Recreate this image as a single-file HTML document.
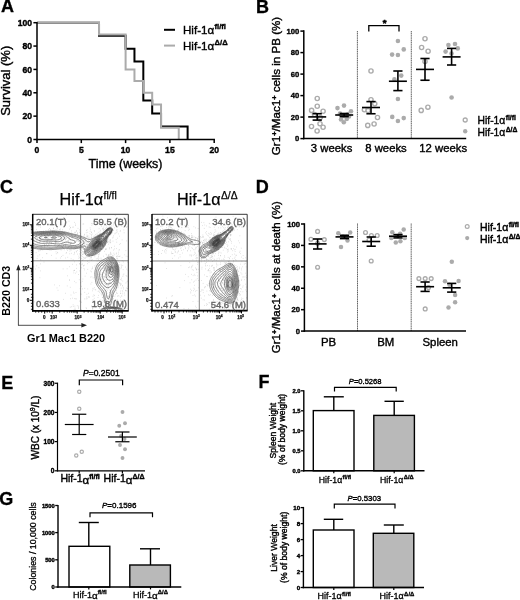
<!DOCTYPE html>
<html><head><meta charset="utf-8"><title>Figure</title>
<style>
html,body{margin:0;padding:0;background:#fff;}
svg{display:block;filter:blur(0.4px);}
svg text{font-family:"Liberation Sans",sans-serif;}
</style></head>
<body>
<svg width="520" height="600" viewBox="0 0 520 600">
<rect x="0" y="0" width="520" height="600" fill="#fff"/>
<text x="0.90" y="12.30" font-size="18" font-weight="bold" text-anchor="start" fill="#000"  stroke="#000" stroke-width="0.3">A</text>
<text x="256.00" y="12.90" font-size="18" font-weight="bold" text-anchor="start" fill="#000"  stroke="#000" stroke-width="0.3">B</text>
<text x="0.00" y="192.90" font-size="18" font-weight="bold" text-anchor="start" fill="#000"  stroke="#000" stroke-width="0.3">C</text>
<text x="255.80" y="192.80" font-size="18" font-weight="bold" text-anchor="start" fill="#000"  stroke="#000" stroke-width="0.3">D</text>
<text x="1.20" y="388.60" font-size="18" font-weight="bold" text-anchor="start" fill="#000"  stroke="#000" stroke-width="0.3">E</text>
<text x="258.40" y="388.30" font-size="18" font-weight="bold" text-anchor="start" fill="#000"  stroke="#000" stroke-width="0.3">F</text>
<text x="-0.70" y="505.10" font-size="18" font-weight="bold" text-anchor="start" fill="#000"  stroke="#000" stroke-width="0.3">G</text>
<path d="M37.00,22.70 L99.02,22.70 L99.02,35.66 L125.60,35.66 L125.60,48.63 L134.46,48.63 L134.46,61.59 L143.32,61.59 L143.32,100.61 L152.18,100.61 L152.18,113.57 L161.04,113.57 L161.04,126.54 L187.62,126.54 L187.62,139.50" fill="none" stroke="#000" stroke-width="2.0" stroke-linejoin="miter"/>
<path d="M37.00,22.70 L99.02,22.70 L99.02,34.38 L125.60,34.38 L125.60,69.42 L134.46,69.42 L134.46,81.10 L143.32,81.10 L143.32,92.78 L152.18,92.78 L152.18,104.46 L161.04,104.46 L161.04,127.82 L178.76,127.82 L178.76,139.50" fill="none" stroke="#ababab" stroke-width="2.0" stroke-linejoin="miter"/>
<line x1="37.00" y1="21.90" x2="37.00" y2="140.25" stroke="#000" stroke-width="1.5" />
<line x1="36.25" y1="139.50" x2="214.95" y2="139.50" stroke="#000" stroke-width="1.5" />
<line x1="33.40" y1="139.50" x2="37.00" y2="139.50" stroke="#000" stroke-width="1.5" />
<text x="32.00" y="142.60" font-size="8.6" font-weight="bold" text-anchor="end" fill="#000"  stroke="#000" stroke-width="0.38">0</text>
<line x1="33.40" y1="116.14" x2="37.00" y2="116.14" stroke="#000" stroke-width="1.5" />
<text x="32.00" y="119.24" font-size="8.6" font-weight="bold" text-anchor="end" fill="#000"  stroke="#000" stroke-width="0.38">20</text>
<line x1="33.40" y1="92.78" x2="37.00" y2="92.78" stroke="#000" stroke-width="1.5" />
<text x="32.00" y="95.88" font-size="8.6" font-weight="bold" text-anchor="end" fill="#000"  stroke="#000" stroke-width="0.38">40</text>
<line x1="33.40" y1="69.42" x2="37.00" y2="69.42" stroke="#000" stroke-width="1.5" />
<text x="32.00" y="72.52" font-size="8.6" font-weight="bold" text-anchor="end" fill="#000"  stroke="#000" stroke-width="0.38">60</text>
<line x1="33.40" y1="46.06" x2="37.00" y2="46.06" stroke="#000" stroke-width="1.5" />
<text x="32.00" y="49.16" font-size="8.6" font-weight="bold" text-anchor="end" fill="#000"  stroke="#000" stroke-width="0.38">80</text>
<line x1="33.40" y1="22.70" x2="37.00" y2="22.70" stroke="#000" stroke-width="1.5" />
<text x="32.00" y="25.80" font-size="8.6" font-weight="bold" text-anchor="end" fill="#000"  stroke="#000" stroke-width="0.38">100</text>
<line x1="37.00" y1="139.50" x2="37.00" y2="143.10" stroke="#000" stroke-width="1.5" />
<text x="37.00" y="153.10" font-size="8.6" font-weight="bold" text-anchor="middle" fill="#000"  stroke="#000" stroke-width="0.38">0</text>
<line x1="81.30" y1="139.50" x2="81.30" y2="143.10" stroke="#000" stroke-width="1.5" />
<text x="81.30" y="153.10" font-size="8.6" font-weight="bold" text-anchor="middle" fill="#000"  stroke="#000" stroke-width="0.38">5</text>
<line x1="125.60" y1="139.50" x2="125.60" y2="143.10" stroke="#000" stroke-width="1.5" />
<text x="125.60" y="153.10" font-size="8.6" font-weight="bold" text-anchor="middle" fill="#000"  stroke="#000" stroke-width="0.38">10</text>
<line x1="169.90" y1="139.50" x2="169.90" y2="143.10" stroke="#000" stroke-width="1.5" />
<text x="169.90" y="153.10" font-size="8.6" font-weight="bold" text-anchor="middle" fill="#000"  stroke="#000" stroke-width="0.38">15</text>
<line x1="214.20" y1="139.50" x2="214.20" y2="143.10" stroke="#000" stroke-width="1.5" />
<text x="214.20" y="153.10" font-size="8.6" font-weight="bold" text-anchor="middle" fill="#000"  stroke="#000" stroke-width="0.38">20</text>
<text x="125.50" y="168.40" font-size="12.4" font-weight="normal" text-anchor="middle" fill="#000"  stroke="#000" stroke-width="0.38">Time (weeks)</text>
<text x="10.40" y="80.80" font-size="13" font-weight="normal" text-anchor="middle" fill="#000" transform="rotate(-90 10.40 80.80)"  stroke="#000" stroke-width="0.38">Survival (%)</text>
<line x1="164.00" y1="29.80" x2="175.00" y2="29.80" stroke="#000" stroke-width="2.0" />
<line x1="164.00" y1="45.60" x2="175.00" y2="45.60" stroke="#ababab" stroke-width="2.0" />
<text x="183.00" y="34.00" font-size="11.6" font-weight="normal" text-anchor="start" fill="#000"  stroke="#000" stroke-width="0.38">Hif-1&#945;<tspan dx="0.4" dy="-5.0" font-size="7.6" font-weight="bold">fl/fl</tspan></text>
<text x="183.00" y="49.90" font-size="11.6" font-weight="normal" text-anchor="start" fill="#000"  stroke="#000" stroke-width="0.38">Hif-1&#945;<tspan dx="0.4" dy="-5.0" font-size="7.6" font-weight="bold">&#916;/&#916;</tspan></text>
<line x1="357.40" y1="31.00" x2="357.40" y2="138.60" stroke="#444" stroke-width="0.85" stroke-dasharray="1.3 0.5"/>
<line x1="411.30" y1="31.00" x2="411.30" y2="138.60" stroke="#444" stroke-width="0.85" stroke-dasharray="1.3 0.5"/>
<circle cx="317.25" cy="98.50" r="2.1" fill="#fff" stroke="#ababab" stroke-width="1.4"/>
<circle cx="317.25" cy="106.25" r="2.1" fill="#fff" stroke="#ababab" stroke-width="1.4"/>
<circle cx="311.60" cy="110.40" r="2.1" fill="#fff" stroke="#ababab" stroke-width="1.4"/>
<circle cx="323.10" cy="111.25" r="2.1" fill="#fff" stroke="#ababab" stroke-width="1.4"/>
<circle cx="314.50" cy="114.50" r="2.1" fill="#fff" stroke="#ababab" stroke-width="1.4"/>
<circle cx="320.30" cy="117.50" r="2.1" fill="#fff" stroke="#ababab" stroke-width="1.4"/>
<circle cx="320.00" cy="123.75" r="2.1" fill="#fff" stroke="#ababab" stroke-width="1.4"/>
<circle cx="311.50" cy="126.50" r="2.1" fill="#fff" stroke="#ababab" stroke-width="1.4"/>
<circle cx="323.10" cy="127.25" r="2.1" fill="#fff" stroke="#ababab" stroke-width="1.4"/>
<circle cx="317.10" cy="131.00" r="2.1" fill="#fff" stroke="#ababab" stroke-width="1.4"/>
<line x1="308.20" y1="116.90" x2="326.20" y2="116.90" stroke="#000" stroke-width="1.6" />
<line x1="317.20" y1="113.70" x2="317.20" y2="120.10" stroke="#000" stroke-width="1.6" />
<line x1="312.60" y1="113.70" x2="321.80" y2="113.70" stroke="#000" stroke-width="1.6" />
<line x1="312.60" y1="120.10" x2="321.80" y2="120.10" stroke="#000" stroke-width="1.6" />
<circle cx="337.50" cy="108.10" r="2.3" fill="#ababab"/>
<circle cx="344.00" cy="105.60" r="2.3" fill="#ababab"/>
<circle cx="351.00" cy="111.25" r="2.3" fill="#ababab"/>
<circle cx="340.00" cy="113.50" r="2.3" fill="#ababab"/>
<circle cx="347.50" cy="114.50" r="2.3" fill="#ababab"/>
<circle cx="343.60" cy="116.00" r="2.3" fill="#ababab"/>
<circle cx="341.00" cy="119.50" r="2.3" fill="#ababab"/>
<circle cx="346.70" cy="119.00" r="2.3" fill="#ababab"/>
<circle cx="343.80" cy="122.30" r="2.3" fill="#ababab"/>
<circle cx="349.00" cy="116.50" r="2.3" fill="#ababab"/>
<line x1="335.20" y1="115.00" x2="353.20" y2="115.00" stroke="#000" stroke-width="1.6" />
<line x1="344.20" y1="113.50" x2="344.20" y2="116.60" stroke="#000" stroke-width="1.6" />
<line x1="339.60" y1="113.50" x2="348.80" y2="113.50" stroke="#000" stroke-width="1.6" />
<line x1="339.60" y1="116.60" x2="348.80" y2="116.60" stroke="#000" stroke-width="1.6" />
<circle cx="371.00" cy="71.00" r="2.1" fill="#fff" stroke="#ababab" stroke-width="1.4"/>
<circle cx="371.00" cy="99.75" r="2.1" fill="#fff" stroke="#ababab" stroke-width="1.4"/>
<circle cx="374.75" cy="103.75" r="2.1" fill="#fff" stroke="#ababab" stroke-width="1.4"/>
<circle cx="364.40" cy="109.75" r="2.1" fill="#fff" stroke="#ababab" stroke-width="1.4"/>
<circle cx="368.10" cy="110.60" r="2.1" fill="#fff" stroke="#ababab" stroke-width="1.4"/>
<circle cx="377.50" cy="117.50" r="2.1" fill="#fff" stroke="#ababab" stroke-width="1.4"/>
<circle cx="374.10" cy="124.00" r="2.1" fill="#fff" stroke="#ababab" stroke-width="1.4"/>
<circle cx="367.75" cy="125.40" r="2.1" fill="#fff" stroke="#ababab" stroke-width="1.4"/>
<line x1="362.00" y1="107.50" x2="380.00" y2="107.50" stroke="#000" stroke-width="1.6" />
<line x1="371.00" y1="101.60" x2="371.00" y2="113.75" stroke="#000" stroke-width="1.6" />
<line x1="366.40" y1="101.60" x2="375.60" y2="101.60" stroke="#000" stroke-width="1.6" />
<line x1="366.40" y1="113.75" x2="375.60" y2="113.75" stroke="#000" stroke-width="1.6" />
<circle cx="397.90" cy="41.00" r="2.3" fill="#ababab"/>
<circle cx="403.75" cy="49.40" r="2.3" fill="#ababab"/>
<circle cx="392.10" cy="54.60" r="2.3" fill="#ababab"/>
<circle cx="397.90" cy="55.00" r="2.3" fill="#ababab"/>
<circle cx="401.25" cy="75.60" r="2.3" fill="#ababab"/>
<circle cx="394.40" cy="79.40" r="2.3" fill="#ababab"/>
<circle cx="397.90" cy="99.00" r="2.3" fill="#ababab"/>
<circle cx="392.25" cy="116.90" r="2.3" fill="#ababab"/>
<circle cx="403.75" cy="118.10" r="2.3" fill="#ababab"/>
<circle cx="397.90" cy="121.00" r="2.3" fill="#ababab"/>
<line x1="388.90" y1="81.25" x2="406.90" y2="81.25" stroke="#000" stroke-width="1.6" />
<line x1="397.90" y1="71.00" x2="397.90" y2="90.60" stroke="#000" stroke-width="1.6" />
<line x1="393.30" y1="71.00" x2="402.50" y2="71.00" stroke="#000" stroke-width="1.6" />
<line x1="393.30" y1="90.60" x2="402.50" y2="90.60" stroke="#000" stroke-width="1.6" />
<circle cx="425.00" cy="38.75" r="2.1" fill="#fff" stroke="#ababab" stroke-width="1.4"/>
<circle cx="421.60" cy="47.50" r="2.1" fill="#fff" stroke="#ababab" stroke-width="1.4"/>
<circle cx="428.10" cy="51.25" r="2.1" fill="#fff" stroke="#ababab" stroke-width="1.4"/>
<circle cx="425.00" cy="61.50" r="2.1" fill="#fff" stroke="#ababab" stroke-width="1.4"/>
<circle cx="427.90" cy="107.20" r="2.1" fill="#fff" stroke="#ababab" stroke-width="1.4"/>
<circle cx="421.20" cy="110.40" r="2.1" fill="#fff" stroke="#ababab" stroke-width="1.4"/>
<line x1="416.00" y1="69.40" x2="434.00" y2="69.40" stroke="#000" stroke-width="1.6" />
<line x1="425.00" y1="58.50" x2="425.00" y2="80.25" stroke="#000" stroke-width="1.6" />
<line x1="420.40" y1="58.50" x2="429.60" y2="58.50" stroke="#000" stroke-width="1.6" />
<line x1="420.40" y1="80.25" x2="429.60" y2="80.25" stroke="#000" stroke-width="1.6" />
<circle cx="448.40" cy="45.00" r="2.3" fill="#ababab"/>
<circle cx="455.00" cy="44.00" r="2.3" fill="#ababab"/>
<circle cx="457.75" cy="48.40" r="2.3" fill="#ababab"/>
<circle cx="445.60" cy="51.60" r="2.3" fill="#ababab"/>
<circle cx="451.50" cy="53.50" r="2.3" fill="#ababab"/>
<circle cx="451.60" cy="97.50" r="2.3" fill="#ababab"/>
<line x1="442.60" y1="56.90" x2="460.60" y2="56.90" stroke="#000" stroke-width="1.6" />
<line x1="451.60" y1="48.40" x2="451.60" y2="65.00" stroke="#000" stroke-width="1.6" />
<line x1="447.00" y1="48.40" x2="456.20" y2="48.40" stroke="#000" stroke-width="1.6" />
<line x1="447.00" y1="65.00" x2="456.20" y2="65.00" stroke="#000" stroke-width="1.6" />
<path d="M368.8,31.5 V25.7 H399 V31.5" fill="none" stroke="#000" stroke-width="1.3"/>
<text x="384.50" y="26.00" font-size="9.5" font-weight="bold" text-anchor="middle" fill="#000"  stroke="#000" stroke-width="0.6">*</text>
<line x1="303.80" y1="30.35" x2="303.80" y2="139.35" stroke="#000" stroke-width="1.5" />
<line x1="303.05" y1="138.60" x2="466.20" y2="138.60" stroke="#000" stroke-width="1.5" />
<line x1="300.40" y1="138.60" x2="303.80" y2="138.60" stroke="#000" stroke-width="1.5" />
<text x="299.40" y="141.40" font-size="7.7" font-weight="bold" text-anchor="end" fill="#000"  stroke="#000" stroke-width="0.35">0</text>
<line x1="300.40" y1="117.10" x2="303.80" y2="117.10" stroke="#000" stroke-width="1.5" />
<text x="299.40" y="119.90" font-size="7.7" font-weight="bold" text-anchor="end" fill="#000"  stroke="#000" stroke-width="0.35">20</text>
<line x1="300.40" y1="95.60" x2="303.80" y2="95.60" stroke="#000" stroke-width="1.5" />
<text x="299.40" y="98.40" font-size="7.7" font-weight="bold" text-anchor="end" fill="#000"  stroke="#000" stroke-width="0.35">40</text>
<line x1="300.40" y1="74.10" x2="303.80" y2="74.10" stroke="#000" stroke-width="1.5" />
<text x="299.40" y="76.90" font-size="7.7" font-weight="bold" text-anchor="end" fill="#000"  stroke="#000" stroke-width="0.35">60</text>
<line x1="300.40" y1="52.60" x2="303.80" y2="52.60" stroke="#000" stroke-width="1.5" />
<text x="299.40" y="55.40" font-size="7.7" font-weight="bold" text-anchor="end" fill="#000"  stroke="#000" stroke-width="0.35">80</text>
<line x1="300.40" y1="31.10" x2="303.80" y2="31.10" stroke="#000" stroke-width="1.5" />
<text x="299.40" y="33.90" font-size="7.7" font-weight="bold" text-anchor="end" fill="#000"  stroke="#000" stroke-width="0.35">100</text>
<text x="331.60" y="152.20" font-size="11.3" font-weight="normal" text-anchor="middle" fill="#000"  stroke="#000" stroke-width="0.38">3 weeks</text>
<text x="386.00" y="152.20" font-size="11.3" font-weight="normal" text-anchor="middle" fill="#000"  stroke="#000" stroke-width="0.38">8 weeks</text>
<text x="443.20" y="152.20" font-size="11.3" font-weight="normal" text-anchor="middle" fill="#000"  stroke="#000" stroke-width="0.38">12 weeks</text>
<text x="280.20" y="86.00" font-size="11.6" font-weight="normal" text-anchor="middle" fill="#000" transform="rotate(-90 280.20 86.00)"  stroke="#000" stroke-width="0.38">Gr1<tspan dy="-3.6" font-size="7.6" font-weight="bold">+</tspan><tspan dy="3.6">/Mac1</tspan><tspan dy="-3.6" font-size="7.6" font-weight="bold">+</tspan><tspan dy="3.6"> cells in PB (%)</tspan></text>
<circle cx="465.20" cy="120.00" r="2.0" fill="#fff" stroke="#ababab" stroke-width="1.3"/>
<circle cx="465.20" cy="131.30" r="2.2" fill="#ababab"/>
<text x="477.60" y="124.40" font-size="10.3" font-weight="normal" text-anchor="start" fill="#000"  stroke="#000" stroke-width="0.38">Hif-1&#945;<tspan dx="0.4" dy="-4.2" font-size="6.8" font-weight="bold">fl/fl</tspan></text>
<text x="477.60" y="135.70" font-size="10.3" font-weight="normal" text-anchor="start" fill="#000"  stroke="#000" stroke-width="0.38">Hif-1&#945;<tspan dx="0.4" dy="-4.2" font-size="6.8" font-weight="bold">&#916;/&#916;</tspan></text>
<line x1="357.50" y1="223.50" x2="357.50" y2="331.10" stroke="#444" stroke-width="0.85" stroke-dasharray="1.3 0.5"/>
<line x1="411.20" y1="223.50" x2="411.20" y2="331.10" stroke="#444" stroke-width="0.85" stroke-dasharray="1.3 0.5"/>
<circle cx="317.60" cy="231.40" r="1.9" fill="#fff" stroke="#ababab" stroke-width="1.35"/>
<circle cx="310.90" cy="239.20" r="1.9" fill="#fff" stroke="#ababab" stroke-width="1.35"/>
<circle cx="324.30" cy="239.60" r="1.9" fill="#fff" stroke="#ababab" stroke-width="1.35"/>
<circle cx="317.60" cy="243.30" r="1.9" fill="#fff" stroke="#ababab" stroke-width="1.35"/>
<circle cx="317.60" cy="267.20" r="1.9" fill="#fff" stroke="#ababab" stroke-width="1.35"/>
<line x1="308.60" y1="243.90" x2="326.60" y2="243.90" stroke="#000" stroke-width="1.6" />
<line x1="317.60" y1="239.00" x2="317.60" y2="249.00" stroke="#000" stroke-width="1.6" />
<line x1="313.00" y1="239.00" x2="322.20" y2="239.00" stroke="#000" stroke-width="1.6" />
<line x1="313.00" y1="249.00" x2="322.20" y2="249.00" stroke="#000" stroke-width="1.6" />
<circle cx="338.30" cy="233.20" r="2.25" fill="#ababab"/>
<circle cx="350.20" cy="232.50" r="2.25" fill="#ababab"/>
<circle cx="347.50" cy="240.60" r="2.25" fill="#ababab"/>
<circle cx="341.00" cy="246.90" r="2.25" fill="#ababab"/>
<circle cx="343.00" cy="236.50" r="2.25" fill="#ababab"/>
<circle cx="346.50" cy="236.80" r="2.25" fill="#ababab"/>
<line x1="335.50" y1="236.90" x2="353.50" y2="236.90" stroke="#000" stroke-width="1.6" />
<line x1="344.50" y1="235.30" x2="344.50" y2="238.60" stroke="#000" stroke-width="1.6" />
<line x1="339.90" y1="235.30" x2="349.10" y2="235.30" stroke="#000" stroke-width="1.6" />
<line x1="339.90" y1="238.60" x2="349.10" y2="238.60" stroke="#000" stroke-width="1.6" />
<circle cx="365.50" cy="232.50" r="1.9" fill="#fff" stroke="#ababab" stroke-width="1.35"/>
<circle cx="371.40" cy="235.50" r="1.9" fill="#fff" stroke="#ababab" stroke-width="1.35"/>
<circle cx="377.20" cy="235.50" r="1.9" fill="#fff" stroke="#ababab" stroke-width="1.35"/>
<circle cx="369.00" cy="240.00" r="1.9" fill="#fff" stroke="#ababab" stroke-width="1.35"/>
<circle cx="371.20" cy="261.00" r="1.9" fill="#fff" stroke="#ababab" stroke-width="1.35"/>
<line x1="362.20" y1="241.50" x2="380.20" y2="241.50" stroke="#000" stroke-width="1.6" />
<line x1="371.20" y1="237.00" x2="371.20" y2="246.20" stroke="#000" stroke-width="1.6" />
<line x1="366.60" y1="237.00" x2="375.80" y2="237.00" stroke="#000" stroke-width="1.6" />
<line x1="366.60" y1="246.20" x2="375.80" y2="246.20" stroke="#000" stroke-width="1.6" />
<circle cx="403.70" cy="229.50" r="2.25" fill="#ababab"/>
<circle cx="392.30" cy="232.20" r="2.25" fill="#ababab"/>
<circle cx="400.10" cy="233.80" r="2.25" fill="#ababab"/>
<circle cx="391.30" cy="237.90" r="2.25" fill="#ababab"/>
<circle cx="404.80" cy="237.90" r="2.25" fill="#ababab"/>
<circle cx="400.40" cy="241.20" r="2.25" fill="#ababab"/>
<circle cx="395.80" cy="242.60" r="2.25" fill="#ababab"/>
<circle cx="397.50" cy="236.00" r="2.25" fill="#ababab"/>
<line x1="389.00" y1="236.20" x2="407.00" y2="236.20" stroke="#000" stroke-width="1.6" />
<line x1="398.00" y1="234.60" x2="398.00" y2="237.90" stroke="#000" stroke-width="1.6" />
<line x1="393.40" y1="234.60" x2="402.60" y2="234.60" stroke="#000" stroke-width="1.6" />
<line x1="393.40" y1="237.90" x2="402.60" y2="237.90" stroke="#000" stroke-width="1.6" />
<circle cx="418.90" cy="278.60" r="1.9" fill="#fff" stroke="#ababab" stroke-width="1.35"/>
<circle cx="425.20" cy="278.60" r="1.9" fill="#fff" stroke="#ababab" stroke-width="1.35"/>
<circle cx="431.20" cy="278.60" r="1.9" fill="#fff" stroke="#ababab" stroke-width="1.35"/>
<circle cx="428.50" cy="287.50" r="1.9" fill="#fff" stroke="#ababab" stroke-width="1.35"/>
<circle cx="425.20" cy="308.90" r="1.9" fill="#fff" stroke="#ababab" stroke-width="1.35"/>
<line x1="416.10" y1="286.70" x2="434.10" y2="286.70" stroke="#000" stroke-width="1.6" />
<line x1="425.10" y1="282.00" x2="425.10" y2="291.40" stroke="#000" stroke-width="1.6" />
<line x1="420.50" y1="282.00" x2="429.70" y2="282.00" stroke="#000" stroke-width="1.6" />
<line x1="420.50" y1="291.40" x2="429.70" y2="291.40" stroke="#000" stroke-width="1.6" />
<circle cx="451.80" cy="261.80" r="2.25" fill="#ababab"/>
<circle cx="445.00" cy="281.30" r="2.25" fill="#ababab"/>
<circle cx="458.60" cy="281.00" r="2.25" fill="#ababab"/>
<circle cx="449.40" cy="284.70" r="2.25" fill="#ababab"/>
<circle cx="455.10" cy="295.00" r="2.25" fill="#ababab"/>
<circle cx="455.10" cy="302.20" r="2.25" fill="#ababab"/>
<circle cx="448.50" cy="307.60" r="2.25" fill="#ababab"/>
<line x1="442.70" y1="287.80" x2="460.70" y2="287.80" stroke="#000" stroke-width="1.6" />
<line x1="451.70" y1="283.40" x2="451.70" y2="292.10" stroke="#000" stroke-width="1.6" />
<line x1="447.10" y1="283.40" x2="456.30" y2="283.40" stroke="#000" stroke-width="1.6" />
<line x1="447.10" y1="292.10" x2="456.30" y2="292.10" stroke="#000" stroke-width="1.6" />
<line x1="304.40" y1="223.25" x2="304.40" y2="331.85" stroke="#000" stroke-width="1.5" />
<line x1="303.65" y1="331.10" x2="466.00" y2="331.10" stroke="#000" stroke-width="1.5" />
<line x1="301.00" y1="331.10" x2="304.40" y2="331.10" stroke="#000" stroke-width="1.5" />
<text x="300.00" y="333.90" font-size="7.7" font-weight="bold" text-anchor="end" fill="#000"  stroke="#000" stroke-width="0.35">0</text>
<line x1="301.00" y1="309.68" x2="304.40" y2="309.68" stroke="#000" stroke-width="1.5" />
<text x="300.00" y="312.48" font-size="7.7" font-weight="bold" text-anchor="end" fill="#000"  stroke="#000" stroke-width="0.35">20</text>
<line x1="301.00" y1="288.26" x2="304.40" y2="288.26" stroke="#000" stroke-width="1.5" />
<text x="300.00" y="291.06" font-size="7.7" font-weight="bold" text-anchor="end" fill="#000"  stroke="#000" stroke-width="0.35">40</text>
<line x1="301.00" y1="266.84" x2="304.40" y2="266.84" stroke="#000" stroke-width="1.5" />
<text x="300.00" y="269.64" font-size="7.7" font-weight="bold" text-anchor="end" fill="#000"  stroke="#000" stroke-width="0.35">60</text>
<line x1="301.00" y1="245.42" x2="304.40" y2="245.42" stroke="#000" stroke-width="1.5" />
<text x="300.00" y="248.22" font-size="7.7" font-weight="bold" text-anchor="end" fill="#000"  stroke="#000" stroke-width="0.35">80</text>
<line x1="301.00" y1="224.00" x2="304.40" y2="224.00" stroke="#000" stroke-width="1.5" />
<text x="300.00" y="226.80" font-size="7.7" font-weight="bold" text-anchor="end" fill="#000"  stroke="#000" stroke-width="0.35">100</text>
<text x="328.50" y="346.20" font-size="11.4" font-weight="normal" text-anchor="middle" fill="#000"  stroke="#000" stroke-width="0.38">PB</text>
<text x="385.70" y="346.20" font-size="11.4" font-weight="normal" text-anchor="middle" fill="#000"  stroke="#000" stroke-width="0.38">BM</text>
<text x="440.20" y="346.20" font-size="11.4" font-weight="normal" text-anchor="middle" fill="#000"  stroke="#000" stroke-width="0.38">Spleen</text>
<text x="280.40" y="277.20" font-size="11.55" font-weight="normal" text-anchor="middle" fill="#000" transform="rotate(-90 280.40 277.20)"  stroke="#000" stroke-width="0.38">Gr1<tspan dy="-3.6" font-size="7.6" font-weight="bold">+</tspan><tspan dy="3.6">/Mac1</tspan><tspan dy="-3.6" font-size="7.6" font-weight="bold">+</tspan><tspan dy="3.6"> cells at death (%)</tspan></text>
<circle cx="467.20" cy="226.50" r="1.9" fill="#fff" stroke="#ababab" stroke-width="1.2"/>
<circle cx="467.20" cy="238.10" r="2.1" fill="#ababab"/>
<text x="480.00" y="231.00" font-size="10.5" font-weight="normal" text-anchor="start" fill="#000"  stroke="#000" stroke-width="0.45">Hif-1&#945;<tspan dx="0.4" dy="-4.1" font-size="6.8" font-weight="bold">fl/fl</tspan></text>
<text x="480.00" y="242.60" font-size="10.5" font-weight="normal" text-anchor="start" fill="#000"  stroke="#000" stroke-width="0.45">Hif-1&#945;<tspan dx="0.4" dy="-4.1" font-size="6.8" font-weight="bold">&#916;/&#916;</tspan></text>
<circle cx="79.25" cy="391.75" r="1.65" fill="#fff" stroke="#ababab" stroke-width="1.2"/>
<circle cx="79.25" cy="408.75" r="1.65" fill="#fff" stroke="#ababab" stroke-width="1.2"/>
<circle cx="81.75" cy="451.75" r="1.65" fill="#fff" stroke="#ababab" stroke-width="1.2"/>
<circle cx="76.25" cy="455.50" r="1.65" fill="#fff" stroke="#ababab" stroke-width="1.2"/>
<line x1="64.80" y1="424.50" x2="93.60" y2="424.50" stroke="#000" stroke-width="1.2" />
<line x1="79.20" y1="414.25" x2="79.20" y2="434.50" stroke="#000" stroke-width="1.2" />
<line x1="72.10" y1="414.25" x2="86.30" y2="414.25" stroke="#000" stroke-width="1.2" />
<line x1="72.10" y1="434.50" x2="86.30" y2="434.50" stroke="#000" stroke-width="1.2" />
<circle cx="122.50" cy="412.00" r="1.95" fill="#ababab"/>
<circle cx="125.00" cy="423.25" r="1.95" fill="#ababab"/>
<circle cx="119.25" cy="425.75" r="1.95" fill="#ababab"/>
<circle cx="120.00" cy="445.00" r="1.95" fill="#ababab"/>
<circle cx="125.00" cy="449.25" r="1.95" fill="#ababab"/>
<circle cx="122.50" cy="458.00" r="1.95" fill="#ababab"/>
<circle cx="121.00" cy="436.00" r="1.95" fill="#ababab"/>
<circle cx="124.50" cy="439.00" r="1.95" fill="#ababab"/>
<line x1="108.00" y1="437.00" x2="136.80" y2="437.00" stroke="#000" stroke-width="1.2" />
<line x1="122.40" y1="432.00" x2="122.40" y2="441.75" stroke="#000" stroke-width="1.2" />
<line x1="115.30" y1="432.00" x2="129.50" y2="432.00" stroke="#000" stroke-width="1.2" />
<line x1="115.30" y1="441.75" x2="129.50" y2="441.75" stroke="#000" stroke-width="1.2" />
<path d="M79.3,385.2 V380 H122.6 V385.2" fill="none" stroke="#000" stroke-width="1.2"/>
<text x="83.00" y="376.00" font-size="8.5" font-weight="normal" text-anchor="start" fill="#000"  stroke="#000" stroke-width="0.35"><tspan font-style="italic">P</tspan>=0.2501</text>
<line x1="57.50" y1="382.66" x2="57.50" y2="471.40" stroke="#000" stroke-width="1.2" />
<line x1="56.90" y1="470.80" x2="145.00" y2="470.80" stroke="#000" stroke-width="1.2" />
<line x1="54.70" y1="470.80" x2="57.50" y2="470.80" stroke="#000" stroke-width="1.2" />
<text x="54.50" y="473.20" font-size="6.6" font-weight="bold" text-anchor="end" fill="#000"  stroke="#000" stroke-width="0.38">0</text>
<line x1="54.70" y1="441.62" x2="57.50" y2="441.62" stroke="#000" stroke-width="1.2" />
<text x="54.50" y="444.02" font-size="6.6" font-weight="bold" text-anchor="end" fill="#000"  stroke="#000" stroke-width="0.38">100</text>
<line x1="54.70" y1="412.44" x2="57.50" y2="412.44" stroke="#000" stroke-width="1.2" />
<text x="54.50" y="414.84" font-size="6.6" font-weight="bold" text-anchor="end" fill="#000"  stroke="#000" stroke-width="0.38">200</text>
<line x1="54.70" y1="383.26" x2="57.50" y2="383.26" stroke="#000" stroke-width="1.2" />
<text x="54.50" y="385.66" font-size="6.6" font-weight="bold" text-anchor="end" fill="#000"  stroke="#000" stroke-width="0.38">300</text>
<line x1="79.20" y1="470.80" x2="79.20" y2="473.40" stroke="#000" stroke-width="1.2" />
<line x1="122.40" y1="470.80" x2="122.40" y2="473.40" stroke="#000" stroke-width="1.2" />
<text x="38.50" y="427.50" font-size="10" font-weight="normal" text-anchor="middle" fill="#000" transform="rotate(-90 38.50 427.50)"  stroke="#000" stroke-width="0.38">WBC (x 10<tspan dy="-3.2" font-size="7">9</tspan><tspan dy="3.2">/L)</tspan></text>
<text x="60.40" y="482.40" font-size="10.5" font-weight="normal" text-anchor="start" fill="#000"  stroke="#000" stroke-width="0.4">Hif-1<tspan dy="1.3" font-size="11.5">&#945;</tspan><tspan dy="-4.9" font-size="7" font-weight="bold">fl/fl</tspan></text>
<text x="103.60" y="482.40" font-size="10.5" font-weight="normal" text-anchor="start" fill="#000"  stroke="#000" stroke-width="0.4">Hif-1<tspan dy="1.3" font-size="11.5">&#945;</tspan><tspan dy="-4.9" font-size="7" font-weight="bold">&#916;/&#916;</tspan></text>
<line x1="333.80" y1="396.80" x2="333.80" y2="410.60" stroke="#000" stroke-width="1.4" />
<line x1="323.80" y1="396.80" x2="343.80" y2="396.80" stroke="#000" stroke-width="1.4" />
<rect x="313.30" y="410.60" width="40.70" height="60.20" fill="#fff" stroke="#000" stroke-width="1.4"/>
<line x1="333.80" y1="470.80" x2="333.80" y2="473.20" stroke="#000" stroke-width="1.2" />
<line x1="394.20" y1="401.30" x2="394.20" y2="415.40" stroke="#000" stroke-width="1.4" />
<line x1="384.50" y1="401.30" x2="403.80" y2="401.30" stroke="#000" stroke-width="1.4" />
<rect x="373.80" y="415.40" width="40.60" height="55.40" fill="#b9b9b9" stroke="#000" stroke-width="1.4"/>
<line x1="394.20" y1="470.80" x2="394.20" y2="473.20" stroke="#000" stroke-width="1.2" />
<line x1="303.80" y1="390.20" x2="303.80" y2="471.50" stroke="#000" stroke-width="1.4" />
<line x1="303.10" y1="470.80" x2="424.50" y2="470.80" stroke="#000" stroke-width="1.4" />
<line x1="301.00" y1="470.80" x2="303.80" y2="470.80" stroke="#000" stroke-width="1.3" />
<text x="300.60" y="473.00" font-size="5.8" font-weight="bold" text-anchor="end" fill="#000"  stroke="#000" stroke-width="0.38">0.0</text>
<line x1="301.00" y1="450.80" x2="303.80" y2="450.80" stroke="#000" stroke-width="1.3" />
<text x="300.60" y="453.00" font-size="5.8" font-weight="bold" text-anchor="end" fill="#000"  stroke="#000" stroke-width="0.38">0.5</text>
<line x1="301.00" y1="430.80" x2="303.80" y2="430.80" stroke="#000" stroke-width="1.3" />
<text x="300.60" y="433.00" font-size="5.8" font-weight="bold" text-anchor="end" fill="#000"  stroke="#000" stroke-width="0.38">1.0</text>
<line x1="301.00" y1="410.80" x2="303.80" y2="410.80" stroke="#000" stroke-width="1.3" />
<text x="300.60" y="413.00" font-size="5.8" font-weight="bold" text-anchor="end" fill="#000"  stroke="#000" stroke-width="0.38">1.5</text>
<line x1="301.00" y1="390.80" x2="303.80" y2="390.80" stroke="#000" stroke-width="1.3" />
<text x="300.60" y="393.00" font-size="5.8" font-weight="bold" text-anchor="end" fill="#000"  stroke="#000" stroke-width="0.38">2.0</text>
<path d="M334.5,391.4 V387.3 H396.2 V391.4" fill="none" stroke="#000" stroke-width="1.2"/>
<text x="348.80" y="383.80" font-size="7.6" font-weight="normal" text-anchor="start" fill="#000"  stroke="#000" stroke-width="0.35"><tspan font-style="italic">P</tspan>=0.5268</text>
<text x="318.80" y="482.60" font-size="8.7" font-weight="normal" text-anchor="start" fill="#000"  stroke="#000" stroke-width="0.3">Hif-1&#945;<tspan dx="0.4" dy="-3.48" font-size="5.742" font-weight="bold">fl/fl</tspan></text>
<text x="380.00" y="482.60" font-size="8.7" font-weight="normal" text-anchor="start" fill="#000"  stroke="#000" stroke-width="0.3">Hif-1&#945;<tspan dx="0.4" dy="-3.48" font-size="5.742" font-weight="bold">&#916;/&#916;</tspan></text>
<text x="276.30" y="430.60" font-size="8.6" font-weight="normal" text-anchor="middle" fill="#000" transform="rotate(-90 276.30 430.60)"  stroke="#000" stroke-width="0.38">Spleen Weight</text>
<text x="285.00" y="429.40" font-size="8.6" font-weight="normal" text-anchor="middle" fill="#000" transform="rotate(-90 285.00 429.40)"  stroke="#000" stroke-width="0.38">(% of body weight)</text>
<line x1="333.80" y1="519.30" x2="333.80" y2="530.00" stroke="#000" stroke-width="1.4" />
<line x1="323.80" y1="519.30" x2="343.20" y2="519.30" stroke="#000" stroke-width="1.4" />
<rect x="313.30" y="530.00" width="40.70" height="57.50" fill="#fff" stroke="#000" stroke-width="1.4"/>
<line x1="333.80" y1="587.50" x2="333.80" y2="589.90" stroke="#000" stroke-width="1.2" />
<line x1="393.80" y1="525.00" x2="393.80" y2="533.30" stroke="#000" stroke-width="1.4" />
<line x1="383.80" y1="525.00" x2="403.80" y2="525.00" stroke="#000" stroke-width="1.4" />
<rect x="373.30" y="533.30" width="40.50" height="54.20" fill="#b9b9b9" stroke="#000" stroke-width="1.4"/>
<line x1="393.80" y1="587.50" x2="393.80" y2="589.90" stroke="#000" stroke-width="1.2" />
<line x1="303.40" y1="506.90" x2="303.40" y2="588.20" stroke="#000" stroke-width="1.4" />
<line x1="302.70" y1="587.50" x2="424.00" y2="587.50" stroke="#000" stroke-width="1.4" />
<line x1="300.60" y1="587.50" x2="303.40" y2="587.50" stroke="#000" stroke-width="1.3" />
<text x="300.20" y="589.70" font-size="6.2" font-weight="bold" text-anchor="end" fill="#000"  stroke="#000" stroke-width="0.38">0</text>
<line x1="300.60" y1="571.60" x2="303.40" y2="571.60" stroke="#000" stroke-width="1.3" />
<text x="300.20" y="573.80" font-size="6.2" font-weight="bold" text-anchor="end" fill="#000"  stroke="#000" stroke-width="0.38">2</text>
<line x1="300.60" y1="555.60" x2="303.40" y2="555.60" stroke="#000" stroke-width="1.3" />
<text x="300.20" y="557.80" font-size="6.2" font-weight="bold" text-anchor="end" fill="#000"  stroke="#000" stroke-width="0.38">4</text>
<line x1="300.60" y1="539.60" x2="303.40" y2="539.60" stroke="#000" stroke-width="1.3" />
<text x="300.20" y="541.80" font-size="6.2" font-weight="bold" text-anchor="end" fill="#000"  stroke="#000" stroke-width="0.38">6</text>
<line x1="300.60" y1="523.60" x2="303.40" y2="523.60" stroke="#000" stroke-width="1.3" />
<text x="300.20" y="525.80" font-size="6.2" font-weight="bold" text-anchor="end" fill="#000"  stroke="#000" stroke-width="0.38">8</text>
<line x1="300.60" y1="507.60" x2="303.40" y2="507.60" stroke="#000" stroke-width="1.3" />
<text x="300.20" y="509.80" font-size="6.2" font-weight="bold" text-anchor="end" fill="#000"  stroke="#000" stroke-width="0.38">10</text>
<path d="M334.3,508.5 V504.1 H395 V508.5" fill="none" stroke="#000" stroke-width="1.2"/>
<text x="347.50" y="500.80" font-size="7.8" font-weight="normal" text-anchor="start" fill="#000"  stroke="#000" stroke-width="0.35"><tspan font-style="italic">P</tspan>=0.5303</text>
<text x="317.50" y="599.20" font-size="9.0" font-weight="normal" text-anchor="start" fill="#000"  stroke="#000" stroke-width="0.3">Hif-1&#945;<tspan dx="0.4" dy="-3.6" font-size="5.94" font-weight="bold">fl/fl</tspan></text>
<text x="379.50" y="599.20" font-size="9.0" font-weight="normal" text-anchor="start" fill="#000"  stroke="#000" stroke-width="0.3">Hif-1&#945;<tspan dx="0.4" dy="-3.6" font-size="5.94" font-weight="bold">&#916;/&#916;</tspan></text>
<text x="276.90" y="548.00" font-size="8.6" font-weight="normal" text-anchor="middle" fill="#000" transform="rotate(-90 276.90 548.00)"  stroke="#000" stroke-width="0.38">Liver Weight</text>
<text x="287.00" y="547.30" font-size="8.6" font-weight="normal" text-anchor="middle" fill="#000" transform="rotate(-90 287.00 547.30)"  stroke="#000" stroke-width="0.38">(% of body weight)</text>
<line x1="88.80" y1="522.50" x2="88.80" y2="546.30" stroke="#000" stroke-width="1.4" />
<line x1="78.80" y1="522.50" x2="98.80" y2="522.50" stroke="#000" stroke-width="1.4" />
<rect x="69.00" y="546.30" width="40.80" height="40.70" fill="#fff" stroke="#000" stroke-width="1.4"/>
<line x1="88.80" y1="587.00" x2="88.80" y2="589.40" stroke="#000" stroke-width="1.2" />
<line x1="150.50" y1="548.80" x2="150.50" y2="565.00" stroke="#000" stroke-width="1.4" />
<line x1="140.00" y1="548.80" x2="160.00" y2="548.80" stroke="#000" stroke-width="1.4" />
<rect x="129.80" y="565.00" width="40.60" height="22.00" fill="#b9b9b9" stroke="#000" stroke-width="1.4"/>
<line x1="150.50" y1="587.00" x2="150.50" y2="589.40" stroke="#000" stroke-width="1.2" />
<line x1="58.00" y1="504.90" x2="58.00" y2="587.70" stroke="#000" stroke-width="1.4" />
<line x1="57.30" y1="587.00" x2="181.30" y2="587.00" stroke="#000" stroke-width="1.4" />
<line x1="55.20" y1="587.00" x2="58.00" y2="587.00" stroke="#000" stroke-width="1.3" />
<text x="54.80" y="589.20" font-size="5.8" font-weight="bold" text-anchor="end" fill="#000"  stroke="#000" stroke-width="0.38">0</text>
<line x1="55.20" y1="559.80" x2="58.00" y2="559.80" stroke="#000" stroke-width="1.3" />
<text x="54.80" y="562.00" font-size="5.8" font-weight="bold" text-anchor="end" fill="#000"  stroke="#000" stroke-width="0.38">500</text>
<line x1="55.20" y1="532.60" x2="58.00" y2="532.60" stroke="#000" stroke-width="1.3" />
<text x="54.80" y="534.80" font-size="5.8" font-weight="bold" text-anchor="end" fill="#000"  stroke="#000" stroke-width="0.38">1000</text>
<line x1="55.20" y1="505.50" x2="58.00" y2="505.50" stroke="#000" stroke-width="1.3" />
<text x="54.80" y="507.70" font-size="5.8" font-weight="bold" text-anchor="end" fill="#000"  stroke="#000" stroke-width="0.38">1500</text>
<path d="M90,517.2 V512.8 H152.5 V517.2" fill="none" stroke="#000" stroke-width="1.2"/>
<text x="102.00" y="508.30" font-size="8.0" font-weight="normal" text-anchor="start" fill="#000"  stroke="#000" stroke-width="0.35"><tspan font-style="italic">P</tspan>=0.1596</text>
<text x="72.90" y="597.50" font-size="9.0" font-weight="normal" text-anchor="start" fill="#000"  stroke="#000" stroke-width="0.3">Hif-1<tspan dy="1.3" font-size="9.9">&#945;</tspan><tspan dy="-4.9" font-size="5.94" font-weight="bold">fl/fl</tspan></text>
<text x="133.00" y="597.50" font-size="9.0" font-weight="normal" text-anchor="start" fill="#000"  stroke="#000" stroke-width="0.3">Hif-1<tspan dy="1.3" font-size="9.9">&#945;</tspan><tspan dy="-4.9" font-size="5.94" font-weight="bold">&#916;/&#916;</tspan></text>
<text x="36.00" y="546.50" font-size="8.8" font-weight="normal" text-anchor="middle" fill="#000" transform="rotate(-90 36.00 546.50)"  stroke="#000" stroke-width="0.3">Colonies / 10,000 cells</text>
<clipPath id="clipL"><rect x="32.7" y="214.3" width="95.60000000000001" height="96.5"/></clipPath>
<g clip-path="url(#clipL)">
<path d="M74.6,232.8h0.6M81.1,242.4h0.6M48.4,236.3h0.6M55.6,232.4h0.6M49.8,237.1h0.6M77.3,233.9h0.6M62.9,237.8h0.6M90.8,234.5h0.6M51.6,231.4h0.6M51.5,238.4h0.6M39.6,231.9h0.6M37.2,238.9h0.6M91.3,237.8h0.6M49.1,234.5h0.6M57.3,236.8h0.6M48.8,239.6h0.6M32.9,237.2h0.6M41.7,233.0h0.6M40.9,235.1h0.6M44.3,235.4h0.6M58.6,231.6h0.6M51.8,238.2h0.6M69.1,229.1h0.6M48.3,244.3h0.6M46.9,233.8h0.6M42.3,238.6h0.6M47.6,236.9h0.6M63.8,237.4h0.6M70.5,243.0h0.6M58.0,236.4h0.6M66.1,238.4h0.6M76.4,241.2h0.6M76.7,240.0h0.6M79.3,242.0h0.6M60.5,234.7h0.6M48.5,240.6h0.6M91.8,234.0h0.6M45.5,236.5h0.6M84.3,235.0h0.6M48.2,231.6h0.6M36.6,234.3h0.6M40.2,241.6h0.6M37.7,232.0h0.6M90.7,238.3h0.6M46.5,241.7h0.6M43.9,234.9h0.6M54.0,231.3h0.6M64.6,236.7h0.6M38.8,242.5h0.6M36.3,229.4h0.6M80.3,234.6h0.6M44.3,235.5h0.6M64.9,239.0h0.6M52.3,231.3h0.6M34.4,241.7h0.6M81.3,236.0h0.6M54.6,242.0h0.6M53.8,232.1h0.6M74.9,235.7h0.6M35.6,243.8h0.6M60.9,237.5h0.6M91.4,232.2h0.6M63.7,239.2h0.6M78.6,237.9h0.6M39.7,234.2h0.6M78.7,241.5h0.6M46.8,242.4h0.6M36.3,240.9h0.6M49.8,234.1h0.6M71.6,236.8h0.6M35.6,235.9h0.6M45.6,237.6h0.6M38.4,237.4h0.6M69.3,238.8h0.6M49.4,244.7h0.6M71.0,237.4h0.6M93.0,241.0h0.6M47.6,235.1h0.6M37.3,237.8h0.6M50.8,240.0h0.6M54.9,240.6h0.6M52.9,235.6h0.6M38.1,235.1h0.6M46.8,241.3h0.6M66.4,237.9h0.6M41.9,235.3h0.6M66.4,242.8h0.6M63.3,234.8h0.6M36.5,236.8h0.6M68.5,243.3h0.6M58.3,234.1h0.6M59.8,239.6h0.6M72.0,236.5h0.6M36.7,238.2h0.6M39.8,236.8h0.6M76.2,247.5h0.6M65.5,239.8h0.6M50.2,236.9h0.6M39.3,241.0h0.6M64.1,242.5h0.6M55.1,240.2h0.6M59.8,235.1h0.6M49.0,233.3h0.6M80.8,240.4h0.6M86.7,235.1h0.6M52.0,241.5h0.6M49.9,233.0h0.6M77.8,241.1h0.6M40.4,238.7h0.6M75.7,234.6h0.6M47.4,235.1h0.6M50.3,229.6h0.6M56.1,232.1h0.6M74.9,240.9h0.6M40.5,238.1h0.6M39.8,238.5h0.6M50.5,233.4h0.6M68.5,240.3h0.6M46.8,232.6h0.6M71.7,236.1h0.6M47.7,238.4h0.6M50.3,241.1h0.6M51.1,239.9h0.6M40.4,238.8h0.6M63.0,239.0h0.6M48.0,229.6h0.6M69.6,236.5h0.6M44.9,230.9h0.6M56.4,235.2h0.6M53.4,235.7h0.6M52.4,232.0h0.6M60.4,238.8h0.6M39.1,234.5h0.6M80.7,246.9h0.6M64.1,249.7h0.6M40.6,246.6h0.6M77.0,232.8h0.6M62.7,255.4h0.6M46.6,242.6h0.6M100.8,241.6h0.6M61.0,238.9h0.6M33.3,247.9h0.6M74.8,232.1h0.6M65.3,239.6h0.6M77.5,237.7h0.6M86.7,243.8h0.6M62.3,229.8h0.6M44.9,236.1h0.6M79.1,242.0h0.6M40.2,241.1h0.6M66.0,252.5h0.6M87.2,236.9h0.6M77.1,247.8h0.6M70.3,239.4h0.6M74.7,236.8h0.6M47.2,238.0h0.6M53.6,230.3h0.6M38.6,226.2h0.6M42.1,257.7h0.6M45.8,244.4h0.6M40.0,238.6h0.6M57.5,252.9h0.6M79.1,249.5h0.6M41.4,231.6h0.6M82.0,244.0h0.6M32.8,237.7h0.6M98.7,260.6h0.6M81.4,252.9h0.6M40.9,249.6h0.6M36.3,233.8h0.6M51.1,255.4h0.6M79.9,254.9h0.6M39.6,250.8h0.6M59.2,244.6h0.6M33.3,215.1h0.6M43.4,220.3h0.6M121.8,239.9h0.6M55.9,253.7h0.6M50.1,230.6h0.6M93.3,248.0h0.6M69.8,243.9h0.6M44.3,244.8h0.6M47.9,244.0h0.6M86.8,229.8h0.6M36.8,258.4h0.6M64.1,232.0h0.6M39.5,238.0h0.6M114.2,246.2h0.6M55.6,242.5h0.6M76.0,230.7h0.6M68.7,221.2h0.6M46.6,231.0h0.6M36.5,265.8h0.6M70.5,244.3h0.6M79.2,253.8h0.6M55.0,242.0h0.6M44.6,245.4h0.6M55.2,243.3h0.6M61.3,256.5h0.6M68.4,247.4h0.6M54.3,244.9h0.6M76.4,240.2h0.6M37.3,243.0h0.6M63.3,245.5h0.6M40.9,233.9h0.6M79.5,241.4h0.6M90.0,229.7h0.6M61.1,239.7h0.6M41.0,248.3h0.6M42.8,232.0h0.6M67.5,257.3h0.6M83.2,249.0h0.6M126.3,240.9h0.6M51.0,243.3h0.6M55.4,234.4h0.6M78.9,238.5h0.6M77.7,228.4h0.6M40.0,250.0h0.6M82.3,244.4h0.6M53.0,243.6h0.6M84.8,249.9h0.6M44.3,246.3h0.6M48.6,238.4h0.6M94.3,231.6h0.6M49.7,243.1h0.6M128.2,239.0h0.6M81.8,252.1h0.6M83.5,223.9h0.6M46.0,253.6h0.6M40.7,233.9h0.6M80.5,249.4h0.6M79.4,229.9h0.6M40.0,227.1h0.6M55.8,258.2h0.6M83.5,236.2h0.6M101.3,239.2h0.6M39.7,248.6h0.6M66.7,242.2h0.6M54.3,235.8h0.6M39.5,237.5h0.6M52.3,236.1h0.6M61.6,240.4h0.6M102.8,264.2h0.6M68.4,232.2h0.6M40.4,263.9h0.6M39.5,254.8h0.6M79.3,237.4h0.6M70.9,247.2h0.6M79.0,263.9h0.6M36.0,235.7h0.6M41.1,234.6h0.6M35.8,252.7h0.6M48.5,245.9h0.6M60.4,229.1h0.6M61.9,238.9h0.6M105.8,238.5h0.6M53.1,228.0h0.6M116.5,242.2h0.6M58.2,245.5h0.6M39.1,240.9h0.6M49.5,247.5h0.6M81.1,250.4h0.6M91.4,235.7h0.6M44.5,247.4h0.6M58.5,239.9h0.6M83.3,254.0h0.6M36.9,231.6h0.6M68.2,241.0h0.6M51.7,239.2h0.6M61.2,235.6h0.6M72.1,227.2h0.6M52.0,239.3h0.6M66.3,249.2h0.6M117.7,261.9h0.6M55.7,251.8h0.6M47.3,246.2h0.6M65.1,245.6h0.6M65.8,253.3h0.6M46.5,237.3h0.6M92.4,249.4h0.6M60.0,258.0h0.6M39.3,237.7h0.6M84.5,252.4h0.6M56.4,214.5h0.6M62.3,235.0h0.6M54.9,233.5h0.6M46.7,253.7h0.6M76.1,251.9h0.6M79.0,246.6h0.6M33.1,231.2h0.6M53.1,228.5h0.6M108.0,234.4h0.6M38.1,251.0h0.6M73.4,227.1h0.6M77.3,254.1h0.6M93.6,245.1h0.6M86.3,230.6h0.6M49.2,228.5h0.6M50.7,245.0h0.6M55.7,229.8h0.6M41.3,237.1h0.6M51.8,230.8h0.6M41.5,239.1h0.6M67.5,249.1h0.6M42.2,246.0h0.6M56.0,241.8h0.6M63.7,242.0h0.6M55.0,242.6h0.6M57.9,235.5h0.6M49.3,242.5h0.6M69.9,240.0h0.6M99.3,241.0h0.6M55.6,241.3h0.6M95.4,234.7h0.6M57.5,246.8h0.6M104.3,251.3h0.6M89.6,233.7h0.6M44.2,241.1h0.6M74.5,241.2h0.6M87.3,236.0h0.6M85.0,240.0h0.6M69.8,242.1h0.6M91.4,246.6h0.6M87.0,246.9h0.6M88.2,237.9h0.6M83.8,238.2h0.6M50.7,242.0h0.6M103.1,246.5h0.6M83.9,251.9h0.6M112.8,237.2h0.6M90.9,237.0h0.6M57.1,252.4h0.6M57.7,245.8h0.6M89.2,238.0h0.6M85.1,253.3h0.6M62.5,247.3h0.6M101.1,244.2h0.6M103.5,240.2h0.6M43.6,242.5h0.6M95.1,247.2h0.6M59.4,229.6h0.6M68.9,249.5h0.6M62.4,242.0h0.6M61.9,243.2h0.6M57.1,235.3h0.6M80.3,235.5h0.6M44.4,244.8h0.6M86.2,250.1h0.6M51.3,242.2h0.6M92.6,243.8h0.6M47.0,240.6h0.6M43.4,231.1h0.6M54.2,238.6h0.6M55.2,244.0h0.6M68.3,237.8h0.6M61.7,232.8h0.6M65.4,246.2h0.6M84.6,244.3h0.6M63.0,248.7h0.6M87.7,256.4h0.6M67.5,240.6h0.6M113.1,262.7h0.6M38.9,242.6h0.6M42.5,249.9h0.6M73.0,245.7h0.6M86.6,242.1h0.6M82.7,245.6h0.6M104.3,244.8h0.6M61.4,235.9h0.6M70.6,243.5h0.6M62.0,247.7h0.6M62.4,236.3h0.6M71.9,233.9h0.6M41.1,246.6h0.6M93.8,242.9h0.6M76.9,240.7h0.6M79.5,247.3h0.6M101.5,245.6h0.6M72.5,239.1h0.6M61.5,244.7h0.6M57.1,228.7h0.6M39.0,238.8h0.6M91.2,248.5h0.6M58.7,236.8h0.6M73.7,249.3h0.6M93.6,249.4h0.6M105.3,237.7h0.6M75.9,251.2h0.6M43.1,233.4h0.6M63.2,245.6h0.6M53.0,238.2h0.6M45.8,240.2h0.6M84.1,237.0h0.6M46.0,244.7h0.6M58.5,237.4h0.6M46.9,240.8h0.6M78.1,240.9h0.6M39.8,231.7h0.6M72.0,236.3h0.6M47.9,236.2h0.6M82.3,244.8h0.6M71.7,246.3h0.6M51.6,243.3h0.6M82.1,251.4h0.6M89.0,246.0h0.6M86.4,237.1h0.6M47.5,245.8h0.6M82.2,241.4h0.6M93.2,242.5h0.6M69.5,238.0h0.6M52.8,237.4h0.6M81.4,245.1h0.6M77.2,238.9h0.6M68.2,242.3h0.6M85.5,242.9h0.6M44.9,233.4h0.6M91.3,249.2h0.6M94.4,236.1h0.6M55.8,247.7h0.6M65.0,244.1h0.6M83.2,249.5h0.6M93.9,239.0h0.6M43.1,238.8h0.6M100.8,243.1h0.6M49.5,241.4h0.6M94.8,243.0h0.6M102.4,237.1h0.6M97.4,249.3h0.6M95.9,243.7h0.6M95.9,243.0h0.6M100.5,245.9h0.6M100.4,242.0h0.6M100.6,241.7h0.6M101.8,243.3h0.6M92.9,236.3h0.6M89.7,252.0h0.6M102.5,242.3h0.6M105.2,238.7h0.6M100.7,244.7h0.6M102.6,237.6h0.6M91.2,249.8h0.6M92.9,249.2h0.6M101.5,239.9h0.6M88.9,247.7h0.6M87.6,247.6h0.6M89.5,244.6h0.6M98.7,247.1h0.6M102.3,244.6h0.6M92.4,245.0h0.6M90.0,246.9h0.6M98.4,239.2h0.6M95.4,250.1h0.6M95.1,241.3h0.6M87.7,250.3h0.6M96.8,244.6h0.6M97.5,238.4h0.6M102.7,238.4h0.6M92.0,248.5h0.6M91.8,249.1h0.6M96.4,239.9h0.6M97.9,243.7h0.6M103.6,237.6h0.6M99.9,245.6h0.6M97.1,245.7h0.6M107.4,242.1h0.6M98.6,242.6h0.6M105.2,236.3h0.6M97.2,240.0h0.6M92.4,245.3h0.6M101.2,236.4h0.6M96.9,234.9h0.6M85.9,256.6h0.6M106.1,241.6h0.6M99.9,240.0h0.6M96.2,241.5h0.6M89.0,249.6h0.6M98.5,248.8h0.6M99.4,248.7h0.6M91.9,240.9h0.6M99.5,235.4h0.6M107.8,235.1h0.6M102.2,245.7h0.6M95.0,242.5h0.6M100.4,247.1h0.6M105.5,235.2h0.6M94.9,244.7h0.6M98.0,242.0h0.6M92.6,240.9h0.6M106.4,241.0h0.6M97.3,239.5h0.6M98.1,235.2h0.6M94.8,249.2h0.6M105.0,236.1h0.6M94.6,255.4h0.6M83.2,252.7h0.6M102.1,239.3h0.6M102.2,247.1h0.6M98.7,236.9h0.6M94.2,247.2h0.6M91.1,247.2h0.6M99.3,243.8h0.6M98.1,241.3h0.6M92.9,251.2h0.6M96.8,242.6h0.6M88.8,243.9h0.6M94.9,238.5h0.6M88.3,250.0h0.6M100.1,240.8h0.6M96.2,250.5h0.6M85.7,255.2h0.6M98.9,242.8h0.6M78.6,256.2h0.6M93.1,254.8h0.6M89.7,259.1h0.6M82.0,260.5h0.6M101.9,241.2h0.6M107.0,242.1h0.6M114.9,233.1h0.6M93.0,241.0h0.6M91.2,255.3h0.6M104.5,240.1h0.6M98.2,243.7h0.6M91.7,237.9h0.6M99.5,243.4h0.6M101.1,241.0h0.6M96.4,242.1h0.6M102.2,238.6h0.6M94.3,246.6h0.6M106.3,237.3h0.6M73.7,254.6h0.6M98.4,246.5h0.6M109.5,227.0h0.6M109.0,247.7h0.6M107.9,238.9h0.6M94.6,245.6h0.6M91.2,250.9h0.6M110.0,234.8h0.6M104.3,238.2h0.6M93.4,245.8h0.6M86.8,248.1h0.6M84.3,251.6h0.6M104.2,243.0h0.6M100.4,244.4h0.6M107.0,242.3h0.6M103.1,242.5h0.6M97.5,238.0h0.6M79.6,251.2h0.6M96.0,242.6h0.6M99.6,239.2h0.6M94.3,250.6h0.6M97.0,242.8h0.6M98.6,250.6h0.6M88.7,254.2h0.6M96.5,245.5h0.6M101.6,244.5h0.6M106.5,236.9h0.6M110.4,240.2h0.6M89.8,254.7h0.6M109.8,242.9h0.6M101.6,243.8h0.6M84.2,253.7h0.6M99.2,250.1h0.6M101.2,240.4h0.6M96.7,233.8h0.6M98.2,239.8h0.6M89.8,247.8h0.6M89.4,256.5h0.6M97.9,242.2h0.6M100.9,242.1h0.6M105.3,239.1h0.6M94.5,252.3h0.6M99.0,253.2h0.6M89.5,243.4h0.6M82.3,254.5h0.6M108.7,229.9h0.6M100.4,248.6h0.6M85.8,254.3h0.6M102.1,234.6h0.6M110.3,239.9h0.6M89.5,244.5h0.6M92.0,255.1h0.6M98.9,242.2h0.6M100.0,240.6h0.6M88.7,262.4h0.6M90.5,245.9h0.6M92.6,251.3h0.6M103.2,245.3h0.6M107.6,237.7h0.6M103.2,231.1h0.6M91.7,242.0h0.6M101.8,248.3h0.6M100.6,246.8h0.6M95.8,239.4h0.6M104.4,239.1h0.6M102.4,244.1h0.6M92.7,248.3h0.6M94.0,242.2h0.6M95.9,248.9h0.6M86.8,236.7h0.6M95.9,245.0h0.6M109.9,232.5h0.6M88.4,252.5h0.6M83.8,249.4h0.6M103.7,232.6h0.6M95.6,243.8h0.6M90.7,251.8h0.6M95.2,253.2h0.6M97.8,249.6h0.6M99.7,244.4h0.6M99.5,237.8h0.6M88.7,254.7h0.6M104.1,236.1h0.6M110.4,233.1h0.6M102.1,232.7h0.6M116.8,231.8h0.6M97.3,239.0h0.6M88.2,241.1h0.6M99.9,249.6h0.6M97.0,242.8h0.6M88.3,251.2h0.6M104.0,229.6h0.6M99.9,244.1h0.6M97.0,243.7h0.6M88.1,254.7h0.6M96.1,250.9h0.6M94.6,250.9h0.6M88.6,248.9h0.6M85.1,251.6h0.6M108.5,233.1h0.6M82.5,243.6h0.6M102.7,233.9h0.6M90.0,248.4h0.6M85.5,241.3h0.6M93.5,254.8h0.6M96.3,241.6h0.6M87.4,249.8h0.6M111.4,233.2h0.6M106.1,249.2h0.6M88.7,239.1h0.6M103.6,230.9h0.6M99.8,246.0h0.6M78.5,258.2h0.6M72.8,259.7h0.6M91.7,239.0h0.6M80.2,245.6h0.6M96.3,241.5h0.6M86.8,244.9h0.6M107.8,237.3h0.6M84.5,245.9h0.6M88.8,241.4h0.6M97.6,242.8h0.6M105.6,237.1h0.6M101.5,245.1h0.6M110.0,229.2h0.6M108.3,244.2h0.6M97.8,254.4h0.6M90.3,242.5h0.6M96.1,246.9h0.6M96.2,251.3h0.6M118.1,233.9h0.6M87.4,252.2h0.6M97.1,236.6h0.6M98.7,254.5h0.6M115.8,239.6h0.6M90.1,243.7h0.6M97.3,258.3h0.6M91.7,243.6h0.6M105.3,231.0h0.6M100.1,243.4h0.6M83.1,266.0h0.6M99.7,231.8h0.6M105.4,241.8h0.6M110.0,242.3h0.6M85.0,251.5h0.6M95.4,242.8h0.6M83.2,243.2h0.6M86.6,244.7h0.6M84.6,239.8h0.6M89.8,231.3h0.6M95.2,247.3h0.6M111.4,233.6h0.6M97.2,243.8h0.6M74.0,270.3h0.6M126.7,226.5h0.6M102.6,239.8h0.6M87.5,232.3h0.6M85.4,253.1h0.6M87.9,256.1h0.6M94.1,265.9h0.6M105.0,264.0h0.6M92.5,255.7h0.6M80.8,245.8h0.6M119.8,231.3h0.6M104.4,239.1h0.6M110.2,254.8h0.6M116.5,232.7h0.6M111.0,247.6h0.6M97.9,232.3h0.6M100.9,237.3h0.6M95.7,243.9h0.6M95.8,238.0h0.6M78.9,247.9h0.6M84.0,246.2h0.6M108.5,236.9h0.6M82.5,256.6h0.6M94.3,246.0h0.6M95.9,252.4h0.6M98.8,228.7h0.6M100.1,248.9h0.6M96.3,240.2h0.6M80.3,252.6h0.6M93.7,246.1h0.6M99.3,238.9h0.6M91.1,257.8h0.6M74.1,253.2h0.6M95.5,243.1h0.6M105.4,249.1h0.6M79.9,255.0h0.6M92.1,248.7h0.6M83.3,251.6h0.6M112.5,238.0h0.6M113.2,235.8h0.6M91.1,248.5h0.6M114.3,248.9h0.6M81.5,258.5h0.6M100.9,241.5h0.6M106.0,230.4h0.6M100.0,233.4h0.6M96.6,250.4h0.6M80.2,249.5h0.6M109.2,248.8h0.6M102.3,228.4h0.6M113.3,224.1h0.6M108.2,241.8h0.6M96.8,242.1h0.6M101.3,243.8h0.6M86.6,257.3h0.6M86.8,244.4h0.6M87.4,263.7h0.6M97.4,244.2h0.6M108.0,233.7h0.6M91.4,257.0h0.6M116.5,230.3h0.6M98.1,256.0h0.6M90.6,255.2h0.6M94.8,237.1h0.6M82.5,254.1h0.6M83.9,243.4h0.6M91.0,232.3h0.6M99.8,250.3h0.6M101.3,244.8h0.6M116.7,229.8h0.6M109.0,232.5h0.6M88.7,256.8h0.6M74.4,252.3h0.6M90.4,257.7h0.6M107.0,228.7h0.6M108.9,231.8h0.6M109.1,230.2h0.6M104.0,234.7h0.6M109.5,232.8h0.6M103.5,233.0h0.6M105.8,233.4h0.6M108.0,227.7h0.6M107.5,232.0h0.6M107.6,230.8h0.6M104.4,235.3h0.6M108.0,231.4h0.6M107.9,228.3h0.6M109.4,223.6h0.6M113.6,222.7h0.6M107.4,232.7h0.6M105.4,233.4h0.6M103.0,236.0h0.6M103.7,236.0h0.6M107.3,230.5h0.6M104.5,232.8h0.6M109.0,233.2h0.6M110.6,228.7h0.6M105.8,234.7h0.6M109.9,226.6h0.6M111.4,225.9h0.6M97.8,243.4h0.6M108.8,235.8h0.6M104.1,235.2h0.6M110.5,234.6h0.6M107.0,233.2h0.6M111.4,232.3h0.6M101.4,235.7h0.6M114.2,227.8h0.6M104.1,233.8h0.6M105.4,234.4h0.6M112.5,230.0h0.6M106.4,236.8h0.6M110.8,231.7h0.6M103.5,236.0h0.6M110.4,233.9h0.6M112.2,232.7h0.6M103.7,238.4h0.6M110.6,229.3h0.6M109.0,230.5h0.6M106.2,234.4h0.6M106.2,232.0h0.6M107.1,235.2h0.6M113.3,230.5h0.6M106.9,231.5h0.6M103.3,228.4h0.6M108.0,229.8h0.6M111.5,230.0h0.6M105.7,232.9h0.6M112.8,225.9h0.6M98.9,235.9h0.6M106.9,228.3h0.6M102.2,236.5h0.6M115.0,223.6h0.6M102.8,236.5h0.6M109.3,231.1h0.6M108.6,228.7h0.6M112.4,229.6h0.6M103.5,239.5h0.6M100.7,236.3h0.6M106.3,231.7h0.6M97.5,245.1h0.6M103.9,233.6h0.6M98.0,238.3h0.6M109.7,234.6h0.6M98.4,241.3h0.6M105.2,230.0h0.6M110.7,230.0h0.6M99.6,233.6h0.6M103.8,234.3h0.6M99.0,239.8h0.6M100.9,237.4h0.6M108.2,236.6h0.6M99.4,239.8h0.6M102.4,237.8h0.6M97.6,245.9h0.6M98.3,242.2h0.6M95.9,244.2h0.6M106.8,234.9h0.6M103.4,240.4h0.6M102.5,236.5h0.6M99.9,238.7h0.6M99.6,236.5h0.6M99.3,239.2h0.6M103.2,238.4h0.6M100.9,238.5h0.6M98.8,237.6h0.6M104.5,242.5h0.6M106.7,228.1h0.6M101.1,239.0h0.6M99.1,246.9h0.6M103.8,240.1h0.6M108.7,233.5h0.6M106.7,235.7h0.6M96.0,243.7h0.6M97.5,240.4h0.6M98.7,247.7h0.6M105.0,235.3h0.6M103.3,236.1h0.6M103.1,229.9h0.6M93.1,245.1h0.6M106.0,237.9h0.6M96.7,250.3h0.6M103.6,233.6h0.6M92.8,245.1h0.6M105.4,235.3h0.6M104.6,241.0h0.6M103.7,235.1h0.6M97.9,235.9h0.6M101.5,239.0h0.6M107.1,237.8h0.6M98.5,238.6h0.6M109.5,228.0h0.6M102.9,241.2h0.6M102.2,244.1h0.6M116.8,266.4h0.6M110.1,262.0h0.6M107.7,269.9h0.6M115.2,274.5h0.6M119.3,274.0h0.6M110.7,262.1h0.6M114.8,277.9h0.6M107.2,286.1h0.6M113.9,270.6h0.6M111.8,258.4h0.6M109.5,271.8h0.6M111.1,269.1h0.6M121.9,260.9h0.6M104.4,273.1h0.6M111.9,275.5h0.6M107.4,263.5h0.6M107.9,258.0h0.6M102.6,279.4h0.6M114.1,273.5h0.6M112.6,279.4h0.6M112.7,267.2h0.6M114.5,266.2h0.6M117.0,265.1h0.6M108.5,261.7h0.6M110.9,266.1h0.6M113.2,262.7h0.6M112.5,265.3h0.6M110.6,264.6h0.6M115.5,270.3h0.6M115.4,273.4h0.6M116.8,259.9h0.6M101.5,265.2h0.6M115.4,278.5h0.6M107.3,268.3h0.6M111.5,254.2h0.6M104.3,262.6h0.6M116.1,280.4h0.6M112.3,279.4h0.6M114.6,272.1h0.6M111.0,263.9h0.6M110.1,268.7h0.6M116.2,253.1h0.6M116.6,271.6h0.6M108.4,273.1h0.6M116.8,258.5h0.6M105.3,270.1h0.6M113.2,258.1h0.6M114.0,266.2h0.6M111.6,269.8h0.6M115.1,268.1h0.6M113.2,281.9h0.6M110.4,269.7h0.6M106.2,271.9h0.6M115.9,264.1h0.6M110.8,267.1h0.6M116.7,258.3h0.6M111.2,266.2h0.6M109.6,269.8h0.6M111.6,266.8h0.6M103.0,256.2h0.6M112.1,268.4h0.6M118.0,254.1h0.6M110.0,267.3h0.6M113.8,273.4h0.6M103.0,270.5h0.6M114.4,276.6h0.6M116.6,268.3h0.6M105.0,264.7h0.6M114.9,265.7h0.6M109.5,272.6h0.6M109.6,282.0h0.6M112.0,270.0h0.6M113.7,258.9h0.6M115.6,260.6h0.6M110.6,266.5h0.6M103.6,267.6h0.6M109.2,273.7h0.6M111.5,268.4h0.6M116.9,274.2h0.6M109.3,273.1h0.6M108.1,266.3h0.6M109.5,268.4h0.6M114.0,278.8h0.6M114.6,279.1h0.6M115.3,279.9h0.6M112.4,268.4h0.6M117.7,271.8h0.6M115.5,275.7h0.6M99.6,279.1h0.6M112.2,255.5h0.6M109.4,261.3h0.6M106.1,274.7h0.6M109.2,276.6h0.6M113.6,253.2h0.6M111.8,256.7h0.6M113.9,254.7h0.6M112.2,258.7h0.6M114.1,258.5h0.6M107.8,258.7h0.6M108.3,262.6h0.6M111.1,266.7h0.6M104.4,277.8h0.6M108.4,264.1h0.6M116.2,266.6h0.6M116.5,272.7h0.6M112.4,275.4h0.6M114.9,271.8h0.6M110.0,271.0h0.6M122.4,285.7h0.6M114.6,296.3h0.6M112.0,271.6h0.6M106.4,254.9h0.6M112.0,260.2h0.6M111.4,273.8h0.6M105.4,265.6h0.6M112.1,274.6h0.6M103.8,276.7h0.6M112.8,263.4h0.6M114.5,283.4h0.6M101.5,263.6h0.6M115.6,285.6h0.6M109.1,279.4h0.6M113.4,301.7h0.6M113.4,275.0h0.6M103.5,245.5h0.6M119.0,276.0h0.6M112.4,290.9h0.6M104.7,265.6h0.6M117.6,283.0h0.6M105.3,284.4h0.6M108.4,285.2h0.6M109.7,272.1h0.6M111.7,269.1h0.6M108.7,277.0h0.6M102.5,281.8h0.6M102.7,272.6h0.6M114.5,267.4h0.6M106.5,270.3h0.6M103.4,270.7h0.6M120.0,285.1h0.6M111.3,268.0h0.6M111.8,267.4h0.6M105.3,279.5h0.6M117.6,287.7h0.6M126.6,276.4h0.6M114.9,283.6h0.6M100.5,277.0h0.6M115.8,302.6h0.6M107.6,267.7h0.6M116.7,283.2h0.6M105.9,291.3h0.6M119.5,267.8h0.6M113.3,256.0h0.6M105.2,266.5h0.6M107.9,283.8h0.6M119.8,283.6h0.6M112.4,279.0h0.6M112.3,272.8h0.6M113.8,284.0h0.6M107.4,275.6h0.6M120.7,268.7h0.6M114.0,281.1h0.6M104.2,286.1h0.6M115.6,270.5h0.6M110.2,262.2h0.6M111.6,273.2h0.6M114.9,271.0h0.6M107.7,276.7h0.6M116.0,293.1h0.6M119.3,282.9h0.6M108.8,277.6h0.6M109.3,241.9h0.6M95.1,247.9h0.6M119.3,262.4h0.6M111.9,263.9h0.6M119.0,249.7h0.6M110.5,277.5h0.6M105.7,254.2h0.6M116.4,288.6h0.6M111.1,247.8h0.6M105.8,274.3h0.6M110.9,296.1h0.6M121.9,290.6h0.6M101.0,281.7h0.6M117.1,276.9h0.6M111.3,257.0h0.6M110.5,263.8h0.6M103.8,264.2h0.6M99.8,266.4h0.6M106.2,283.3h0.6M114.5,282.0h0.6M108.6,270.7h0.6M102.6,292.6h0.6M118.1,282.2h0.6M109.1,295.1h0.6M106.1,262.9h0.6M115.9,269.4h0.6M117.5,271.7h0.6M108.3,254.5h0.6M110.3,270.5h0.6M113.4,264.4h0.6M110.1,290.7h0.6M94.6,256.8h0.6M109.7,264.2h0.6M114.9,266.4h0.6M105.8,299.8h0.6M110.2,300.2h0.6M105.5,277.4h0.6M102.9,265.3h0.6M106.7,293.4h0.6M111.5,274.2h0.6M113.8,280.6h0.6M109.7,273.7h0.6M127.0,281.1h0.6M108.3,267.2h0.6M114.4,286.1h0.6M99.1,268.8h0.6M112.8,279.4h0.6M104.9,245.1h0.6M122.9,287.4h0.6M100.6,282.0h0.6M111.2,301.3h0.6M111.7,266.8h0.6M109.9,253.8h0.6M126.5,269.1h0.6M113.2,272.5h0.6M111.7,264.4h0.6M111.3,274.4h0.6M107.6,269.7h0.6M111.0,274.6h0.6M99.2,278.6h0.6M116.6,256.9h0.6M105.9,261.6h0.6M101.7,260.0h0.6M121.6,296.0h0.6M107.9,264.0h0.6M107.9,255.5h0.6M101.8,274.6h0.6M107.1,266.9h0.6M114.6,260.1h0.6M116.3,290.7h0.6M104.3,267.5h0.6M112.2,274.6h0.6M117.8,305.3h0.6M106.7,258.8h0.6M114.5,284.7h0.6M117.2,271.2h0.6M115.2,273.1h0.6M125.0,290.7h0.6M108.5,267.2h0.6M103.6,268.3h0.6M111.1,268.9h0.6M105.7,260.8h0.6M94.9,267.4h0.6M119.7,256.1h0.6M121.0,280.0h0.6M106.3,280.0h0.6M106.9,256.9h0.6M109.4,269.5h0.6M104.2,269.2h0.6M98.7,269.0h0.6M106.2,284.6h0.6M102.0,274.8h0.6M87.5,269.4h0.6M102.1,274.9h0.6M98.6,258.6h0.6M99.5,307.9h0.6M104.3,280.6h0.6M116.0,256.3h0.6M91.6,269.0h0.6M118.1,270.1h0.6M100.5,260.6h0.6M97.6,274.2h0.6M111.3,263.5h0.6M101.7,278.7h0.6M92.2,268.4h0.6M105.2,271.2h0.6M109.9,270.1h0.6M110.2,290.6h0.6M109.2,268.9h0.6M100.5,303.5h0.6M94.3,295.6h0.6M103.6,246.7h0.6M112.4,279.3h0.6M104.2,283.4h0.6M99.3,262.0h0.6M122.8,269.6h0.6M109.5,282.0h0.6M123.6,274.0h0.6M108.2,305.9h0.6M106.2,287.5h0.6M102.0,265.5h0.6M90.5,271.0h0.6M102.7,300.5h0.6M111.8,286.4h0.6M92.8,277.9h0.6M97.0,248.5h0.6M94.4,287.7h0.6M108.6,296.9h0.6M84.8,276.2h0.6M124.5,295.1h0.6M110.0,266.0h0.6M114.0,281.5h0.6M113.9,275.6h0.6M95.8,250.3h0.6M78.1,246.1h0.6M111.0,271.8h0.6M107.8,286.2h0.6M93.0,300.0h0.6M112.5,266.2h0.6M75.7,292.5h0.6M99.9,240.3h0.6M122.6,276.5h0.6M86.8,298.7h0.6M99.3,292.3h0.6M119.6,264.7h0.6M101.4,283.2h0.6M107.1,303.3h0.6M122.5,291.8h0.6M113.0,296.3h0.6M86.2,273.2h0.6M113.7,280.3h0.6M116.4,292.8h0.6M110.0,270.4h0.6M104.1,305.3h0.6M109.2,301.7h0.6M118.7,306.5h0.6M123.4,261.9h0.6M102.3,262.3h0.6M90.6,284.0h0.6M91.6,276.8h0.6M85.4,258.3h0.6M107.0,276.9h0.6M100.7,258.1h0.6M101.0,292.2h0.6M97.3,282.8h0.6M109.3,297.2h0.6M94.8,254.8h0.6M111.7,262.5h0.6M98.1,264.0h0.6M120.1,279.6h0.6M120.1,297.2h0.6M97.8,291.4h0.6M106.5,289.1h0.6M100.4,274.7h0.6M108.3,287.8h0.6M107.2,264.1h0.6M95.8,264.2h0.6M112.2,275.5h0.6M103.1,273.0h0.6M113.9,277.1h0.6M100.3,278.2h0.6M107.4,268.8h0.6M97.0,281.8h0.6M120.0,301.2h0.6M109.1,266.8h0.6M91.5,241.9h0.6M105.0,310.1h0.6M104.2,300.8h0.6M118.7,296.1h0.6M120.9,266.2h0.6M121.2,284.1h0.6M117.8,286.9h0.6M107.6,256.6h0.6M116.7,284.2h0.6M99.9,280.2h0.6M106.3,280.1h0.6M80.4,294.0h0.6M128.0,256.0h0.6M98.6,288.1h0.6M87.2,261.3h0.6M111.9,296.9h0.6M108.4,302.2h0.6M112.3,296.3h0.6M103.0,281.4h0.6M115.2,294.7h0.6M86.6,294.3h0.6M114.4,283.6h0.6M81.4,255.8h0.6M127.2,288.6h0.6M89.8,227.9h0.6M91.1,271.8h0.6M104.3,268.4h0.6M99.9,274.2h0.6M114.4,262.7h0.6M83.1,265.5h0.6M100.8,235.7h0.6M98.2,282.6h0.6M91.8,259.5h0.6M89.1,254.9h0.6M97.6,270.7h0.6M94.8,239.9h0.6M102.3,245.2h0.6M100.4,245.4h0.6M105.6,271.3h0.6M116.1,282.0h0.6M79.0,270.9h0.6M117.3,277.4h0.6M92.3,300.0h0.6M105.0,270.0h0.6M99.7,280.0h0.6M118.8,266.0h0.6M104.8,301.9h0.6M105.9,270.6h0.6M92.3,267.1h0.6M122.1,285.9h0.6M100.4,266.1h0.6M126.0,288.1h0.6M99.2,279.6h0.6M116.5,301.9h0.6M98.4,295.4h0.6M117.1,279.9h0.6M93.9,298.3h0.6M113.9,277.8h0.6M106.3,284.7h0.6M98.9,283.5h0.6M120.9,288.1h0.6M103.7,305.0h0.6M100.3,273.3h0.6M120.4,291.1h0.6M108.0,303.1h0.6M109.0,259.7h0.6M113.0,287.5h0.6M104.8,281.1h0.6M109.3,292.1h0.6M127.1,262.2h0.6M86.0,308.6h0.6M127.7,270.3h0.6M108.9,307.1h0.6M106.5,283.9h0.6M110.5,267.3h0.6M110.3,283.3h0.6M127.7,286.8h0.6M101.7,249.3h0.6M102.8,269.2h0.6M90.3,277.1h0.6M111.3,299.6h0.6M115.4,284.2h0.6M112.2,275.9h0.6M110.6,282.5h0.6M111.6,283.7h0.6M108.1,299.3h0.6M105.2,308.4h0.6M108.9,296.8h0.6M104.1,302.5h0.6M101.1,276.9h0.6M102.2,283.6h0.6M104.3,308.9h0.6M111.0,304.2h0.6M110.9,298.8h0.6M108.2,288.2h0.6M92.7,296.3h0.6M106.8,309.6h0.6M109.9,301.6h0.6M110.8,307.9h0.6M106.9,305.4h0.6M112.8,304.0h0.6M117.0,296.3h0.6M112.8,281.4h0.6M104.8,290.5h0.6M107.1,297.1h0.6M108.9,299.8h0.6M115.9,287.4h0.6M108.9,290.0h0.6M113.8,288.6h0.6M108.4,298.2h0.6M112.2,302.8h0.6M102.0,297.3h0.6M98.7,291.0h0.6M108.6,283.0h0.6M104.9,286.2h0.6M108.7,304.7h0.6M112.5,299.3h0.6M102.6,302.8h0.6M109.1,283.3h0.6M110.3,293.2h0.6M103.9,276.3h0.6M116.1,280.7h0.6M114.4,309.0h0.6M107.7,296.3h0.6M117.2,293.4h0.6M109.7,310.0h0.6M114.3,309.4h0.6M117.8,295.5h0.6M96.8,261.4h0.6M113.2,292.9h0.6M111.2,294.7h0.6M112.5,306.1h0.6M118.0,285.0h0.6M114.2,304.2h0.6M104.4,309.5h0.6M103.4,301.3h0.6M100.7,293.7h0.6M100.8,279.4h0.6M108.0,307.7h0.6M108.9,308.9h0.6M105.7,303.5h0.6M108.5,272.8h0.6M102.7,308.5h0.6M107.2,290.2h0.6M117.4,269.6h0.6M106.1,308.5h0.6M125.1,310.8h0.6M109.8,309.7h0.6M110.4,310.4h0.6M109.2,309.0h0.6M92.6,308.9h0.6M119.8,309.7h0.6M112.3,310.5h0.6M110.1,308.4h0.6M95.5,307.6h0.6M125.3,310.8h0.6M109.3,309.7h0.6M103.7,309.1h0.6M112.4,306.9h0.6M126.7,308.4h0.6M103.6,308.4h0.6M115.2,307.2h0.6M111.9,310.4h0.6M119.2,309.4h0.6M107.8,309.9h0.6M121.1,308.4h0.6M124.0,307.3h0.6M114.7,309.4h0.6M106.4,309.8h0.6M123.1,310.7h0.6M103.5,310.5h0.6M112.4,309.6h0.6M113.7,309.0h0.6M116.7,306.9h0.6M120.8,309.1h0.6M106.6,310.3h0.6M120.0,310.4h0.6M92.2,307.0h0.6M103.2,307.1h0.6M104.0,307.0h0.6M107.2,309.3h0.6M108.6,306.8h0.6M113.6,309.0h0.6M118.4,305.0h0.6M116.8,309.6h0.6M115.4,307.2h0.6M122.3,307.6h0.6M94.3,306.6h0.6M110.0,306.6h0.6M112.9,306.2h0.6M113.1,310.6h0.6M37.4,304.1h0.6M97.7,297.5h0.6M113.2,250.1h0.6M112.7,229.7h0.6M75.3,248.4h0.6M102.6,229.4h0.6M109.4,234.7h0.6M97.9,259.6h0.6M32.9,286.4h0.6M33.4,279.9h0.6M76.9,305.7h0.6M81.2,302.2h0.6M127.6,288.7h0.6M125.8,215.0h0.6M46.1,303.9h0.6M115.1,310.5h0.6M105.0,243.4h0.6M78.8,260.7h0.6M61.5,224.7h0.6M108.9,240.1h0.6M66.8,268.8h0.6M73.8,309.5h0.6M67.3,250.4h0.6M63.3,299.4h0.6M108.1,256.8h0.6M79.8,288.7h0.6M70.0,227.5h0.6M71.1,253.3h0.6M124.5,254.8h0.6M60.0,220.5h0.6M124.4,293.0h0.6M86.9,251.1h0.6M65.4,293.3h0.6M78.0,274.5h0.6M71.3,306.7h0.6M99.2,300.4h0.6M99.9,239.0h0.6M91.0,306.4h0.6M105.3,249.6h0.6M40.3,270.9h0.6M66.5,221.9h0.6M117.1,281.8h0.6M56.7,287.9h0.6M105.1,228.3h0.6M35.3,269.0h0.6M123.4,288.9h0.6M58.4,308.2h0.6M117.5,277.4h0.6M103.4,287.6h0.6M63.6,226.0h0.6M92.2,241.1h0.6M60.7,247.7h0.6M32.8,278.4h0.6M33.5,266.6h0.6M113.6,291.4h0.6M66.1,215.1h0.6M64.4,223.2h0.6M60.8,250.0h0.6M85.2,238.2h0.6M78.5,306.1h0.6M76.4,264.9h0.6M36.0,236.0h0.6M128.1,221.4h0.6M94.5,277.3h0.6M102.7,265.8h0.6M126.7,291.0h0.6M54.1,284.9h0.6M122.5,281.0h0.6M82.7,224.1h0.6M70.5,244.6h0.6M59.1,285.7h0.6M102.0,297.5h0.6M87.8,254.5h0.6M40.5,259.8h0.6M105.0,243.8h0.6M114.3,264.1h0.6M117.7,260.4h0.6M66.9,285.9h0.6M57.7,290.3h0.6M34.4,301.8h0.6M120.3,218.5h0.6M100.8,259.2h0.6M124.9,225.6h0.6M103.6,227.0h0.6M121.4,267.4h0.6M116.4,248.6h0.6M38.6,267.7h0.6M61.1,240.7h0.6M101.0,248.5h0.6M91.3,305.9h0.6M65.0,258.0h0.6M39.6,277.7h0.6M74.6,310.8h0.6M62.8,268.9h0.6M106.0,225.4h0.6M108.7,266.0h0.6M125.8,275.5h0.6M43.7,262.0h0.6M71.2,242.5h0.6M35.0,232.0h0.6M76.5,271.9h0.6M49.3,236.1h0.6M96.8,263.8h0.6M98.4,257.1h0.6M88.7,297.1h0.6M91.8,249.1h0.6M118.3,252.2h0.6M111.5,268.2h0.6M115.6,268.0h0.6M114.9,215.4h0.6M33.4,297.3h0.6M67.1,275.8h0.6M122.5,265.6h0.6M127.6,256.6h0.6M37.6,256.0h0.6M97.9,276.8h0.6M117.1,238.2h0.6M100.2,247.4h0.6M121.8,257.7h0.6M69.9,307.2h0.6M73.6,272.9h0.6M79.1,263.7h0.6M80.0,233.5h0.6M96.2,242.6h0.6M125.6,250.6h0.6M114.6,278.0h0.6M84.4,258.3h0.6M73.3,270.8h0.6M92.5,255.4h0.6M117.7,275.1h0.6M120.5,293.5h0.6M119.1,256.5h0.6M75.2,245.6h0.6M98.3,236.4h0.6M123.6,229.9h0.6M104.0,268.6h0.6M117.3,256.0h0.6M85.8,307.8h0.6M108.7,269.5h0.6M73.7,293.3h0.6M81.9,281.3h0.6M122.5,293.8h0.6M113.0,298.6h0.6M88.6,236.0h0.6M81.6,264.6h0.6M81.4,286.3h0.6M69.2,280.2h0.6M94.8,247.7h0.6M89.0,255.3h0.6M120.1,293.1h0.6M97.8,240.7h0.6M76.4,231.2h0.6M120.0,306.3h0.6M107.2,279.5h0.6M109.1,267.0h0.6M80.5,282.6h0.6M85.9,232.7h0.6M91.8,307.2h0.6M92.1,308.4h0.6M100.3,279.7h0.6M76.4,268.4h0.6M113.6,277.1h0.6M91.6,282.4h0.6M74.5,247.5h0.6M115.1,274.7h0.6M78.2,307.3h0.6M99.7,275.1h0.6M72.9,306.4h0.6M121.0,265.1h0.6M79.4,247.0h0.6M75.0,242.5h0.6M119.8,283.2h0.6M74.3,281.4h0.6M77.1,250.4h0.6M74.9,309.4h0.6M110.5,253.1h0.6M84.5,292.4h0.6M105.7,241.4h0.6M81.8,242.2h0.6M119.0,244.4h0.6M120.2,243.6h0.6M121.6,226.3h0.6M71.4,230.9h0.6M105.1,240.2h0.6M96.6,241.7h0.6M121.0,295.9h0.6M125.2,290.3h0.6M105.7,261.9h0.6M74.0,270.5h0.6M80.9,294.2h0.6M94.4,249.8h0.6M86.5,244.7h0.6M92.7,289.2h0.6M117.2,285.7h0.6M92.1,223.8h0.6M99.0,308.1h0.6M81.1,238.9h0.6M125.8,256.2h0.6M117.4,273.8h0.6M105.9,277.5h0.6M110.3,252.3h0.6M126.4,227.4h0.6M101.6,305.5h0.6M106.5,227.1h0.6M110.4,223.8h0.6M99.2,265.5h0.6M78.4,308.4h0.6M77.4,234.0h0.6M83.2,310.7h0.6M97.0,246.1h0.6M70.3,227.8h0.6M126.7,281.9h0.6M86.4,297.1h0.6M107.9,295.9h0.6M75.0,298.8h0.6M91.2,223.5h0.6M84.1,269.9h0.6M68.9,239.3h0.6M93.6,294.9h0.6M75.3,273.2h0.6M96.6,284.2h0.6M98.5,245.0h0.6M70.1,298.7h0.6M84.4,265.2h0.6M95.5,289.9h0.6M119.3,236.2h0.6M81.6,249.8h0.6M103.7,276.6h0.6M120.0,230.7h0.6M112.2,268.1h0.6M75.1,224.0h0.6M100.2,230.3h0.6M112.7,241.1h0.6M75.5,234.9h0.6M85.8,298.9h0.6M123.8,232.8h0.6M125.3,267.1h0.6M100.9,248.6h0.6M88.8,251.4h0.6M87.8,296.9h0.6M95.8,239.3h0.6M118.0,226.2h0.6M84.5,288.4h0.6M75.1,225.5h0.6M79.1,232.3h0.6M117.5,277.3h0.6M88.9,297.0h0.6M70.8,258.8h0.6M84.8,257.4h0.6M98.3,270.2h0.6M82.8,259.6h0.6M69.4,279.9h0.6M115.8,274.2h0.6M120.3,284.9h0.6M97.0,247.9h0.6M83.7,268.5h0.6M121.4,278.2h0.6M87.5,288.9h0.6M74.4,261.8h0.6M105.8,238.3h0.6M95.8,265.6h0.6M103.9,239.1h0.6M111.9,229.6h0.6M108.1,255.7h0.6M92.5,246.8h0.6M69.6,251.1h0.6M70.7,295.0h0.6M122.8,275.0h0.6M109.2,255.0h0.6M71.0,232.9h0.6M80.8,309.5h0.6M102.1,223.5h0.6M105.7,248.8h0.6M91.6,225.3h0.6M99.5,234.2h0.6M120.4,300.1h0.6M92.7,288.3h0.6M124.0,306.5h0.6M84.3,298.9h0.6M72.8,304.8h0.6M78.9,279.7h0.6M81.4,267.8h0.6M82.6,279.0h0.6M101.0,249.2h0.6M74.7,308.1h0.6M109.4,264.6h0.6M99.6,240.1h0.6M125.6,283.0h0.6M111.4,258.1h0.6M95.9,258.8h0.6M82.2,288.9h0.6M74.4,222.4h0.6M88.0,293.3h0.6M93.9,230.5h0.6M75.7,282.7h0.6M69.2,266.7h0.6M114.6,233.9h0.6M76.3,298.9h0.6M107.1,279.3h0.6M117.0,299.9h0.6M99.1,239.3h0.6M82.0,263.9h0.6M100.8,308.9h0.6M84.0,234.3h0.6M101.3,294.9h0.6M115.9,253.9h0.6M79.2,257.7h0.6M69.5,253.8h0.6M89.5,250.3h0.6M109.7,270.0h0.6M72.3,264.3h0.6M70.6,249.3h0.6M111.3,292.0h0.6M69.5,226.1h0.6M109.6,292.6h0.6M73.3,292.1h0.6M100.6,268.0h0.6M98.8,246.8h0.6M105.3,305.0h0.6M72.2,298.2h0.6M118.7,250.1h0.6M74.8,232.8h0.6M97.9,265.7h0.6M83.1,257.7h0.6M79.4,301.1h0.6M74.2,298.6h0.6M80.0,301.9h0.6M117.2,302.9h0.6M69.9,287.3h0.6M107.6,270.6h0.6M111.2,223.0h0.6M100.5,300.1h0.6M101.9,246.5h0.6M74.6,306.1h0.6M110.5,241.9h0.6M108.1,264.6h0.6M92.1,290.8h0.6M101.4,226.3h0.6M94.8,289.6h0.6M123.7,299.9h0.6M125.9,290.6h0.6M70.7,250.3h0.6M91.3,260.4h0.6M118.4,256.4h0.6M92.5,309.1h0.6" stroke="#9a9a9a" stroke-width="0.6" fill="none" opacity="0.75"/>
<ellipse cx="96.6" cy="244.6" rx="5.2" ry="1.9" transform="rotate(-45 96.6 244.6)" fill="#000" opacity="0.4"/>
<ellipse cx="111.6" cy="269.5" rx="4.0" ry="2.2" transform="rotate(88 111.6 269.5)" fill="#000" opacity="0.15"/>
<path d="M30.7,232.6 L31.5,232.4 L32.3,232.3 L32.7,232.3 L33.5,232.2 L34.3,232.1 L35.1,232.0 L35.9,231.9 L36.3,231.9 L37.1,231.8 L37.9,231.7 L38.7,231.7 L39.5,231.6 L40.3,231.6 L41.1,231.6 L41.9,231.5 L42.7,231.5 L43.5,231.5 L44.2,231.5 L44.7,231.5 L45.5,231.4 L46.3,231.4 L47.1,231.4 L47.9,231.3 L48.7,231.2 L49.5,231.2 L50.3,231.1 L50.7,231.1 L51.5,231.0 L52.3,231.0 L53.1,231.0 L53.9,231.0 L54.7,231.0 L55.5,231.1 L55.9,231.1 L56.7,231.2 L57.5,231.2 L58.3,231.3 L59.1,231.3 L59.9,231.4 L60.7,231.4 L61.3,231.5 L61.9,231.6 L62.7,231.6 L63.5,231.8 L64.3,231.9 L64.7,232.0 L65.5,232.1 L66.2,232.3 L66.7,232.4 L67.5,232.6 L67.9,232.7 L68.7,233.0 L69.2,233.1 L69.9,233.3 L70.7,233.5 L71.1,233.6 L71.9,233.8 L72.3,233.9 L73.1,234.1 L73.9,234.3 L74.3,234.4 L75.1,234.5 L75.7,234.7 L76.3,234.8 L77.1,235.0 L77.5,235.2 L78.3,235.4 L78.7,235.5 L79.5,235.7 L79.9,235.9 L80.7,236.2 L81.1,236.3 L81.9,236.6 L82.3,236.8 L83.1,237.1 L83.5,237.3 L84.0,237.5 L84.7,237.8 L85.1,238.0 L85.9,238.3 L86.3,238.5 L86.8,238.7 L87.5,239.0 L87.9,239.2 L88.7,239.4 L89.1,239.5 L89.9,239.5 L90.3,239.5 L91.1,239.2 L91.5,239.1 L92.3,238.7 L92.7,238.5 L93.1,238.3 L93.8,237.9 L94.3,237.6 L94.7,237.3 L95.1,237.1 L95.8,236.7 L96.3,236.4 L96.7,236.2 L97.3,235.9 L97.9,235.6 L98.3,235.4 L98.9,235.1 L99.5,234.8 L99.9,234.6 L100.6,234.3 L101.1,234.0 L101.5,233.8 L102.0,233.5 L102.7,233.1 L103.1,232.7 L103.5,232.4 L103.9,232.0 L104.3,231.6 L104.7,231.2 L105.1,230.8 L105.5,230.4 L105.9,230.0 L106.3,229.7 L106.7,229.4 L107.1,229.1 L107.7,228.7 L108.3,228.4 L108.7,228.2 L109.4,227.9 L109.9,227.7 L110.7,227.7 L111.5,227.9 L111.9,228.1 L112.3,228.7 L112.4,229.1 L112.4,229.9 L112.3,230.3 L112.0,231.1 L111.9,231.5 L111.5,232.2 L111.2,232.7 L111.0,233.1 L110.7,233.5 L110.3,234.0 L109.9,234.5 L109.5,235.0 L109.1,235.4 L108.7,235.9 L108.3,236.3 L108.0,236.7 L107.8,237.1 L107.5,237.6 L107.3,238.3 L107.1,239.1 L107.0,239.5 L106.9,240.3 L106.7,241.1 L106.6,241.5 L106.4,242.3 L106.2,242.7 L105.9,243.5 L105.7,243.9 L105.5,244.4 L105.1,245.1 L104.9,245.5 L104.7,245.9 L104.3,246.5 L103.9,247.0 L103.6,247.5 L103.2,247.9 L102.9,248.3 L102.6,248.7 L102.2,249.1 L101.8,249.5 L101.5,249.9 L101.1,250.3 L100.7,250.7 L100.2,251.1 L99.8,251.5 L99.3,251.9 L98.8,252.3 L98.3,252.7 L97.9,253.0 L97.5,253.2 L97.1,253.5 L96.4,253.9 L95.9,254.1 L95.5,254.3 L94.7,254.7 L94.3,254.9 L93.7,255.1 L93.1,255.3 L92.4,255.5 L91.9,255.6 L91.1,255.8 L90.5,255.9 L89.9,256.0 L89.1,256.0 L88.3,255.9 L87.9,255.9 L87.1,255.6 L86.7,255.4 L86.2,255.1 L85.7,254.7 L85.4,254.3 L85.1,253.6 L84.9,253.1 L84.8,252.3 L84.7,251.5 L84.7,250.7 L84.7,249.9 L84.7,249.4 L84.5,248.7 L84.3,248.3 L83.8,247.9 L83.1,247.8 L82.3,247.7 L81.5,247.8 L80.8,247.9 L80.3,248.0 L79.5,248.1 L78.7,248.2 L78.2,248.3 L77.5,248.4 L76.7,248.5 L75.9,248.6 L75.1,248.6 L74.3,248.7 L73.7,248.7 L73.1,248.7 L72.3,248.7 L71.5,248.7 L71.1,248.7 L70.3,248.7 L69.5,248.6 L68.7,248.6 L67.9,248.5 L67.1,248.5 L66.3,248.4 L65.5,248.4 L64.7,248.5 L63.9,248.5 L63.1,248.6 L62.3,248.7 L61.9,248.7 L61.1,248.8 L60.3,248.9 L59.5,248.9 L58.7,249.0 L57.9,249.1 L57.5,249.1 L56.7,249.2 L55.9,249.3 L55.1,249.3 L54.3,249.4 L53.5,249.5 L53.1,249.5 L52.3,249.5 L51.5,249.6 L50.7,249.6 L49.9,249.6 L49.1,249.6 L48.3,249.5 L47.8,249.5 L47.1,249.5 L46.3,249.4 L45.5,249.4 L44.7,249.4 L43.9,249.4 L43.1,249.3 L42.3,249.3 L41.5,249.3 L40.7,249.2 L39.9,249.1 L39.5,249.1 L38.7,249.0 L37.9,248.9 L37.1,248.8 L36.5,248.7 L35.9,248.6 L35.1,248.5 L34.3,248.4 L33.9,248.3 L33.1,248.2 L32.3,248.0 L31.7,247.9 L31.1,247.8M113.9,312.3 L113.1,312.4 L112.3,312.4 L111.5,312.4 L110.7,312.4 L109.9,312.4 L109.1,312.4 L108.3,312.3 L107.9,312.3 L107.1,312.2 L106.3,312.1 L105.6,311.9 L105.1,311.8 L104.3,311.6 L103.9,311.5 L103.1,311.3 L102.6,311.1 L101.9,310.8 L101.5,310.5 L101.1,310.0 L101.1,309.5 L101.4,309.1 L101.9,308.8 L102.3,308.6 L102.9,308.3 L103.5,308.0 L103.9,307.9 L104.7,307.6 L105.1,307.4 L105.8,307.1 L106.3,306.8 L106.6,306.3 L106.4,305.5 L106.1,305.1 L105.9,304.6 L105.6,303.9 L105.4,303.5 L105.1,302.7 L105.0,302.3 L104.8,301.5 L104.7,301.1 L104.5,300.3 L104.3,299.5 L104.2,299.1 L104.1,298.3 L103.9,297.5 L103.8,297.1 L103.6,296.3 L103.5,295.7 L103.3,295.1 L103.1,294.3 L102.9,293.9 L102.7,293.3 L102.4,292.7 L102.2,292.3 L101.9,291.9 L101.5,291.3 L101.1,290.7 L100.8,290.3 L100.4,289.9 L100.1,289.5 L99.8,289.1 L99.4,288.7 L99.1,288.3 L98.7,287.8 L98.3,287.3 L97.9,286.8 L97.5,286.3 L97.3,285.9 L97.1,285.5 L96.7,284.8 L96.5,284.3 L96.3,283.9 L96.0,283.1 L95.9,282.6 L95.7,281.9 L95.6,281.1 L95.5,280.4 L95.4,279.9 L95.3,279.1 L95.2,278.3 L95.1,277.5 L95.1,277.1 L95.0,276.3 L94.9,275.5 L94.9,274.7 L94.8,273.9 L94.8,273.1 L94.9,272.3 L95.0,271.5 L95.1,270.7 L95.2,270.3 L95.4,269.5 L95.5,269.0 L95.7,268.3 L95.9,267.8 L96.2,267.1 L96.3,266.7 L96.7,265.9 L96.9,265.5 L97.2,265.1 L97.5,264.6 L97.9,264.0 L98.3,263.6 L98.7,263.1 L99.1,262.7 L99.5,262.4 L99.9,262.1 L100.3,261.7 L100.7,261.5 L101.2,261.1 L101.8,260.7 L102.3,260.4 L102.7,260.2 L103.2,259.9 L103.9,259.5 L104.3,259.3 L104.7,259.1 L105.4,258.7 L105.9,258.4 L106.3,258.2 L106.9,257.9 L107.5,257.6 L107.9,257.5 L108.7,257.2 L109.1,257.1 L109.9,256.9 L110.7,256.9 L111.5,257.0 L112.0,257.1 L112.7,257.4 L113.1,257.6 L113.5,257.9 L114.1,258.3 L114.5,258.7 L114.9,259.1 L115.2,259.5 L115.5,259.9 L115.9,260.4 L116.3,261.1 L116.6,261.5 L116.8,261.9 L117.1,262.5 L117.4,263.1 L117.5,263.5 L117.8,264.3 L118.0,264.7 L118.2,265.5 L118.3,265.9 L118.5,266.7 L118.7,267.5 L118.7,267.9 L118.8,268.7 L118.9,269.5 L119.0,270.3 L119.0,271.1 L119.0,271.9 L119.0,272.7 L119.0,273.5 L119.0,274.3 L119.0,275.1 L118.9,275.9 L118.9,276.7 L118.8,277.5 L118.7,278.3 L118.7,278.7 L118.6,279.5 L118.4,280.3 L118.3,280.9 L118.2,281.5 L118.0,282.3 L117.9,282.7 L117.6,283.5 L117.5,284.0 L117.3,284.7 L117.1,285.4 L117.0,285.9 L116.7,286.7 L116.6,287.1 L116.4,287.9 L116.2,288.3 L115.9,289.0 L115.7,289.5 L115.5,289.9 L115.1,290.6 L114.8,291.1 L114.6,291.5 L114.3,291.9 L113.9,292.7 L113.7,293.1 L113.5,293.6 L113.2,294.3 L113.1,294.7 L112.9,295.5 L112.7,296.2 L112.6,296.7 L112.4,297.5 L112.3,298.1 L112.2,298.7 L112.0,299.5 L111.9,300.1 L111.8,300.7 L111.6,301.5 L111.5,301.9 L111.3,302.7 L111.1,303.2 L110.9,303.9 L110.7,304.3 L110.4,305.1 L110.2,305.5 L110.2,306.3 L110.7,306.6 L111.1,306.7 L111.9,306.9 L112.7,307.0 L113.1,307.1 L113.9,307.2 L114.7,307.2 L115.5,307.3 L116.3,307.4 L117.1,307.5 L117.5,307.5 L118.3,307.6 L119.1,307.8 L119.7,307.9 L120.3,308.0 L121.1,308.3 L121.5,308.4 L122.2,308.7 L122.7,309.1 L123.0,309.5 L122.8,310.3 L122.3,310.7 L121.9,310.9 L121.4,311.1 L120.7,311.3 L120.1,311.5 L119.5,311.6 L118.7,311.8 L118.0,311.9 L117.5,312.0 L116.7,312.1 L115.9,312.2 L115.1,312.2 L114.3,312.3 L113.9,312.3" stroke="#2e2e2e" stroke-width="0.55" fill="none"/>
<path d="M30.7,233.4 L31.5,233.2 L32.2,233.1 L32.7,233.0 L33.5,232.9 L34.3,232.8 L35.1,232.7 L35.5,232.7 L36.3,232.6 L37.1,232.5 L37.9,232.4 L38.7,232.4 L39.5,232.3 L39.9,232.3 L40.7,232.2 L41.5,232.2 L42.3,232.2 L43.1,232.1 L43.9,232.1 L44.7,232.1 L45.5,232.1 L46.3,232.0 L47.1,232.0 L47.9,231.9 L48.7,231.9 L49.1,231.9 L49.9,231.8 L50.7,231.7 L51.5,231.7 L52.3,231.7 L53.1,231.7 L53.9,231.7 L54.7,231.7 L55.5,231.7 L56.3,231.8 L57.1,231.9 L57.6,231.9 L58.3,231.9 L59.1,232.0 L59.9,232.1 L60.7,232.1 L61.5,232.2 L62.2,232.3 L62.7,232.4 L63.5,232.5 L64.3,232.6 L64.7,232.7 L65.5,232.9 L66.3,233.1 L66.7,233.2 L67.5,233.4 L67.9,233.5 L68.7,233.8 L69.1,233.9 L69.9,234.1 L70.5,234.3 L71.1,234.5 L71.9,234.7 L72.3,234.8 L73.1,235.0 L73.5,235.1 L74.3,235.3 L74.9,235.5 L75.5,235.7 L76.3,235.9 L76.7,236.0 L77.5,236.2 L77.9,236.3 L78.7,236.6 L79.1,236.7 L79.9,237.0 L80.3,237.2 L81.1,237.5 L81.5,237.7 L82.0,237.9 L82.7,238.3 L83.1,238.5 L83.5,238.7 L84.2,239.1 L84.7,239.4 L85.1,239.7 L85.5,240.0 L85.9,240.3 L86.4,240.7 L86.9,241.1 L87.3,241.5 L87.9,241.9 L88.3,241.9 L88.7,241.9 L89.5,241.6 L89.9,241.4 L90.3,241.1 L90.9,240.7 L91.5,240.3 L91.9,240.0 L92.3,239.7 L92.7,239.4 L93.2,239.1 L93.7,238.7 L94.3,238.3 L94.7,238.1 L95.1,237.8 L95.6,237.5 L96.3,237.1 L96.7,236.8 L97.1,236.6 L97.7,236.3 L98.3,236.0 L98.7,235.8 L99.2,235.5 L99.9,235.1 L100.3,234.9 L100.7,234.7 L101.5,234.3 L101.9,234.0 L102.3,233.8 L102.7,233.5 L103.2,233.1 L103.6,232.7 L104.0,232.3 L104.4,231.9 L104.8,231.5 L105.1,231.1 L105.6,230.7 L106.0,230.3 L106.5,229.9 L107.0,229.5 L107.5,229.2 L107.9,228.9 L108.3,228.7 L109.1,228.4 L109.5,228.2 L110.3,228.1 L111.1,228.2 L111.5,228.5 L111.9,229.1 L111.9,229.5 L111.9,230.2 L111.8,230.7 L111.5,231.5 L111.4,231.9 L111.1,232.4 L110.7,233.0 L110.4,233.5 L110.1,233.9 L109.7,234.3 L109.4,234.7 L109.0,235.1 L108.6,235.5 L108.2,235.9 L107.9,236.3 L107.5,236.8 L107.1,237.4 L106.9,237.9 L106.7,238.3 L106.5,239.1 L106.3,239.9 L106.2,240.3 L106.0,241.1 L105.9,241.5 L105.6,242.3 L105.5,242.7 L105.1,243.5 L105.0,243.9 L104.7,244.4 L104.3,245.1 L104.1,245.5 L103.8,245.9 L103.5,246.4 L103.1,247.0 L102.7,247.5 L102.3,247.9 L102.0,248.3 L101.6,248.7 L101.3,249.1 L100.9,249.5 L100.5,249.9 L100.0,250.3 L99.6,250.7 L99.1,251.1 L98.7,251.4 L98.3,251.8 L97.9,252.1 L97.5,252.3 L96.9,252.7 L96.3,253.1 L95.9,253.3 L95.5,253.5 L94.7,253.9 L94.3,254.0 L93.5,254.3 L93.1,254.5 L92.3,254.7 L91.9,254.8 L91.1,255.0 L90.3,255.0 L89.5,255.1 L88.7,255.0 L87.9,254.8 L87.5,254.6 L87.0,254.3 L86.6,253.9 L86.3,253.5 L86.0,252.7 L85.9,252.3 L85.8,251.5 L85.8,250.7 L85.8,249.9 L85.9,249.1 L85.9,248.7 L86.0,247.9 L86.0,247.1 L85.9,246.6 L85.5,246.1 L84.7,246.0 L83.9,246.1 L83.1,246.2 L82.7,246.3 L81.9,246.5 L81.2,246.7 L80.7,246.8 L79.9,247.0 L79.4,247.1 L78.7,247.2 L77.9,247.4 L77.2,247.5 L76.7,247.6 L75.9,247.7 L75.1,247.7 L74.3,247.8 L73.5,247.8 L72.7,247.8 L71.9,247.8 L71.1,247.8 L70.3,247.7 L69.5,247.7 L68.7,247.6 L68.0,247.5 L67.5,247.5 L66.7,247.4 L65.9,247.4 L65.1,247.3 L64.3,247.4 L63.5,247.5 L63.1,247.5 L62.3,247.6 L61.5,247.7 L60.7,247.8 L59.9,247.9 L59.5,247.9 L58.7,248.0 L57.9,248.1 L57.1,248.1 L56.3,248.2 L55.5,248.2 L54.7,248.3 L54.3,248.3 L53.5,248.4 L52.7,248.4 L51.9,248.5 L51.1,248.5 L50.3,248.5 L49.5,248.5 L48.7,248.4 L47.9,248.4 L47.1,248.4 L46.3,248.3 L45.5,248.3 L45.1,248.3 L44.3,248.3 L43.5,248.3 L42.7,248.2 L41.9,248.2 L41.1,248.1 L40.3,248.1 L39.5,248.0 L38.7,247.9 L38.3,247.9 L37.5,247.8 L36.7,247.6 L35.9,247.5 L35.5,247.5 L34.7,247.3 L33.9,247.2 L33.5,247.1 L32.7,246.9 L31.9,246.8 L31.5,246.7 L30.7,246.4M108.3,303.9 L107.9,303.9 L107.3,303.5 L107.0,303.1 L106.7,302.6 L106.3,301.9 L106.2,301.5 L105.9,300.7 L105.8,300.3 L105.6,299.5 L105.5,299.1 L105.3,298.3 L105.1,297.5 L105.1,297.1 L104.9,296.3 L104.8,295.5 L104.7,294.9 L104.6,294.3 L104.4,293.5 L104.3,293.1 L104.0,292.3 L103.8,291.9 L103.5,291.3 L103.1,290.7 L102.8,290.3 L102.5,289.9 L102.2,289.5 L101.9,289.1 L101.5,288.7 L101.1,288.2 L100.7,287.8 L100.3,287.3 L99.9,286.8 L99.5,286.3 L99.2,285.9 L98.9,285.5 L98.7,285.1 L98.3,284.5 L98.0,283.9 L97.8,283.5 L97.5,282.7 L97.4,282.3 L97.2,281.5 L97.1,281.1 L96.9,280.3 L96.8,279.5 L96.7,278.9 L96.6,278.3 L96.5,277.5 L96.4,276.7 L96.3,276.1 L96.2,275.5 L96.2,274.7 L96.2,273.9 L96.2,273.1 L96.3,272.3 L96.3,271.9 L96.4,271.1 L96.6,270.3 L96.7,269.9 L97.0,269.1 L97.1,268.7 L97.5,267.9 L97.7,267.5 L97.9,267.0 L98.3,266.3 L98.6,265.9 L98.9,265.5 L99.2,265.1 L99.5,264.7 L99.9,264.3 L100.3,263.9 L100.8,263.5 L101.3,263.1 L101.9,262.7 L102.3,262.4 L102.7,262.1 L103.1,261.9 L103.7,261.5 L104.3,261.1 L104.7,260.9 L105.1,260.6 L105.6,260.3 L106.2,259.9 L106.7,259.6 L107.1,259.3 L107.5,259.1 L108.2,258.7 L108.7,258.5 L109.1,258.3 L109.9,258.1 L110.7,258.0 L111.5,258.0 L112.3,258.2 L112.7,258.4 L113.2,258.7 L113.8,259.1 L114.2,259.5 L114.6,259.9 L115.0,260.3 L115.3,260.7 L115.6,261.1 L115.9,261.6 L116.3,262.3 L116.5,262.7 L116.7,263.1 L117.1,263.9 L117.2,264.3 L117.5,265.1 L117.6,265.5 L117.8,266.3 L117.9,266.7 L118.1,267.5 L118.2,268.3 L118.3,269.1 L118.3,269.7 L118.3,270.3 L118.4,271.1 L118.4,271.9 L118.3,272.7 L118.3,273.5 L118.3,273.9 L118.2,274.7 L118.2,275.5 L118.1,276.3 L118.0,277.1 L117.9,277.9 L117.9,278.3 L117.7,279.1 L117.6,279.9 L117.5,280.3 L117.3,281.1 L117.1,281.6 L116.9,282.3 L116.7,282.9 L116.5,283.5 L116.3,284.0 L116.1,284.7 L115.9,285.2 L115.6,285.9 L115.5,286.3 L115.1,287.1 L114.9,287.5 L114.7,288.0 L114.3,288.7 L114.1,289.1 L113.8,289.5 L113.5,290.1 L113.1,290.7 L112.9,291.1 L112.7,291.6 L112.4,292.3 L112.3,292.7 L112.1,293.5 L111.9,294.2 L111.8,294.7 L111.7,295.5 L111.5,296.3 L111.4,296.7 L111.3,297.5 L111.1,298.3 L111.0,298.7 L110.8,299.5 L110.7,299.9 L110.5,300.7 L110.3,301.2 L110.0,301.9 L109.9,302.3 L109.5,303.0 L109.1,303.5 L108.7,303.8 L108.3,303.9M115.1,311.9 L114.3,312.0 L113.5,312.1 L112.7,312.1 L111.9,312.1 L111.1,312.1 L110.3,312.1 L109.5,312.1 L108.7,312.0 L107.9,311.9 L107.5,311.9 L106.7,311.7 L105.9,311.6 L105.5,311.5 L104.7,311.3 L104.1,311.1 L103.5,310.9 L103.1,310.7 L102.5,310.3 L102.3,309.9 L102.3,309.5 L102.7,309.1 L103.3,308.7 L103.9,308.4 L104.3,308.3 L105.1,308.0 L105.5,307.8 L106.3,307.6 L106.7,307.4 L107.5,307.2 L108.3,307.1 L108.7,307.1 L109.3,307.1 L109.9,307.1 L110.7,307.2 L111.5,307.3 L112.3,307.3 L113.1,307.4 L113.9,307.5 L114.3,307.5 L115.1,307.6 L115.9,307.7 L116.7,307.7 L117.5,307.9 L117.9,307.9 L118.7,308.1 L119.5,308.2 L119.9,308.4 L120.7,308.6 L121.1,308.9 L121.5,309.1 L121.9,309.9 L121.5,310.4 L121.0,310.7 L120.3,311.0 L119.9,311.1 L119.1,311.3 L118.3,311.5 L117.9,311.6 L117.1,311.7 L116.3,311.8 L115.5,311.9 L115.1,311.9" stroke="#2e2e2e" stroke-width="0.55" fill="none"/>
<path d="M91.9,253.9 L91.1,254.1 L90.3,254.1 L89.5,254.1 L88.8,253.9 L88.3,253.7 L87.9,253.4 L87.5,253.1 L87.1,252.4 L86.9,251.9 L86.8,251.1 L86.8,250.3 L86.9,249.5 L87.0,248.7 L87.1,248.3 L87.4,247.5 L87.5,247.1 L87.9,246.3 L88.0,245.9 L88.3,245.4 L88.7,244.8 L89.1,244.3 L89.4,243.9 L89.7,243.5 L90.0,243.1 L90.4,242.7 L90.8,242.3 L91.2,241.9 L91.5,241.5 L91.9,241.1 L92.4,240.7 L92.8,240.3 L93.3,239.9 L93.8,239.5 L94.3,239.1 L94.7,238.8 L95.1,238.5 L95.5,238.2 L96.0,237.9 L96.7,237.5 L97.1,237.2 L97.5,237.0 L98.1,236.7 L98.7,236.3 L99.1,236.1 L99.5,235.9 L100.2,235.5 L100.7,235.2 L101.1,235.0 L101.6,234.7 L102.2,234.3 L102.7,233.9 L103.1,233.6 L103.5,233.3 L103.9,232.9 L104.3,232.4 L104.7,232.0 L105.1,231.6 L105.5,231.2 L105.9,230.8 L106.3,230.4 L106.7,230.1 L107.1,229.8 L107.5,229.5 L108.3,229.1 L108.7,228.9 L109.3,228.7 L109.9,228.6 L110.7,228.7 L111.1,229.0 L111.4,229.5 L111.5,230.3 L111.3,231.1 L111.1,231.6 L110.8,232.3 L110.5,232.7 L110.3,233.1 L109.9,233.6 L109.5,234.1 L109.1,234.6 L108.7,235.0 L108.3,235.4 L107.9,235.8 L107.5,236.2 L107.1,236.6 L106.8,237.1 L106.5,237.5 L106.3,237.9 L106.0,238.7 L105.9,239.1 L105.6,239.9 L105.5,240.4 L105.3,241.1 L105.1,241.7 L104.9,242.3 L104.7,242.8 L104.4,243.5 L104.2,243.9 L103.9,244.5 L103.5,245.1 L103.3,245.5 L103.0,245.9 L102.7,246.4 L102.3,246.9 L101.9,247.4 L101.5,247.9 L101.1,248.3 L100.7,248.7 L100.3,249.1 L99.9,249.5 L99.5,249.8 L99.1,250.2 L98.7,250.5 L98.3,250.8 L97.9,251.1 L97.4,251.5 L96.8,251.9 L96.3,252.2 L95.9,252.4 L95.3,252.7 L94.7,253.0 L94.3,253.2 L93.5,253.5 L93.1,253.6 L92.3,253.8 L91.9,253.9M30.7,234.3 L31.5,234.1 L32.3,233.9 L32.7,233.8 L33.5,233.7 L34.3,233.5 L34.7,233.5 L35.5,233.4 L36.3,233.3 L37.1,233.2 L37.9,233.1 L38.3,233.1 L39.1,233.0 L39.9,232.9 L40.7,232.9 L41.5,232.8 L42.3,232.8 L43.1,232.7 L43.9,232.7 L44.6,232.7 L45.1,232.7 L45.9,232.7 L46.7,232.6 L47.5,232.6 L48.3,232.5 L49.1,232.5 L49.9,232.4 L50.7,232.4 L51.5,232.4 L52.3,232.3 L53.1,232.3 L53.9,232.3 L54.7,232.4 L55.5,232.4 L56.3,232.4 L57.1,232.5 L57.9,232.6 L58.7,232.6 L59.5,232.7 L59.9,232.7 L60.7,232.8 L61.5,232.9 L62.3,233.0 L62.9,233.1 L63.5,233.2 L64.3,233.4 L64.9,233.5 L65.5,233.7 L66.3,233.9 L66.7,234.0 L67.5,234.3 L67.9,234.4 L68.7,234.7 L69.1,234.8 L69.9,235.1 L70.3,235.2 L71.1,235.5 L71.5,235.6 L72.3,235.9 L72.7,236.0 L73.5,236.3 L73.9,236.4 L74.7,236.6 L75.1,236.7 L75.9,237.0 L76.3,237.1 L77.1,237.4 L77.5,237.5 L78.3,237.8 L78.7,237.9 L79.5,238.3 L79.9,238.4 L80.5,238.7 L81.1,239.1 L81.5,239.3 L81.9,239.6 L82.4,239.9 L82.8,240.3 L83.2,240.7 L83.5,241.1 L83.9,241.9 L84.0,242.3 L83.9,243.0 L83.7,243.5 L83.4,243.9 L82.9,244.3 L82.3,244.7 L81.9,244.9 L81.5,245.1 L80.7,245.4 L80.3,245.6 L79.5,245.8 L79.1,245.9 L78.3,246.2 L77.6,246.3 L77.1,246.4 L76.3,246.5 L75.5,246.6 L74.9,246.7 L74.3,246.7 L73.5,246.8 L72.7,246.8 L71.9,246.8 L71.1,246.7 L70.7,246.7 L69.9,246.6 L69.1,246.5 L68.3,246.4 L67.8,246.3 L67.1,246.2 L66.3,246.1 L65.5,246.1 L64.7,246.1 L63.9,246.2 L63.1,246.3 L62.7,246.4 L61.9,246.5 L61.1,246.6 L60.4,246.7 L59.9,246.8 L59.1,246.8 L58.3,246.9 L57.5,246.9 L56.7,247.0 L55.9,247.0 L55.1,247.0 L54.3,247.1 L53.9,247.1 L53.1,247.1 L52.3,247.2 L51.5,247.2 L50.7,247.2 L49.9,247.1 L49.1,247.1 L48.7,247.1 L47.9,247.1 L47.1,247.0 L46.3,247.0 L45.5,247.0 L44.7,247.0 L43.9,247.0 L43.1,247.0 L42.3,247.0 L41.5,246.9 L40.7,246.9 L39.9,246.8 L39.1,246.7 L38.7,246.7 L37.9,246.5 L37.1,246.4 L36.4,246.3 L35.9,246.2 L35.1,246.1 L34.4,245.9 L33.9,245.8 L33.1,245.6 L32.7,245.5 L31.9,245.2 L31.5,245.1 L30.7,244.8M108.3,298.9 L107.8,298.7 L107.5,298.3 L107.1,297.5 L107.0,297.1 L106.8,296.3 L106.7,295.9 L106.6,295.1 L106.5,294.3 L106.4,293.5 L106.3,292.8 L106.2,292.3 L106.0,291.5 L105.8,291.1 L105.5,290.6 L105.1,290.0 L104.7,289.5 L104.4,289.1 L104.0,288.7 L103.7,288.3 L103.3,287.9 L102.9,287.5 L102.6,287.1 L102.2,286.7 L101.9,286.3 L101.5,285.9 L101.1,285.4 L100.7,284.8 L100.4,284.3 L100.1,283.9 L99.9,283.5 L99.5,282.7 L99.3,282.3 L99.1,281.7 L98.9,281.1 L98.7,280.5 L98.5,279.9 L98.3,279.1 L98.2,278.7 L98.1,277.9 L97.9,277.1 L97.9,276.7 L97.8,275.9 L97.7,275.1 L97.7,274.3 L97.7,273.5 L97.8,272.7 L97.9,271.9 L98.0,271.5 L98.2,270.7 L98.4,270.3 L98.7,269.5 L98.9,269.1 L99.1,268.7 L99.5,268.0 L99.8,267.5 L100.1,267.1 L100.4,266.7 L100.8,266.3 L101.1,265.9 L101.5,265.5 L102.0,265.1 L102.4,264.7 L102.9,264.3 L103.4,263.9 L103.9,263.5 L104.3,263.2 L104.7,262.8 L105.1,262.5 L105.5,262.2 L105.9,261.8 L106.3,261.5 L106.8,261.1 L107.3,260.7 L107.8,260.3 L108.3,260.0 L108.7,259.8 L109.2,259.5 L109.9,259.2 L110.6,259.1 L111.1,259.1 L111.5,259.1 L112.3,259.3 L112.8,259.5 L113.4,259.9 L113.9,260.3 L114.3,260.7 L114.7,261.1 L115.0,261.5 L115.3,261.9 L115.6,262.3 L115.9,262.8 L116.2,263.5 L116.4,263.9 L116.7,264.6 L116.9,265.1 L117.1,265.8 L117.2,266.3 L117.4,267.1 L117.5,267.7 L117.6,268.3 L117.7,269.1 L117.7,269.9 L117.7,270.7 L117.7,271.5 L117.7,272.3 L117.6,273.1 L117.6,273.9 L117.5,274.6 L117.4,275.1 L117.4,275.9 L117.2,276.7 L117.1,277.5 L117.0,277.9 L116.9,278.7 L116.7,279.3 L116.5,279.9 L116.3,280.7 L116.1,281.1 L115.9,281.8 L115.7,282.3 L115.5,282.7 L115.2,283.5 L115.0,283.9 L114.7,284.4 L114.4,285.1 L114.1,285.5 L113.9,285.9 L113.5,286.5 L113.1,287.1 L112.8,287.5 L112.5,287.9 L112.2,288.3 L111.9,288.7 L111.5,289.3 L111.1,289.9 L110.9,290.3 L110.7,290.8 L110.5,291.5 L110.3,292.2 L110.2,292.7 L110.1,293.5 L110.0,294.3 L109.9,295.1 L109.9,295.5 L109.7,296.3 L109.5,297.1 L109.4,297.5 L109.1,298.2 L108.7,298.7 L108.3,298.9M115.5,311.5 L114.7,311.6 L113.9,311.7 L113.1,311.7 L112.3,311.8 L111.5,311.8 L110.7,311.8 L109.9,311.7 L109.1,311.7 L108.3,311.6 L107.7,311.5 L107.1,311.4 L106.3,311.2 L105.8,311.1 L105.1,310.9 L104.7,310.7 L104.0,310.3 L103.7,309.9 L103.9,309.3 L104.3,309.0 L104.7,308.7 L105.5,308.4 L105.9,308.2 L106.7,308.0 L107.2,307.9 L107.9,307.7 L108.7,307.6 L109.5,307.6 L110.3,307.6 L111.1,307.6 L111.9,307.7 L112.7,307.7 L113.5,307.8 L114.3,307.9 L114.7,307.9 L115.5,308.0 L116.3,308.1 L117.1,308.2 L117.7,308.3 L118.3,308.4 L119.1,308.7 L119.5,308.8 L120.0,309.1 L120.4,309.5 L120.3,310.1 L119.9,310.4 L119.4,310.7 L118.7,310.9 L118.1,311.1 L117.5,311.2 L116.7,311.4 L115.9,311.5 L115.5,311.5" stroke="#2e2e2e" stroke-width="0.55" fill="none"/>
<path d="M91.5,253.2 L90.7,253.2 L89.9,253.1 L89.5,253.0 L88.9,252.7 L88.4,252.3 L88.2,251.9 L87.9,251.2 L87.8,250.7 L87.8,249.9 L87.9,249.2 L88.0,248.7 L88.2,247.9 L88.4,247.5 L88.7,246.8 L89.0,246.3 L89.2,245.9 L89.5,245.4 L89.9,244.8 L90.3,244.3 L90.5,243.9 L90.8,243.5 L91.2,243.1 L91.5,242.7 L91.9,242.2 L92.3,241.7 L92.7,241.3 L93.1,240.9 L93.5,240.5 L93.9,240.2 L94.3,239.8 L94.7,239.5 L95.2,239.1 L95.8,238.7 L96.3,238.3 L96.7,238.1 L97.1,237.8 L97.7,237.5 L98.3,237.1 L98.7,236.9 L99.1,236.7 L99.7,236.3 L100.3,236.0 L100.7,235.7 L101.1,235.5 L101.7,235.1 L102.3,234.7 L102.7,234.4 L103.1,234.1 L103.5,233.8 L103.9,233.4 L104.3,232.9 L104.7,232.5 L105.1,232.0 L105.5,231.6 L105.9,231.2 L106.3,230.8 L106.7,230.5 L107.1,230.2 L107.5,229.9 L108.3,229.5 L108.7,229.3 L109.5,229.1 L110.3,229.2 L110.7,229.5 L111.0,230.3 L110.9,231.1 L110.7,231.6 L110.4,232.3 L110.1,232.7 L109.9,233.1 L109.5,233.6 L109.1,234.1 L108.7,234.5 L108.3,234.9 L107.9,235.3 L107.5,235.7 L107.1,236.0 L106.7,236.5 L106.3,237.0 L106.0,237.5 L105.8,237.9 L105.5,238.6 L105.3,239.1 L105.1,239.7 L104.9,240.3 L104.7,240.9 L104.5,241.5 L104.3,242.1 L104.1,242.7 L103.9,243.1 L103.5,243.9 L103.3,244.3 L103.1,244.7 L102.7,245.3 L102.3,245.9 L102.0,246.3 L101.7,246.7 L101.3,247.1 L101.0,247.5 L100.6,247.9 L100.2,248.3 L99.8,248.7 L99.4,249.1 L98.9,249.5 L98.4,249.9 L97.9,250.3 L97.5,250.6 L97.1,250.9 L96.7,251.1 L96.1,251.5 L95.5,251.8 L95.1,252.0 L94.5,252.3 L93.9,252.6 L93.5,252.7 L92.7,252.9 L91.9,253.1 L91.5,253.2M30.7,235.3 L31.2,235.1 L31.9,234.9 L32.6,234.7 L33.1,234.6 L33.9,234.4 L34.5,234.3 L35.1,234.2 L35.9,234.1 L36.7,234.0 L37.2,233.9 L37.9,233.8 L38.7,233.7 L39.5,233.6 L40.3,233.6 L40.9,233.5 L41.5,233.4 L42.3,233.4 L43.1,233.3 L43.9,233.3 L44.7,233.3 L45.5,233.2 L46.3,233.2 L47.1,233.2 L47.9,233.2 L48.7,233.1 L49.2,233.1 L49.9,233.1 L50.7,233.0 L51.5,233.0 L52.3,232.9 L53.1,232.9 L53.9,232.9 L54.7,233.0 L55.5,233.0 L56.3,233.1 L56.7,233.1 L57.5,233.2 L58.3,233.2 L59.1,233.3 L59.9,233.4 L60.7,233.5 L61.1,233.5 L61.9,233.6 L62.7,233.8 L63.3,233.9 L63.9,234.0 L64.7,234.2 L65.1,234.4 L65.9,234.6 L66.3,234.8 L67.1,235.1 L67.5,235.3 L68.1,235.5 L68.7,235.8 L69.1,236.0 L69.9,236.3 L70.3,236.5 L70.8,236.7 L71.5,237.0 L71.9,237.2 L72.7,237.5 L73.1,237.6 L73.9,237.9 L74.3,238.0 L75.1,238.3 L75.5,238.4 L76.3,238.7 L76.7,238.8 L77.4,239.1 L77.9,239.3 L78.3,239.5 L79.0,239.9 L79.5,240.2 L79.9,240.6 L80.3,241.0 L80.6,241.5 L80.7,241.9 L80.7,242.5 L80.4,243.1 L80.1,243.5 L79.6,243.9 L79.1,244.2 L78.7,244.4 L78.0,244.7 L77.5,244.9 L76.8,245.1 L76.3,245.2 L75.5,245.4 L74.7,245.5 L74.2,245.5 L73.5,245.5 L72.7,245.5 L71.9,245.5 L71.5,245.5 L70.7,245.4 L69.9,245.3 L69.1,245.1 L68.7,245.1 L67.9,244.9 L67.1,244.8 L66.6,244.7 L65.9,244.7 L65.1,244.7 L64.7,244.7 L63.9,244.8 L63.1,245.0 L62.4,245.1 L61.9,245.2 L61.1,245.3 L60.3,245.5 L59.9,245.5 L59.1,245.6 L58.3,245.6 L57.5,245.7 L56.7,245.7 L55.9,245.7 L55.1,245.6 L54.3,245.6 L53.5,245.6 L52.7,245.6 L51.9,245.6 L51.1,245.6 L50.3,245.6 L49.5,245.5 L48.7,245.5 L48.1,245.5 L47.5,245.5 L46.7,245.5 L45.9,245.5 L45.1,245.5 L44.7,245.5 L43.9,245.5 L43.1,245.5 L42.3,245.5 L41.8,245.5 L41.1,245.5 L40.3,245.4 L39.5,245.3 L38.7,245.2 L38.3,245.1 L37.5,244.9 L36.7,244.8 L36.3,244.7 L35.5,244.4 L35.1,244.3 L34.3,244.0 L33.9,243.9 L33.1,243.5 L32.7,243.3 L32.3,243.1 L31.7,242.7 L31.2,242.3 L30.7,241.9M108.7,287.5 L107.9,287.7 L107.1,287.6 L106.7,287.5 L106.0,287.1 L105.5,286.8 L105.1,286.5 L104.7,286.2 L104.3,285.8 L103.9,285.5 L103.5,285.0 L103.1,284.5 L102.7,284.0 L102.3,283.5 L102.1,283.1 L101.8,282.7 L101.5,282.1 L101.2,281.5 L101.0,281.1 L100.7,280.3 L100.5,279.9 L100.3,279.2 L100.1,278.7 L99.9,277.9 L99.8,277.5 L99.6,276.7 L99.5,275.9 L99.5,275.5 L99.4,274.7 L99.5,273.9 L99.5,273.5 L99.7,272.7 L99.9,271.9 L100.0,271.5 L100.3,271.0 L100.7,270.3 L100.9,269.9 L101.2,269.5 L101.5,269.1 L101.9,268.7 L102.3,268.2 L102.7,267.7 L103.1,267.3 L103.5,266.8 L103.9,266.3 L104.2,265.9 L104.5,265.5 L104.8,265.1 L105.2,264.7 L105.5,264.3 L105.9,263.8 L106.3,263.3 L106.7,262.9 L107.1,262.4 L107.5,262.0 L107.9,261.7 L108.3,261.3 L108.7,261.0 L109.3,260.7 L109.9,260.4 L110.3,260.3 L111.1,260.1 L111.9,260.2 L112.3,260.3 L113.0,260.7 L113.5,261.0 L113.9,261.3 L114.3,261.7 L114.7,262.2 L115.1,262.7 L115.3,263.1 L115.5,263.5 L115.9,264.2 L116.1,264.7 L116.3,265.2 L116.5,265.9 L116.7,266.6 L116.8,267.1 L116.9,267.9 L117.0,268.7 L117.1,269.5 L117.1,270.3 L117.1,271.1 L117.0,271.9 L117.0,272.7 L116.9,273.5 L116.8,274.3 L116.7,275.0 L116.6,275.5 L116.5,276.3 L116.3,277.1 L116.2,277.5 L116.0,278.3 L115.9,278.7 L115.6,279.5 L115.4,279.9 L115.1,280.7 L114.9,281.1 L114.7,281.5 L114.3,282.2 L114.0,282.7 L113.8,283.1 L113.5,283.5 L113.1,284.0 L112.7,284.5 L112.3,285.0 L111.9,285.4 L111.5,285.7 L111.1,286.1 L110.7,286.4 L110.3,286.7 L109.6,287.1 L109.1,287.4 L108.7,287.5M115.5,311.1 L114.7,311.2 L113.9,311.3 L113.1,311.4 L112.3,311.4 L111.5,311.4 L110.7,311.4 L109.9,311.3 L109.1,311.3 L108.3,311.2 L107.9,311.1 L107.1,310.9 L106.4,310.7 L105.9,310.5 L105.5,310.2 L105.2,309.5 L105.6,309.1 L106.3,308.7 L106.7,308.6 L107.5,308.4 L107.9,308.3 L108.7,308.2 L109.5,308.1 L110.3,308.1 L111.1,308.1 L111.9,308.1 L112.7,308.1 L113.5,308.2 L114.3,308.3 L114.7,308.3 L115.5,308.4 L116.3,308.5 L117.1,308.7 L117.5,308.8 L118.3,309.1 L118.7,309.4 L118.8,309.9 L118.4,310.3 L117.9,310.5 L117.5,310.7 L116.7,310.9 L115.9,311.1 L115.5,311.1" stroke="#2e2e2e" stroke-width="0.55" fill="none"/>
<path d="M93.1,252.0 L92.3,252.2 L91.5,252.2 L90.7,252.2 L90.0,251.9 L89.5,251.6 L89.2,251.1 L89.0,250.7 L88.8,249.9 L88.9,249.1 L89.1,248.3 L89.2,247.9 L89.5,247.1 L89.7,246.7 L89.9,246.3 L90.3,245.6 L90.6,245.1 L90.9,244.7 L91.2,244.3 L91.5,243.8 L91.9,243.3 L92.3,242.8 L92.7,242.3 L93.0,241.9 L93.4,241.5 L93.8,241.1 L94.2,240.7 L94.6,240.3 L95.1,239.9 L95.5,239.6 L95.9,239.3 L96.3,239.0 L96.8,238.7 L97.4,238.3 L97.9,238.0 L98.3,237.8 L98.8,237.5 L99.4,237.1 L99.9,236.8 L100.3,236.5 L100.7,236.3 L101.3,235.9 L101.9,235.5 L102.3,235.2 L102.7,235.0 L103.1,234.7 L103.6,234.3 L104.0,233.9 L104.4,233.5 L104.7,233.1 L105.1,232.6 L105.5,232.2 L105.9,231.7 L106.3,231.3 L106.7,231.0 L107.1,230.7 L107.7,230.3 L108.3,230.0 L108.7,229.9 L109.5,229.8 L109.9,229.9 L110.3,230.7 L110.3,230.7 L110.2,231.5 L109.9,232.2 L109.6,232.7 L109.4,233.1 L109.1,233.5 L108.7,233.9 L108.3,234.4 L107.9,234.7 L107.5,235.1 L107.0,235.5 L106.6,235.9 L106.2,236.3 L105.9,236.7 L105.5,237.3 L105.2,237.9 L105.0,238.3 L104.7,239.0 L104.5,239.5 L104.3,240.1 L104.1,240.7 L103.9,241.3 L103.7,241.9 L103.5,242.4 L103.2,243.1 L103.0,243.5 L102.7,244.1 L102.3,244.7 L102.1,245.1 L101.8,245.5 L101.5,245.9 L101.1,246.4 L100.7,246.9 L100.3,247.3 L99.9,247.7 L99.5,248.1 L99.1,248.5 L98.7,248.8 L98.3,249.2 L97.9,249.5 L97.3,249.9 L96.7,250.3 L96.3,250.6 L95.9,250.8 L95.3,251.1 L94.7,251.4 L94.3,251.6 L93.5,251.9 L93.1,252.0M59.1,243.9 L58.3,243.9 L57.5,243.9 L57.0,243.9 L56.3,243.8 L55.5,243.8 L54.7,243.7 L53.9,243.6 L53.2,243.5 L52.7,243.5 L51.9,243.4 L51.1,243.3 L50.3,243.3 L49.5,243.2 L48.7,243.2 L47.9,243.2 L47.1,243.2 L46.3,243.3 L45.5,243.3 L44.7,243.4 L43.9,243.4 L43.1,243.5 L42.3,243.4 L41.5,243.4 L40.7,243.3 L39.9,243.1 L39.5,243.0 L38.7,242.8 L38.3,242.7 L37.5,242.3 L37.1,242.2 L36.5,241.9 L35.9,241.6 L35.5,241.4 L34.9,241.1 L34.3,240.8 L33.9,240.6 L33.4,240.3 L32.8,239.9 L32.3,239.6 L31.9,239.2 L31.5,238.8 L31.1,238.3 L31.0,237.9 L31.1,237.3 L31.5,236.7 L31.9,236.4 L32.3,236.1 L32.8,235.9 L33.5,235.6 L33.9,235.5 L34.7,235.3 L35.4,235.1 L35.9,235.0 L36.7,234.8 L37.5,234.7 L37.9,234.6 L38.7,234.5 L39.5,234.4 L40.3,234.3 L40.7,234.2 L41.5,234.2 L42.3,234.1 L43.1,234.0 L43.9,234.0 L44.7,233.9 L45.5,233.9 L46.1,233.9 L46.7,233.9 L47.5,233.9 L48.3,233.8 L49.1,233.8 L49.9,233.7 L50.7,233.7 L51.5,233.7 L52.3,233.6 L53.1,233.6 L53.9,233.6 L54.7,233.7 L55.5,233.7 L56.3,233.8 L57.1,233.8 L57.8,233.9 L58.3,233.9 L59.1,234.0 L59.9,234.1 L60.7,234.2 L61.1,234.3 L61.9,234.4 L62.7,234.6 L63.1,234.7 L63.9,235.0 L64.3,235.1 L65.1,235.5 L65.5,235.7 L65.9,235.9 L66.6,236.3 L67.1,236.7 L67.5,237.0 L67.9,237.4 L68.3,237.8 L68.7,238.2 L69.1,238.6 L69.5,239.0 L69.9,239.3 L70.3,239.5 L71.1,239.8 L71.5,239.9 L72.3,240.2 L72.8,240.3 L73.5,240.5 L74.0,240.7 L74.7,241.1 L75.1,241.4 L75.5,241.9 L75.1,242.7 L74.7,242.9 L74.3,243.1 L73.5,243.3 L72.7,243.3 L71.9,243.3 L71.1,243.1 L70.7,243.1 L69.9,242.8 L69.5,242.7 L68.7,242.4 L68.3,242.3 L67.5,242.1 L66.7,242.0 L65.9,242.1 L65.1,242.3 L64.7,242.4 L63.9,242.7 L63.5,242.8 L62.7,243.1 L62.3,243.2 L61.5,243.5 L61.1,243.6 L60.3,243.8 L59.5,243.9 L59.1,243.9M108.7,284.0 L107.9,284.0 L107.3,283.9 L106.7,283.7 L106.3,283.5 L105.8,283.1 L105.3,282.7 L105.0,282.3 L104.7,281.9 L104.3,281.3 L103.9,280.7 L103.7,280.3 L103.5,279.8 L103.2,279.1 L103.0,278.7 L102.8,277.9 L102.6,277.5 L102.4,276.7 L102.3,275.9 L102.3,275.5 L102.3,274.9 L102.4,274.3 L102.6,273.5 L102.7,273.1 L103.1,272.4 L103.4,271.9 L103.6,271.5 L103.9,271.1 L104.3,270.5 L104.6,269.9 L104.8,269.5 L105.1,269.0 L105.4,268.3 L105.5,267.9 L105.8,267.1 L106.0,266.7 L106.3,266.0 L106.5,265.5 L106.7,265.1 L107.1,264.5 L107.5,263.9 L107.8,263.5 L108.1,263.1 L108.5,262.7 L109.0,262.3 L109.5,261.9 L109.9,261.7 L110.4,261.5 L111.1,261.3 L111.9,261.4 L112.3,261.5 L113.1,261.9 L113.5,262.2 L113.9,262.6 L114.3,263.0 L114.7,263.5 L114.9,263.9 L115.2,264.3 L115.5,265.0 L115.7,265.5 L115.9,266.2 L116.0,266.7 L116.2,267.5 L116.3,268.2 L116.4,268.7 L116.4,269.5 L116.4,270.3 L116.4,271.1 L116.3,271.9 L116.3,272.3 L116.2,273.1 L116.0,273.9 L115.9,274.6 L115.8,275.1 L115.6,275.9 L115.5,276.3 L115.3,277.1 L115.1,277.6 L114.8,278.3 L114.6,278.7 L114.3,279.3 L114.0,279.9 L113.7,280.3 L113.4,280.7 L113.1,281.1 L112.7,281.6 L112.3,282.0 L111.9,282.4 L111.5,282.7 L110.9,283.1 L110.3,283.4 L109.9,283.6 L109.1,283.9 L108.7,284.0M113.9,310.8 L113.1,310.8 L112.3,310.9 L111.5,310.9 L110.7,310.9 L109.9,310.8 L109.3,310.7 L108.7,310.6 L107.9,310.3 L107.5,310.1 L107.3,309.5 L107.8,309.1 L108.3,308.9 L109.1,308.8 L109.5,308.7 L110.3,308.6 L111.1,308.6 L111.9,308.6 L112.7,308.7 L113.3,308.7 L113.9,308.8 L114.7,308.9 L115.5,309.1 L115.9,309.2 L116.4,309.5 L116.3,310.1 L115.9,310.3 L115.1,310.5 L114.3,310.7 L113.9,310.8" stroke="#2e2e2e" stroke-width="0.55" fill="none"/>
<path d="M93.1,251.2 L92.3,251.3 L91.5,251.2 L91.0,251.1 L90.4,250.7 L90.1,250.3 L89.9,249.7 L89.8,249.1 L89.9,248.6 L90.0,247.9 L90.3,247.2 L90.5,246.7 L90.7,246.3 L91.1,245.6 L91.4,245.1 L91.6,244.7 L91.9,244.3 L92.3,243.7 L92.7,243.2 L93.1,242.7 L93.4,242.3 L93.8,241.9 L94.1,241.5 L94.5,241.1 L95.0,240.7 L95.5,240.3 L95.9,239.9 L96.3,239.6 L96.7,239.4 L97.1,239.1 L97.8,238.7 L98.3,238.4 L98.7,238.2 L99.2,237.9 L99.8,237.5 L100.3,237.2 L100.7,236.9 L101.1,236.6 L101.6,236.3 L102.3,235.9 L102.7,235.7 L103.1,235.4 L103.6,235.1 L104.2,234.7 L104.5,234.3 L104.8,233.9 L105.1,233.5 L105.5,233.0 L105.9,232.5 L106.3,232.0 L106.7,231.6 L107.1,231.3 L107.5,231.0 L108.2,230.7 L108.7,230.6 L109.2,230.7 L109.5,231.5 L109.2,232.3 L109.0,232.7 L108.7,233.2 L108.3,233.7 L107.9,234.1 L107.5,234.4 L107.1,234.7 L106.6,235.1 L106.1,235.5 L105.6,235.9 L105.3,236.3 L105.1,236.7 L104.7,237.5 L104.5,237.9 L104.3,238.4 L104.0,239.1 L103.8,239.5 L103.5,240.3 L103.4,240.7 L103.1,241.5 L103.0,241.9 L102.7,242.7 L102.5,243.1 L102.3,243.5 L101.9,244.3 L101.7,244.7 L101.4,245.1 L101.1,245.5 L100.7,246.0 L100.3,246.5 L99.9,246.9 L99.5,247.3 L99.1,247.7 L98.7,248.1 L98.3,248.4 L97.9,248.7 L97.4,249.1 L96.8,249.5 L96.3,249.8 L95.9,250.1 L95.4,250.3 L94.7,250.7 L94.3,250.8 L93.5,251.1 L93.1,251.2M59.5,241.5 L58.7,241.7 L57.9,241.7 L57.1,241.7 L56.3,241.6 L55.5,241.5 L55.1,241.5 L54.3,241.4 L53.5,241.3 L52.7,241.2 L51.9,241.2 L51.1,241.1 L50.7,241.1 L49.9,241.1 L49.1,241.1 L48.3,241.1 L47.7,241.1 L47.1,241.1 L46.3,241.2 L45.5,241.2 L44.7,241.3 L43.9,241.3 L43.1,241.3 L42.3,241.2 L41.7,241.1 L41.1,241.0 L40.3,240.8 L39.9,240.7 L39.1,240.4 L38.7,240.3 L37.9,240.0 L37.5,239.8 L36.8,239.5 L36.3,239.2 L35.9,239.0 L35.4,238.7 L35.0,238.3 L34.7,237.5 L35.1,236.9 L35.5,236.6 L36.1,236.3 L36.7,236.1 L37.2,235.9 L37.9,235.7 L38.7,235.5 L39.1,235.4 L39.9,235.2 L40.7,235.1 L41.1,235.0 L41.9,234.9 L42.7,234.8 L43.5,234.7 L44.2,234.7 L44.7,234.7 L45.5,234.6 L46.3,234.6 L47.1,234.6 L47.9,234.6 L48.7,234.6 L49.5,234.5 L50.3,234.5 L51.1,234.5 L51.9,234.4 L52.7,234.4 L53.5,234.4 L54.3,234.4 L55.1,234.4 L55.9,234.5 L56.7,234.6 L57.5,234.6 L57.9,234.7 L58.7,234.8 L59.5,234.9 L60.3,235.1 L60.7,235.1 L61.5,235.3 L62.0,235.5 L62.7,235.8 L63.1,236.0 L63.7,236.3 L64.2,236.7 L64.5,237.1 L64.7,237.7 L64.7,238.0 L64.5,238.7 L64.1,239.1 L63.7,239.5 L63.2,239.9 L62.7,240.2 L62.3,240.5 L61.9,240.7 L61.1,241.1 L60.7,241.2 L59.9,241.5 L59.5,241.5M110.3,280.3 L109.5,280.4 L109.0,280.3 L108.3,280.0 L107.9,279.8 L107.5,279.4 L107.1,278.8 L106.8,278.3 L106.6,277.9 L106.3,277.1 L106.2,276.7 L106.1,275.9 L106.0,275.1 L106.0,274.3 L106.1,273.5 L106.2,272.7 L106.3,272.1 L106.4,271.5 L106.6,270.7 L106.7,270.0 L106.8,269.5 L106.9,268.7 L107.1,268.0 L107.2,267.5 L107.4,266.7 L107.6,266.3 L107.9,265.5 L108.1,265.1 L108.4,264.7 L108.7,264.2 L109.1,263.7 L109.5,263.4 L109.9,263.1 L110.7,262.7 L111.1,262.6 L111.9,262.6 L112.3,262.7 L113.0,263.1 L113.5,263.5 L113.9,263.9 L114.2,264.3 L114.5,264.7 L114.7,265.1 L115.0,265.9 L115.2,266.3 L115.4,267.1 L115.5,267.6 L115.6,268.3 L115.7,269.1 L115.7,269.9 L115.6,270.7 L115.6,271.5 L115.5,272.0 L115.4,272.7 L115.2,273.5 L115.1,274.1 L114.9,274.7 L114.7,275.4 L114.5,275.9 L114.3,276.5 L114.0,277.1 L113.8,277.5 L113.5,277.9 L113.1,278.5 L112.7,278.9 L112.3,279.3 L111.9,279.6 L111.4,279.9 L110.7,280.2 L110.3,280.3" stroke="#2e2e2e" stroke-width="0.55" fill="none"/>
<path d="M107.1,233.6 L106.7,233.8 L106.3,233.6 L106.3,233.5 L106.3,233.5 L106.5,233.1 L106.7,232.7 L106.7,232.7 L107.1,232.3 L107.2,232.3 L107.5,232.1 L107.9,232.0 L108.1,232.3 L108.0,232.7 L107.9,232.9 L107.7,233.1 L107.5,233.3 L107.3,233.5 L107.1,233.6M59.1,239.5 L58.3,239.7 L57.5,239.8 L56.7,239.9 L55.9,239.9 L55.1,239.8 L54.3,239.8 L53.5,239.8 L52.7,239.7 L51.9,239.6 L51.1,239.6 L50.3,239.6 L49.5,239.6 L48.7,239.6 L47.9,239.6 L47.1,239.7 L46.3,239.7 L45.5,239.7 L44.7,239.7 L43.9,239.7 L43.1,239.7 L42.3,239.5 L41.9,239.4 L41.1,239.2 L40.7,239.0 L40.0,238.7 L39.5,238.3 L39.2,237.9 L39.4,237.1 L39.9,236.7 L40.3,236.5 L40.8,236.3 L41.5,236.1 L42.3,235.9 L42.7,235.8 L43.5,235.7 L44.3,235.6 L45.1,235.6 L45.9,235.6 L46.7,235.6 L47.5,235.6 L48.3,235.5 L49.1,235.5 L49.8,235.5 L50.3,235.5 L51.1,235.4 L51.9,235.4 L52.7,235.3 L53.5,235.3 L54.3,235.3 L55.1,235.4 L55.9,235.4 L56.4,235.5 L57.1,235.6 L57.9,235.7 L58.7,235.9 L59.1,236.0 L59.9,236.2 L60.3,236.4 L60.9,236.7 L61.3,237.1 L61.4,237.9 L61.1,238.4 L60.7,238.8 L60.2,239.1 L59.5,239.4 L59.1,239.5M93.1,250.3 L92.3,250.3 L91.9,250.2 L91.3,249.9 L91.0,249.5 L90.8,248.7 L90.9,247.9 L91.1,247.1 L91.3,246.7 L91.5,246.2 L91.8,245.5 L92.1,245.1 L92.3,244.7 L92.7,244.1 L93.1,243.6 L93.5,243.1 L93.8,242.7 L94.1,242.3 L94.5,241.9 L94.9,241.5 L95.3,241.1 L95.8,240.7 L96.3,240.3 L96.7,240.0 L97.1,239.8 L97.5,239.5 L98.2,239.1 L98.7,238.8 L99.1,238.6 L99.7,238.3 L100.3,237.9 L100.7,237.7 L101.1,237.4 L101.6,237.1 L102.3,236.7 L102.7,236.6 L103.5,236.5 L103.8,237.1 L103.7,237.9 L103.5,238.3 L103.2,239.1 L103.1,239.5 L102.8,240.3 L102.7,240.7 L102.5,241.5 L102.3,241.9 L102.0,242.7 L101.9,243.1 L101.5,243.8 L101.2,244.3 L101.0,244.7 L100.7,245.1 L100.3,245.6 L99.9,246.1 L99.5,246.6 L99.1,247.0 L98.7,247.4 L98.3,247.7 L97.9,248.0 L97.5,248.3 L97.0,248.7 L96.3,249.1 L95.9,249.4 L95.5,249.6 L94.7,249.9 L94.3,250.1 L93.5,250.3 L93.1,250.3M111.5,277.1 L110.7,277.3 L110.1,277.1 L109.5,276.7 L109.1,276.3 L108.8,275.9 L108.6,275.5 L108.3,274.7 L108.2,274.3 L108.1,273.5 L108.0,272.7 L108.0,271.9 L108.0,271.1 L108.1,270.3 L108.1,269.5 L108.2,268.7 L108.3,268.3 L108.5,267.5 L108.7,266.7 L108.9,266.3 L109.1,265.8 L109.5,265.2 L109.9,264.7 L110.3,264.4 L110.7,264.2 L111.5,264.0 L112.3,264.1 L112.7,264.3 L113.2,264.7 L113.6,265.1 L113.9,265.6 L114.3,266.3 L114.4,266.7 L114.6,267.5 L114.7,267.9 L114.8,268.7 L114.8,269.5 L114.8,270.3 L114.7,271.1 L114.7,271.5 L114.5,272.3 L114.3,273.1 L114.2,273.5 L113.9,274.3 L113.7,274.7 L113.5,275.2 L113.1,275.8 L112.7,276.3 L112.3,276.7 L111.9,277.0 L111.5,277.1" stroke="#2e2e2e" stroke-width="0.55" fill="none"/>
<path d="M55.9,238.0 L55.1,238.1 L54.3,238.1 L53.5,238.0 L52.7,237.9 L52.3,237.8 L51.5,237.5 L51.5,237.5 L51.9,237.1 L52.7,236.9 L53.5,236.8 L54.3,236.8 L55.1,236.9 L55.9,237.0 L56.3,237.2 L56.3,237.8 L55.9,238.0M45.9,237.9 L45.5,237.9 L45.1,237.9 L45.0,237.9 L44.7,237.8 L44.3,237.5 L44.3,237.5 L44.3,237.5 L44.7,237.3 L45.1,237.2 L45.5,237.2 L45.9,237.2 L46.3,237.2 L46.7,237.3 L47.1,237.5 L47.2,237.5 L47.1,237.5 L46.7,237.7 L46.3,237.8 L45.9,237.9 L45.9,237.9M93.5,249.5 L92.9,249.5 L92.3,249.3 L91.9,248.9 L91.7,248.3 L91.7,247.5 L91.9,246.8 L92.1,246.3 L92.3,245.8 L92.7,245.1 L92.9,244.7 L93.2,244.3 L93.5,243.8 L93.9,243.3 L94.3,242.8 L94.7,242.3 L95.1,241.9 L95.5,241.5 L95.9,241.2 L96.3,240.9 L96.7,240.6 L97.2,240.3 L97.8,239.9 L98.3,239.6 L98.7,239.5 L99.5,239.1 L99.9,238.9 L100.4,238.7 L101.1,238.4 L101.5,238.3 L102.0,238.3 L102.2,239.1 L102.1,239.9 L102.0,240.7 L101.9,241.1 L101.7,241.9 L101.5,242.5 L101.3,243.1 L101.1,243.5 L100.7,244.2 L100.4,244.7 L100.1,245.1 L99.8,245.5 L99.5,245.9 L99.1,246.3 L98.7,246.7 L98.3,247.1 L97.8,247.5 L97.3,247.9 L96.7,248.3 L96.3,248.5 L95.9,248.7 L95.1,249.1 L94.7,249.3 L93.9,249.5 L93.5,249.5M111.9,274.5 L111.1,274.6 L110.4,274.3 L110.1,273.9 L109.8,273.5 L109.6,272.7 L109.5,272.3 L109.4,271.5 L109.3,270.7 L109.3,269.9 L109.4,269.1 L109.5,268.3 L109.6,267.9 L109.8,267.1 L110.0,266.7 L110.3,266.2 L110.7,265.8 L111.4,265.5 L111.9,265.5 L112.3,265.6 L112.7,265.9 L113.1,266.3 L113.5,267.0 L113.7,267.5 L113.8,268.3 L113.9,268.7 L113.9,269.5 L113.9,270.0 L113.8,270.7 L113.6,271.5 L113.5,272.0 L113.2,272.7 L113.1,273.1 L112.7,273.7 L112.3,274.2 L111.9,274.5" stroke="#2e2e2e" stroke-width="0.55" fill="none"/>
<path d="M94.7,248.8 L93.9,248.9 L93.1,248.9 L92.7,248.6 L92.3,247.9 L92.3,247.5 L92.3,247.1 L92.5,246.3 L92.7,245.9 L93.1,245.1 L93.3,244.7 L93.6,244.3 L93.9,243.8 L94.3,243.3 L94.7,242.8 L95.1,242.4 L95.5,242.0 L95.9,241.6 L96.3,241.3 L96.7,241.0 L97.2,240.7 L97.9,240.3 L98.3,240.1 L98.7,239.9 L99.5,239.6 L99.9,239.5 L100.7,239.4 L101.1,239.6 L101.4,240.3 L101.4,241.1 L101.2,241.9 L101.1,242.4 L100.9,243.1 L100.7,243.5 L100.3,244.2 L100.0,244.7 L99.7,245.1 L99.4,245.5 L99.0,245.9 L98.7,246.3 L98.2,246.7 L97.8,247.1 L97.2,247.5 L96.7,247.9 L96.3,248.1 L95.9,248.3 L95.1,248.7 L94.7,248.8M111.9,272.1 L111.1,272.1 L110.7,271.5 L110.6,271.1 L110.4,270.3 L110.4,269.5 L110.5,268.7 L110.7,267.9 L110.9,267.5 L111.4,267.1 L111.9,267.0 L112.3,267.3 L112.7,267.8 L112.9,268.3 L113.0,269.1 L113.0,269.9 L112.8,270.7 L112.7,271.1 L112.3,271.8 L111.9,272.1" stroke="#2e2e2e" stroke-width="0.55" fill="none"/>
<path d="M94.7,248.3 L93.9,248.4 L93.5,248.2 L93.1,247.9 L92.9,247.1 L93.0,246.3 L93.2,245.9 L93.5,245.1 L93.7,244.7 L94.0,244.3 L94.3,243.8 L94.7,243.3 L95.1,242.8 L95.5,242.4 L95.9,242.0 L96.3,241.7 L96.7,241.4 L97.2,241.1 L97.9,240.7 L98.3,240.5 L99.0,240.3 L99.5,240.2 L100.3,240.3 L100.6,240.7 L100.8,241.1 L100.8,241.9 L100.7,242.3 L100.4,243.1 L100.3,243.5 L99.9,244.2 L99.6,244.7 L99.3,245.1 L99.0,245.5 L98.6,245.9 L98.2,246.3 L97.7,246.7 L97.2,247.1 L96.7,247.4 L96.3,247.7 L95.9,247.9 L95.1,248.2 L94.7,248.3" stroke="#2e2e2e" stroke-width="0.55" fill="none"/>
<path d="M95.5,247.6 L94.7,247.8 L93.9,247.6 L93.5,247.1 L93.5,246.7 L93.5,246.3 L93.8,245.5 L93.9,245.1 L94.3,244.4 L94.7,243.9 L95.0,243.5 L95.3,243.1 L95.7,242.7 L96.1,242.3 L96.6,241.9 L97.1,241.6 L97.5,241.3 L98.0,241.1 L98.7,240.9 L99.5,240.9 L99.9,241.1 L100.2,241.9 L100.1,242.7 L99.9,243.4 L99.7,243.9 L99.4,244.3 L99.1,244.8 L98.7,245.3 L98.3,245.7 L97.9,246.1 L97.5,246.5 L97.1,246.8 L96.6,247.1 L95.9,247.4 L95.5,247.6" stroke="#2e2e2e" stroke-width="0.55" fill="none"/>
<path d="M95.5,247.2 L94.7,247.2 L94.3,247.0 L94.0,246.3 L94.2,245.5 L94.3,245.1 L94.7,244.4 L95.0,243.9 L95.3,243.5 L95.7,243.1 L96.1,242.7 L96.6,242.3 L97.1,242.0 L97.5,241.7 L98.1,241.5 L98.7,241.4 L99.3,241.5 L99.6,241.9 L99.7,242.7 L99.5,243.4 L99.3,243.9 L99.1,244.3 L98.7,244.8 L98.3,245.3 L97.9,245.7 L97.5,246.1 L97.1,246.4 L96.6,246.7 L95.9,247.0 L95.5,247.2" stroke="#2e2e2e" stroke-width="0.55" fill="none"/>
<path d="M96.3,246.3 L95.5,246.5 L94.9,246.3 L94.7,245.5 L95.0,244.7 L95.2,244.3 L95.5,243.9 L95.9,243.4 L96.3,243.0 L96.7,242.7 L97.4,242.3 L97.9,242.1 L98.7,242.1 L99.1,242.7 L99.0,243.5 L98.7,244.1 L98.3,244.7 L98.0,245.1 L97.6,245.5 L97.1,245.9 L96.7,246.1 L96.3,246.3" stroke="#2e2e2e" stroke-width="0.55" fill="none"/>
<path d="M96.7,245.6 L95.9,245.8 L95.5,245.5 L95.5,244.9 L95.8,244.3 L96.1,243.9 L96.4,243.5 L96.9,243.1 L97.5,242.8 L98.3,243.0 L98.4,243.5 L98.3,243.9 L97.9,244.5 L97.5,245.0 L97.1,245.3 L96.7,245.6" stroke="#2e2e2e" stroke-width="0.55" fill="none"/>
</g>
<line x1="80.60" y1="214.30" x2="80.60" y2="310.80" stroke="#555" stroke-width="0.7" />
<line x1="32.70" y1="260.80" x2="128.30" y2="260.80" stroke="#555" stroke-width="0.7" />
<line x1="32.70" y1="214.30" x2="128.30" y2="214.30" stroke="#222" stroke-width="0.9" />
<line x1="128.30" y1="214.30" x2="128.30" y2="310.80" stroke="#222" stroke-width="0.9" />
<line x1="32.70" y1="213.90" x2="32.70" y2="311.60" stroke="#000" stroke-width="1.5" />
<line x1="32.00" y1="310.80" x2="128.70" y2="310.80" stroke="#000" stroke-width="1.7" />
<line x1="44.70" y1="310.80" x2="44.70" y2="313.60" stroke="#000" stroke-width="1.0" />
<line x1="52.20" y1="310.80" x2="52.20" y2="313.60" stroke="#000" stroke-width="1.0" />
<line x1="77.20" y1="310.80" x2="77.20" y2="313.60" stroke="#000" stroke-width="1.0" />
<line x1="100.20" y1="310.80" x2="100.20" y2="313.60" stroke="#000" stroke-width="1.0" />
<line x1="122.20" y1="310.80" x2="122.20" y2="313.60" stroke="#000" stroke-width="1.0" />
<line x1="35.70" y1="310.80" x2="35.70" y2="312.70" stroke="#000" stroke-width="0.8" />
<line x1="38.70" y1="310.80" x2="38.70" y2="312.70" stroke="#000" stroke-width="0.8" />
<line x1="41.70" y1="310.80" x2="41.70" y2="312.70" stroke="#000" stroke-width="0.8" />
<line x1="47.20" y1="310.80" x2="47.20" y2="312.70" stroke="#000" stroke-width="0.8" />
<line x1="49.70" y1="310.80" x2="49.70" y2="312.70" stroke="#000" stroke-width="0.8" />
<line x1="59.73" y1="310.80" x2="59.73" y2="312.70" stroke="#000" stroke-width="0.8" />
<line x1="64.13" y1="310.80" x2="64.13" y2="312.70" stroke="#000" stroke-width="0.8" />
<line x1="67.25" y1="310.80" x2="67.25" y2="312.70" stroke="#000" stroke-width="0.8" />
<line x1="69.67" y1="310.80" x2="69.67" y2="312.70" stroke="#000" stroke-width="0.8" />
<line x1="71.65" y1="310.80" x2="71.65" y2="312.70" stroke="#000" stroke-width="0.8" />
<line x1="73.33" y1="310.80" x2="73.33" y2="312.70" stroke="#000" stroke-width="0.8" />
<line x1="74.78" y1="310.80" x2="74.78" y2="312.70" stroke="#000" stroke-width="0.8" />
<line x1="76.06" y1="310.80" x2="76.06" y2="312.70" stroke="#000" stroke-width="0.8" />
<line x1="84.12" y1="310.80" x2="84.12" y2="312.70" stroke="#000" stroke-width="0.8" />
<line x1="88.17" y1="310.80" x2="88.17" y2="312.70" stroke="#000" stroke-width="0.8" />
<line x1="91.05" y1="310.80" x2="91.05" y2="312.70" stroke="#000" stroke-width="0.8" />
<line x1="93.28" y1="310.80" x2="93.28" y2="312.70" stroke="#000" stroke-width="0.8" />
<line x1="95.10" y1="310.80" x2="95.10" y2="312.70" stroke="#000" stroke-width="0.8" />
<line x1="96.64" y1="310.80" x2="96.64" y2="312.70" stroke="#000" stroke-width="0.8" />
<line x1="97.97" y1="310.80" x2="97.97" y2="312.70" stroke="#000" stroke-width="0.8" />
<line x1="99.15" y1="310.80" x2="99.15" y2="312.70" stroke="#000" stroke-width="0.8" />
<line x1="106.82" y1="310.80" x2="106.82" y2="312.70" stroke="#000" stroke-width="0.8" />
<line x1="110.70" y1="310.80" x2="110.70" y2="312.70" stroke="#000" stroke-width="0.8" />
<line x1="113.45" y1="310.80" x2="113.45" y2="312.70" stroke="#000" stroke-width="0.8" />
<line x1="115.58" y1="310.80" x2="115.58" y2="312.70" stroke="#000" stroke-width="0.8" />
<line x1="117.32" y1="310.80" x2="117.32" y2="312.70" stroke="#000" stroke-width="0.8" />
<line x1="118.79" y1="310.80" x2="118.79" y2="312.70" stroke="#000" stroke-width="0.8" />
<line x1="120.07" y1="310.80" x2="120.07" y2="312.70" stroke="#000" stroke-width="0.8" />
<line x1="121.19" y1="310.80" x2="121.19" y2="312.70" stroke="#000" stroke-width="0.8" />
<line x1="29.90" y1="224.80" x2="32.70" y2="224.80" stroke="#000" stroke-width="1.0" />
<line x1="29.90" y1="245.30" x2="32.70" y2="245.30" stroke="#000" stroke-width="1.0" />
<line x1="29.90" y1="268.30" x2="32.70" y2="268.30" stroke="#000" stroke-width="1.0" />
<line x1="29.90" y1="289.50" x2="32.70" y2="289.50" stroke="#000" stroke-width="1.0" />
<line x1="29.90" y1="300.30" x2="32.70" y2="300.30" stroke="#000" stroke-width="1.0" />
<line x1="30.90" y1="283.12" x2="32.70" y2="283.12" stroke="#000" stroke-width="0.8" />
<line x1="30.90" y1="279.39" x2="32.70" y2="279.39" stroke="#000" stroke-width="0.8" />
<line x1="30.90" y1="276.74" x2="32.70" y2="276.74" stroke="#000" stroke-width="0.8" />
<line x1="30.90" y1="274.68" x2="32.70" y2="274.68" stroke="#000" stroke-width="0.8" />
<line x1="30.90" y1="273.00" x2="32.70" y2="273.00" stroke="#000" stroke-width="0.8" />
<line x1="30.90" y1="271.58" x2="32.70" y2="271.58" stroke="#000" stroke-width="0.8" />
<line x1="30.90" y1="270.35" x2="32.70" y2="270.35" stroke="#000" stroke-width="0.8" />
<line x1="30.90" y1="269.27" x2="32.70" y2="269.27" stroke="#000" stroke-width="0.8" />
<line x1="30.90" y1="261.38" x2="32.70" y2="261.38" stroke="#000" stroke-width="0.8" />
<line x1="30.90" y1="257.33" x2="32.70" y2="257.33" stroke="#000" stroke-width="0.8" />
<line x1="30.90" y1="254.45" x2="32.70" y2="254.45" stroke="#000" stroke-width="0.8" />
<line x1="30.90" y1="252.22" x2="32.70" y2="252.22" stroke="#000" stroke-width="0.8" />
<line x1="30.90" y1="250.40" x2="32.70" y2="250.40" stroke="#000" stroke-width="0.8" />
<line x1="30.90" y1="248.86" x2="32.70" y2="248.86" stroke="#000" stroke-width="0.8" />
<line x1="30.90" y1="247.53" x2="32.70" y2="247.53" stroke="#000" stroke-width="0.8" />
<line x1="30.90" y1="246.35" x2="32.70" y2="246.35" stroke="#000" stroke-width="0.8" />
<line x1="30.90" y1="239.13" x2="32.70" y2="239.13" stroke="#000" stroke-width="0.8" />
<line x1="30.90" y1="235.52" x2="32.70" y2="235.52" stroke="#000" stroke-width="0.8" />
<line x1="30.90" y1="232.96" x2="32.70" y2="232.96" stroke="#000" stroke-width="0.8" />
<line x1="30.90" y1="230.97" x2="32.70" y2="230.97" stroke="#000" stroke-width="0.8" />
<line x1="30.90" y1="229.35" x2="32.70" y2="229.35" stroke="#000" stroke-width="0.8" />
<line x1="30.90" y1="227.98" x2="32.70" y2="227.98" stroke="#000" stroke-width="0.8" />
<line x1="30.90" y1="226.79" x2="32.70" y2="226.79" stroke="#000" stroke-width="0.8" />
<line x1="30.90" y1="225.74" x2="32.70" y2="225.74" stroke="#000" stroke-width="0.8" />
<line x1="30.90" y1="303.30" x2="32.70" y2="303.30" stroke="#000" stroke-width="0.8" />
<line x1="30.90" y1="306.30" x2="32.70" y2="306.30" stroke="#000" stroke-width="0.8" />
<line x1="30.90" y1="309.30" x2="32.70" y2="309.30" stroke="#000" stroke-width="0.8" />
<line x1="30.90" y1="294.30" x2="32.70" y2="294.30" stroke="#000" stroke-width="0.8" />
<line x1="30.90" y1="297.30" x2="32.70" y2="297.30" stroke="#000" stroke-width="0.8" />
<text x="44.30" y="319.20" font-size="4.6" font-weight="bold" text-anchor="middle" fill="#111"  stroke="#111" stroke-width="0.25">0</text>
<text x="53.50" y="319.20" font-size="4.6" font-weight="bold" text-anchor="middle" fill="#111"  stroke="#111" stroke-width="0.25">10<tspan dy="-1.6" font-size="3.2">2</tspan></text>
<text x="78.00" y="319.20" font-size="4.6" font-weight="bold" text-anchor="middle" fill="#111"  stroke="#111" stroke-width="0.25">10<tspan dy="-1.6" font-size="3.2">3</tspan></text>
<text x="100.70" y="319.20" font-size="4.6" font-weight="bold" text-anchor="middle" fill="#111"  stroke="#111" stroke-width="0.25">10<tspan dy="-1.6" font-size="3.2">4</tspan></text>
<text x="122.00" y="319.20" font-size="4.6" font-weight="bold" text-anchor="middle" fill="#111"  stroke="#111" stroke-width="0.25">10<tspan dy="-1.6" font-size="3.2">5</tspan></text>
<text x="29.30" y="226.40" font-size="4.6" font-weight="bold" text-anchor="end" fill="#111"  stroke="#111" stroke-width="0.25">10<tspan dy="-1.6" font-size="3.2">5</tspan></text>
<text x="29.30" y="246.90" font-size="4.6" font-weight="bold" text-anchor="end" fill="#111"  stroke="#111" stroke-width="0.25">10<tspan dy="-1.6" font-size="3.2">4</tspan></text>
<text x="29.30" y="269.90" font-size="4.6" font-weight="bold" text-anchor="end" fill="#111"  stroke="#111" stroke-width="0.25">10<tspan dy="-1.6" font-size="3.2">3</tspan></text>
<text x="29.30" y="291.10" font-size="4.6" font-weight="bold" text-anchor="end" fill="#111"  stroke="#111" stroke-width="0.25">10<tspan dy="-1.6" font-size="3.2">2</tspan></text>
<text x="29.30" y="301.90" font-size="4.6" font-weight="bold" text-anchor="end" fill="#111"  stroke="#111" stroke-width="0.25">0</text>
<text x="36.00" y="224.70" font-size="9.5" font-weight="normal" text-anchor="start" fill="#666"  stroke="#666" stroke-width="0.38">20.1(T)</text>
<text x="127.00" y="224.70" font-size="9.5" font-weight="normal" text-anchor="end" fill="#666"  stroke="#666" stroke-width="0.38">59.5 (B)</text>
<text x="36.00" y="307.40" font-size="9.5" font-weight="normal" text-anchor="start" fill="#666"  stroke="#666" stroke-width="0.38">0.633</text>
<text x="127.00" y="307.40" font-size="9.5" font-weight="normal" text-anchor="end" fill="#666"  stroke="#666" stroke-width="0.38">19.8 (M)</text>
<clipPath id="clipR"><rect x="152.0" y="214.3" width="95.19999999999999" height="96.30000000000001"/></clipPath>
<g clip-path="url(#clipR)">
<path d="M177.5,235.4h0.6M174.7,238.0h0.6M159.6,233.7h0.6M171.8,228.8h0.6M171.2,234.8h0.6M158.8,239.3h0.6M159.1,231.9h0.6M173.0,232.7h0.6M171.8,239.6h0.6M152.4,239.0h0.6M162.9,240.5h0.6M165.3,243.8h0.6M170.1,242.0h0.6M170.8,236.1h0.6M169.9,237.8h0.6M158.2,238.3h0.6M164.0,230.9h0.6M171.0,238.0h0.6M169.9,233.5h0.6M175.2,237.6h0.6M164.3,234.1h0.6M165.1,231.7h0.6M180.2,233.9h0.6M185.5,235.2h0.6M155.4,240.1h0.6M167.5,245.3h0.6M174.9,241.3h0.6M167.8,230.6h0.6M168.2,228.4h0.6M159.8,234.5h0.6M167.7,242.9h0.6M167.4,234.9h0.6M156.7,237.4h0.6M161.4,237.7h0.6M176.2,234.4h0.6M162.9,241.1h0.6M167.0,238.2h0.6M166.8,236.3h0.6M177.7,236.9h0.6M179.1,240.3h0.6M186.6,240.5h0.6M173.1,239.2h0.6M158.4,239.1h0.6M169.2,238.2h0.6M163.8,234.9h0.6M176.2,240.2h0.6M167.5,235.5h0.6M167.3,239.0h0.6M170.4,235.5h0.6M158.2,232.5h0.6M166.2,241.8h0.6M157.7,235.2h0.6M161.7,238.5h0.6M165.9,237.2h0.6M171.0,242.6h0.6M181.7,238.0h0.6M171.4,234.0h0.6M167.7,232.7h0.6M168.6,232.4h0.6M174.7,238.9h0.6M161.2,239.3h0.6M178.7,236.7h0.6M166.4,239.3h0.6M178.2,242.1h0.6M170.2,231.2h0.6M170.2,236.0h0.6M168.6,240.0h0.6M177.9,231.5h0.6M166.2,227.6h0.6M158.3,233.2h0.6M175.3,231.5h0.6M161.7,231.1h0.6M168.3,232.9h0.6M184.2,237.3h0.6M161.8,234.5h0.6M172.8,235.8h0.6M156.3,236.3h0.6M165.5,239.8h0.6M162.8,234.8h0.6M165.5,235.2h0.6M174.8,237.6h0.6M174.2,245.4h0.6M179.5,232.6h0.6M156.6,238.9h0.6M177.2,230.4h0.6M167.9,243.4h0.6M172.0,236.7h0.6M176.2,235.4h0.6M173.9,235.1h0.6M163.5,238.0h0.6M167.8,235.2h0.6M161.6,235.1h0.6M160.7,232.3h0.6M170.6,242.1h0.6M177.7,239.5h0.6M182.3,233.9h0.6M156.3,231.9h0.6M160.8,237.7h0.6M186.0,244.5h0.6M155.5,236.9h0.6M166.7,233.3h0.6M174.6,231.5h0.6M173.7,232.7h0.6M171.3,231.0h0.6M166.2,238.2h0.6M159.7,236.6h0.6M165.2,237.4h0.6M162.5,239.5h0.6M160.1,230.1h0.6M171.4,244.8h0.6M166.6,248.8h0.6M172.3,253.5h0.6M156.6,234.0h0.6M161.2,253.5h0.6M162.4,250.5h0.6M181.7,238.4h0.6M172.1,237.5h0.6M156.9,243.6h0.6M169.7,227.7h0.6M162.5,226.1h0.6M163.4,232.9h0.6M169.3,226.2h0.6M158.8,239.4h0.6M175.2,242.6h0.6M173.2,244.7h0.6M162.3,235.7h0.6M160.1,226.3h0.6M191.3,233.6h0.6M178.8,242.9h0.6M178.5,242.2h0.6M185.4,248.6h0.6M155.1,240.0h0.6M180.0,244.5h0.6M159.1,234.5h0.6M182.3,246.3h0.6M170.1,227.1h0.6M160.0,230.0h0.6M164.5,230.8h0.6M173.1,230.0h0.6M172.6,242.6h0.6M166.9,233.6h0.6M163.3,243.8h0.6M173.8,242.8h0.6M184.8,230.7h0.6M164.1,250.9h0.6M179.7,254.6h0.6M158.9,235.7h0.6M170.9,235.1h0.6M168.4,236.6h0.6M177.3,242.9h0.6M160.3,245.1h0.6M181.1,236.3h0.6M170.0,240.1h0.6M171.6,235.2h0.6M177.8,230.3h0.6M174.6,241.4h0.6M171.4,252.1h0.6M182.0,245.2h0.6M162.7,224.3h0.6M166.2,231.2h0.6M178.7,243.9h0.6M164.8,239.5h0.6M178.2,250.8h0.6M172.8,225.6h0.6M184.2,237.6h0.6M170.1,238.9h0.6M162.4,229.0h0.6M164.5,252.0h0.6M178.1,243.6h0.6M173.3,243.9h0.6M183.9,239.7h0.6M172.7,253.5h0.6M171.3,236.1h0.6M180.9,233.2h0.6M173.4,241.2h0.6M171.4,246.0h0.6M176.6,247.9h0.6M154.6,242.4h0.6M157.6,238.4h0.6M179.6,245.5h0.6M168.7,240.8h0.6M165.4,230.0h0.6M194.6,249.8h0.6M184.2,234.6h0.6M167.1,236.3h0.6M166.8,234.2h0.6M160.4,236.9h0.6M158.3,236.1h0.6M165.9,250.8h0.6M183.6,234.4h0.6M168.3,226.8h0.6M165.4,249.5h0.6M169.5,233.6h0.6M160.5,242.6h0.6M181.8,244.2h0.6M174.9,252.4h0.6M160.8,226.6h0.6M167.4,241.5h0.6M187.9,227.7h0.6M174.5,255.8h0.6M166.4,245.3h0.6M184.6,246.7h0.6M164.0,244.7h0.6M174.1,245.1h0.6M186.5,227.1h0.6M154.8,237.0h0.6M156.5,232.9h0.6M166.2,242.7h0.6M176.9,252.8h0.6M178.0,244.1h0.6M199.2,244.2h0.6M178.0,258.0h0.6M169.0,232.6h0.6M166.8,242.5h0.6M173.6,230.3h0.6M169.9,240.7h0.6M167.6,237.8h0.6M158.4,233.6h0.6M174.4,229.4h0.6M173.7,237.5h0.6M181.0,250.4h0.6M165.5,232.2h0.6M154.9,230.7h0.6M185.0,247.8h0.6M178.0,229.6h0.6M185.4,240.7h0.6M179.8,233.2h0.6M161.8,237.6h0.6M166.7,241.0h0.6M186.7,226.9h0.6M162.5,231.7h0.6M171.1,234.7h0.6M181.7,227.6h0.6M181.1,227.4h0.6M154.1,218.3h0.6M156.3,228.8h0.6M181.3,231.9h0.6M157.6,228.0h0.6M158.2,251.7h0.6M154.7,242.4h0.6M175.6,231.0h0.6M202.7,237.0h0.6M178.7,243.9h0.6M182.8,243.0h0.6M180.8,247.7h0.6M170.3,231.0h0.6M175.4,240.3h0.6M170.6,245.4h0.6M193.7,245.5h0.6M176.9,240.4h0.6M175.2,240.3h0.6M191.1,256.1h0.6M181.0,233.8h0.6M184.3,245.0h0.6M177.8,251.6h0.6M181.1,245.2h0.6M198.0,244.1h0.6M182.4,238.9h0.6M174.9,251.4h0.6M184.0,238.5h0.6M177.1,230.6h0.6M171.1,253.6h0.6M175.4,243.9h0.6M185.9,242.0h0.6M166.3,232.0h0.6M179.5,237.7h0.6M168.6,236.2h0.6M193.8,236.9h0.6M192.2,237.3h0.6M183.3,239.0h0.6M175.2,243.5h0.6M174.2,240.2h0.6M169.8,232.7h0.6M162.3,245.8h0.6M174.7,236.1h0.6M167.0,245.4h0.6M193.0,249.7h0.6M187.1,250.4h0.6M174.6,240.5h0.6M179.2,241.4h0.6M178.2,245.1h0.6M192.1,245.2h0.6M172.4,258.4h0.6M171.4,237.3h0.6M182.6,242.5h0.6M181.2,243.3h0.6M172.4,248.9h0.6M188.4,230.2h0.6M185.2,234.7h0.6M174.5,250.0h0.6M179.7,237.4h0.6M173.6,241.0h0.6M170.0,229.9h0.6M158.9,240.0h0.6M166.7,238.1h0.6M184.1,236.7h0.6M176.9,236.0h0.6M195.0,240.0h0.6M177.7,237.4h0.6M178.4,242.6h0.6M175.3,249.1h0.6M182.9,233.2h0.6M195.9,237.9h0.6M188.0,245.8h0.6M172.1,247.7h0.6M180.2,223.9h0.6M178.3,238.2h0.6M172.8,233.8h0.6M178.8,219.3h0.6M152.8,245.2h0.6M187.2,251.0h0.6M166.6,240.0h0.6M186.5,240.2h0.6M165.7,245.1h0.6M190.1,243.1h0.6M187.4,241.2h0.6M193.8,245.0h0.6M180.4,234.1h0.6M181.4,233.8h0.6M181.8,240.5h0.6M156.6,233.1h0.6M169.6,237.4h0.6M165.2,242.6h0.6M194.1,239.9h0.6M176.9,239.4h0.6M165.3,237.8h0.6M165.4,232.4h0.6M172.8,236.4h0.6M184.1,233.6h0.6M178.1,239.6h0.6M175.2,242.0h0.6M178.4,246.1h0.6M173.3,232.4h0.6M192.5,236.0h0.6M191.6,235.4h0.6M203.5,240.4h0.6M188.1,245.5h0.6M193.5,243.1h0.6M194.2,244.5h0.6M161.2,225.3h0.6M192.6,237.8h0.6M180.1,239.3h0.6M220.2,243.9h0.6M195.7,243.6h0.6M191.4,236.0h0.6M175.8,236.0h0.6M207.7,248.9h0.6M182.0,241.9h0.6M206.4,239.2h0.6M191.1,237.6h0.6M195.1,242.4h0.6M177.5,243.7h0.6M197.2,246.4h0.6M190.9,240.5h0.6M188.3,237.5h0.6M205.2,250.2h0.6M199.2,239.7h0.6M179.8,241.2h0.6M170.4,246.0h0.6M231.1,243.2h0.6M180.8,237.4h0.6M218.3,245.6h0.6M197.4,244.5h0.6M184.8,241.5h0.6M197.7,238.4h0.6M192.0,248.6h0.6M178.8,241.9h0.6M186.7,236.0h0.6M204.5,239.9h0.6M185.0,243.6h0.6M183.3,249.7h0.6M189.7,238.7h0.6M191.2,237.8h0.6M195.8,247.2h0.6M188.7,236.8h0.6M180.5,237.3h0.6M190.3,239.8h0.6M159.9,244.6h0.6M194.7,240.1h0.6M217.5,236.7h0.6M173.1,249.5h0.6M192.5,242.9h0.6M189.4,235.7h0.6M212.2,237.9h0.6M215.2,248.7h0.6M227.3,246.5h0.6M222.0,247.5h0.6M184.9,238.9h0.6M212.9,241.4h0.6M186.7,237.8h0.6M195.0,237.7h0.6M198.4,236.7h0.6M186.5,242.1h0.6M188.1,244.6h0.6M197.0,239.7h0.6M178.6,233.4h0.6M233.9,249.9h0.6M197.5,242.4h0.6M199.0,242.7h0.6M200.3,236.5h0.6M207.3,242.7h0.6M199.3,244.9h0.6M215.3,247.8h0.6M189.2,237.2h0.6M222.0,243.4h0.6M189.5,246.7h0.6M210.4,247.9h0.6M221.1,234.0h0.6M217.7,241.4h0.6M217.6,246.1h0.6M211.3,251.9h0.6M217.8,239.9h0.6M212.1,245.6h0.6M222.4,245.5h0.6M212.3,244.8h0.6M209.6,237.3h0.6M216.4,236.2h0.6M215.9,241.6h0.6M216.4,239.7h0.6M214.5,243.2h0.6M224.4,240.8h0.6M221.8,236.3h0.6M215.7,245.3h0.6M222.0,240.0h0.6M221.9,239.9h0.6M217.2,240.5h0.6M210.2,253.5h0.6M214.3,249.2h0.6M216.8,244.7h0.6M213.3,241.6h0.6M216.0,244.4h0.6M219.5,239.4h0.6M217.0,243.0h0.6M214.6,244.1h0.6M216.5,246.3h0.6M224.7,240.6h0.6M217.0,243.7h0.6M213.8,241.2h0.6M205.0,248.8h0.6M216.3,247.1h0.6M211.7,238.7h0.6M212.8,243.5h0.6M215.5,240.2h0.6M218.0,239.3h0.6M214.7,241.1h0.6M216.9,239.9h0.6M217.9,242.7h0.6M217.7,242.5h0.6M222.3,240.2h0.6M221.7,234.6h0.6M218.2,243.7h0.6M220.6,227.9h0.6M213.4,244.6h0.6M214.5,232.4h0.6M218.5,246.4h0.6M218.6,240.4h0.6M220.3,234.6h0.6M219.5,234.0h0.6M220.5,241.3h0.6M208.1,244.9h0.6M209.7,237.6h0.6M213.3,245.8h0.6M214.6,237.5h0.6M219.4,244.5h0.6M214.2,245.8h0.6M212.9,247.0h0.6M218.1,244.1h0.6M210.9,240.9h0.6M227.6,245.4h0.6M210.3,242.0h0.6M220.2,232.8h0.6M220.8,243.7h0.6M211.4,247.3h0.6M214.1,241.7h0.6M217.5,243.0h0.6M209.4,241.3h0.6M220.2,241.2h0.6M217.9,247.3h0.6M222.1,240.7h0.6M223.9,239.4h0.6M213.7,245.9h0.6M216.4,243.5h0.6M216.0,249.7h0.6M219.6,239.7h0.6M214.3,246.1h0.6M224.4,243.5h0.6M216.3,242.8h0.6M220.3,232.8h0.6M213.1,241.7h0.6M217.2,241.3h0.6M212.4,243.6h0.6M218.4,238.7h0.6M219.9,243.3h0.6M202.3,254.9h0.6M207.2,244.6h0.6M224.9,243.6h0.6M225.9,236.4h0.6M217.3,241.9h0.6M212.0,256.6h0.6M208.5,245.2h0.6M217.6,248.7h0.6M216.7,246.1h0.6M221.0,241.9h0.6M215.1,237.9h0.6M220.2,232.8h0.6M208.8,245.6h0.6M201.0,250.9h0.6M218.5,239.7h0.6M213.6,245.4h0.6M219.5,238.4h0.6M209.3,251.0h0.6M208.5,247.4h0.6M215.4,241.3h0.6M221.1,239.3h0.6M212.9,247.7h0.6M214.4,245.4h0.6M207.9,252.8h0.6M222.2,239.3h0.6M222.4,226.6h0.6M216.9,243.2h0.6M209.7,242.9h0.6M217.3,237.6h0.6M214.7,248.5h0.6M215.0,244.4h0.6M214.7,238.5h0.6M226.3,239.1h0.6M222.6,240.7h0.6M210.7,249.1h0.6M211.6,239.9h0.6M215.8,235.0h0.6M213.4,249.7h0.6M209.7,246.2h0.6M230.1,238.8h0.6M219.6,239.5h0.6M231.1,234.9h0.6M218.0,242.3h0.6M209.2,245.2h0.6M215.6,240.8h0.6M216.2,242.6h0.6M219.8,234.9h0.6M215.2,237.8h0.6M220.7,245.2h0.6M207.5,235.3h0.6M211.5,245.4h0.6M217.4,246.9h0.6M212.8,251.6h0.6M225.8,232.0h0.6M218.5,243.6h0.6M215.6,231.1h0.6M225.5,241.2h0.6M218.3,248.3h0.6M214.5,248.1h0.6M217.9,250.1h0.6M224.5,237.9h0.6M210.3,246.6h0.6M223.0,235.5h0.6M214.5,251.1h0.6M216.6,245.5h0.6M218.9,244.8h0.6M223.1,235.5h0.6M206.1,251.1h0.6M222.4,240.5h0.6M206.9,248.0h0.6M222.2,240.2h0.6M212.8,253.7h0.6M223.9,247.2h0.6M226.8,238.0h0.6M221.9,244.1h0.6M217.3,234.1h0.6M231.2,241.4h0.6M218.2,241.8h0.6M223.4,241.9h0.6M209.1,242.1h0.6M223.5,232.2h0.6M216.7,247.0h0.6M216.1,240.5h0.6M217.6,246.2h0.6M213.8,236.0h0.6M221.8,238.0h0.6M211.5,243.6h0.6M230.1,235.8h0.6M218.4,239.0h0.6M211.8,243.7h0.6M213.1,242.6h0.6M220.5,245.7h0.6M205.3,252.1h0.6M217.8,248.7h0.6M219.0,236.1h0.6M210.0,250.8h0.6M216.2,244.8h0.6M222.7,238.4h0.6M214.4,240.6h0.6M212.3,252.3h0.6M211.5,248.7h0.6M217.2,242.3h0.6M224.2,255.8h0.6M212.0,247.3h0.6M216.0,241.6h0.6M221.6,240.6h0.6M216.2,248.5h0.6M216.3,246.1h0.6M220.8,253.0h0.6M223.5,236.7h0.6M209.4,242.7h0.6M229.7,232.6h0.6M220.1,255.5h0.6M214.1,234.7h0.6M201.1,256.2h0.6M219.6,237.5h0.6M199.8,237.4h0.6M211.7,242.6h0.6M215.2,242.7h0.6M217.6,241.9h0.6M219.0,245.9h0.6M211.6,240.0h0.6M203.0,249.9h0.6M219.1,237.3h0.6M211.4,257.5h0.6M204.2,253.5h0.6M202.1,254.9h0.6M207.6,248.2h0.6M210.4,245.5h0.6M211.2,259.5h0.6M213.3,235.7h0.6M217.2,237.4h0.6M208.0,243.6h0.6M205.8,254.4h0.6M228.0,241.8h0.6M203.7,246.3h0.6M221.1,234.5h0.6M218.1,239.2h0.6M217.3,245.8h0.6M220.4,234.7h0.6M209.8,239.4h0.6M219.7,246.6h0.6M230.3,235.0h0.6M218.4,240.4h0.6M220.0,244.1h0.6M202.7,242.4h0.6M211.4,250.8h0.6M217.3,234.3h0.6M216.7,243.8h0.6M218.4,252.1h0.6M216.5,243.1h0.6M224.5,229.0h0.6M218.4,234.9h0.6M199.3,249.8h0.6M223.5,244.8h0.6M214.3,249.9h0.6M211.5,242.1h0.6M195.6,258.4h0.6M215.2,253.6h0.6M209.2,234.0h0.6M205.8,247.7h0.6M228.5,232.5h0.6M206.2,241.3h0.6M220.6,246.7h0.6M230.3,226.6h0.6M210.6,248.2h0.6M213.9,227.2h0.6M211.6,242.5h0.6M223.9,231.9h0.6M218.0,237.4h0.6M222.4,239.5h0.6M225.3,239.2h0.6M212.3,245.2h0.6M213.0,242.6h0.6M221.9,237.9h0.6M216.3,240.1h0.6M226.0,237.2h0.6M210.0,252.4h0.6M226.1,237.7h0.6M209.7,239.2h0.6M217.0,248.4h0.6M216.5,248.7h0.6M210.1,250.4h0.6M214.8,229.7h0.6M210.5,244.5h0.6M219.3,236.2h0.6M216.0,236.3h0.6M221.2,240.3h0.6M216.9,244.9h0.6M206.0,231.6h0.6M214.3,255.9h0.6M198.6,262.7h0.6M212.5,238.3h0.6M225.0,235.6h0.6M211.5,251.8h0.6M215.0,247.1h0.6M210.9,245.8h0.6M207.9,240.1h0.6M199.7,258.5h0.6M221.9,241.3h0.6M206.2,250.5h0.6M213.4,253.6h0.6M192.5,265.3h0.6M216.9,241.9h0.6M211.2,247.3h0.6M232.7,230.1h0.6M226.8,230.1h0.6M228.1,226.8h0.6M229.2,228.0h0.6M231.8,231.2h0.6M230.4,229.1h0.6M232.0,229.9h0.6M232.4,225.0h0.6M227.8,228.5h0.6M229.4,232.3h0.6M227.6,230.9h0.6M241.7,222.0h0.6M236.0,226.0h0.6M230.3,229.2h0.6M223.3,237.5h0.6M238.8,226.9h0.6M229.9,229.1h0.6M224.1,237.2h0.6M227.1,236.0h0.6M221.6,232.6h0.6M233.6,228.8h0.6M227.0,231.5h0.6M230.5,229.8h0.6M236.9,229.6h0.6M231.3,228.7h0.6M232.8,229.5h0.6M231.3,226.4h0.6M226.9,230.3h0.6M230.0,232.5h0.6M233.5,228.7h0.6M231.0,229.2h0.6M228.4,232.3h0.6M227.9,229.8h0.6M231.2,223.3h0.6M230.9,231.9h0.6M239.1,226.2h0.6M228.3,232.1h0.6M235.9,226.4h0.6M227.3,227.7h0.6M223.2,234.5h0.6M229.2,232.5h0.6M223.4,238.0h0.6M228.8,230.5h0.6M230.4,230.6h0.6M226.0,242.4h0.6M219.9,236.9h0.6M224.0,234.4h0.6M218.6,232.9h0.6M227.2,233.8h0.6M224.7,238.6h0.6M223.9,234.1h0.6M220.5,238.1h0.6M223.7,242.4h0.6M223.4,230.7h0.6M215.1,244.2h0.6M223.9,236.6h0.6M223.5,238.3h0.6M222.7,234.1h0.6M222.1,233.7h0.6M219.2,238.2h0.6M223.9,240.3h0.6M222.2,237.6h0.6M227.6,227.0h0.6M229.3,233.9h0.6M220.7,241.9h0.6M231.3,225.0h0.6M231.5,229.1h0.6M224.3,236.4h0.6M229.3,230.6h0.6M227.9,231.1h0.6M230.1,232.6h0.6M226.9,235.3h0.6M227.3,235.4h0.6M221.6,236.8h0.6M226.6,235.9h0.6M225.3,231.1h0.6M225.0,232.2h0.6M220.0,244.7h0.6M217.6,239.8h0.6M221.8,235.9h0.6M228.4,229.8h0.6M222.8,235.8h0.6M225.9,236.2h0.6M225.7,235.4h0.6M230.3,235.0h0.6M227.9,230.3h0.6M227.8,227.9h0.6M221.7,239.2h0.6M214.0,238.1h0.6M226.2,232.0h0.6M224.7,229.6h0.6M230.4,234.4h0.6M217.0,240.3h0.6M192.6,259.8h0.6M202.1,243.5h0.6M207.7,248.6h0.6M205.8,250.9h0.6M195.1,237.9h0.6M195.7,247.8h0.6M196.7,257.7h0.6M205.4,250.5h0.6M210.9,249.1h0.6M203.5,249.8h0.6M203.0,240.7h0.6M203.6,247.2h0.6M199.0,242.1h0.6M203.0,236.9h0.6M205.1,248.8h0.6M206.0,249.5h0.6M220.1,255.8h0.6M209.4,251.1h0.6M207.5,245.7h0.6M216.8,258.8h0.6M200.3,244.4h0.6M205.6,250.0h0.6M201.6,255.3h0.6M212.0,251.9h0.6M205.7,245.9h0.6M203.7,256.5h0.6M191.3,255.1h0.6M201.9,242.6h0.6M207.0,251.6h0.6M203.4,247.5h0.6M210.9,256.6h0.6M204.0,242.0h0.6M204.9,249.5h0.6M189.7,254.7h0.6M200.9,257.8h0.6M214.1,240.3h0.6M207.8,250.4h0.6M208.0,254.7h0.6M194.5,252.2h0.6M214.1,240.9h0.6M204.2,248.3h0.6M191.0,241.3h0.6M200.7,241.2h0.6M218.3,255.4h0.6M221.3,240.2h0.6M194.1,245.3h0.6M202.2,252.2h0.6M201.6,258.6h0.6M213.1,247.6h0.6M204.0,248.0h0.6M222.2,238.9h0.6M201.3,261.8h0.6M212.2,251.0h0.6M196.2,260.2h0.6M200.1,248.4h0.6M203.2,256.0h0.6M209.3,245.0h0.6M204.8,239.2h0.6M207.1,253.0h0.6M205.6,254.5h0.6M201.0,247.3h0.6M198.5,243.9h0.6M204.6,244.0h0.6M210.7,255.3h0.6M208.4,248.6h0.6M205.5,240.8h0.6M202.6,242.8h0.6M214.1,259.3h0.6M222.3,245.0h0.6M204.4,254.7h0.6M200.4,253.4h0.6M205.1,254.5h0.6M211.8,256.4h0.6M211.6,255.2h0.6M202.0,249.8h0.6M201.2,254.0h0.6M207.0,251.6h0.6M207.4,253.1h0.6M212.3,261.3h0.6M201.6,254.0h0.6M199.8,254.6h0.6M201.1,257.5h0.6M203.0,256.9h0.6M199.8,256.1h0.6M203.4,255.8h0.6M196.6,255.0h0.6M204.6,255.2h0.6M204.5,256.2h0.6M212.6,258.2h0.6M195.7,255.9h0.6M207.8,256.4h0.6M206.9,259.6h0.6M209.3,252.2h0.6M194.3,254.3h0.6M196.1,257.9h0.6M208.0,252.4h0.6M210.0,257.8h0.6M201.3,259.2h0.6M200.9,260.1h0.6M201.5,255.1h0.6M206.2,260.1h0.6M203.2,254.3h0.6M206.6,252.5h0.6M208.8,253.4h0.6M206.0,258.9h0.6M208.4,260.2h0.6M237.4,298.6h0.6M235.1,284.7h0.6M228.0,281.6h0.6M218.2,290.6h0.6M231.2,269.0h0.6M229.4,284.3h0.6M233.4,282.6h0.6M229.1,266.9h0.6M227.9,291.4h0.6M230.4,299.2h0.6M228.5,291.8h0.6M236.6,280.9h0.6M231.7,283.0h0.6M225.2,271.7h0.6M223.4,259.0h0.6M230.1,305.8h0.6M226.4,295.2h0.6M240.6,272.8h0.6M229.3,268.2h0.6M228.9,279.7h0.6M228.7,276.0h0.6M232.0,285.0h0.6M230.6,277.2h0.6M230.6,268.3h0.6M225.1,287.2h0.6M233.9,266.2h0.6M226.6,280.2h0.6M227.1,294.7h0.6M228.0,304.1h0.6M233.6,281.1h0.6M222.3,270.0h0.6M224.8,300.3h0.6M235.6,265.5h0.6M235.2,307.5h0.6M228.0,282.5h0.6M228.9,276.2h0.6M235.4,290.7h0.6M233.8,280.1h0.6M231.4,298.3h0.6M237.0,269.9h0.6M225.1,278.8h0.6M228.6,262.2h0.6M229.7,281.2h0.6M229.7,295.4h0.6M216.4,274.7h0.6M229.9,287.9h0.6M231.5,270.0h0.6M231.0,289.4h0.6M234.8,278.4h0.6M227.3,285.5h0.6M232.8,286.3h0.6M225.4,282.4h0.6M240.3,264.2h0.6M228.3,300.3h0.6M231.8,292.8h0.6M219.0,287.1h0.6M237.0,281.5h0.6M233.2,276.1h0.6M226.4,278.2h0.6M233.0,260.6h0.6M227.5,298.0h0.6M231.8,284.8h0.6M227.3,297.7h0.6M236.6,274.3h0.6M230.7,303.4h0.6M224.6,277.9h0.6M236.9,284.7h0.6M227.3,268.5h0.6M233.4,291.7h0.6M231.8,292.7h0.6M238.0,287.4h0.6M229.5,294.2h0.6M230.1,240.6h0.6M230.7,283.5h0.6M231.9,279.2h0.6M230.2,284.3h0.6M231.7,274.2h0.6M222.6,282.3h0.6M233.3,286.6h0.6M235.9,271.2h0.6M232.4,295.9h0.6M231.6,302.5h0.6M226.9,284.8h0.6M223.2,277.6h0.6M221.1,297.8h0.6M228.1,285.4h0.6M233.7,303.2h0.6M233.5,273.1h0.6M227.6,289.5h0.6M233.9,298.4h0.6M227.0,297.7h0.6M223.9,265.5h0.6M239.4,268.7h0.6M236.2,281.8h0.6M228.4,269.1h0.6M229.8,279.3h0.6M224.5,273.6h0.6M227.9,285.4h0.6M232.8,292.4h0.6M232.9,291.9h0.6M234.8,295.1h0.6M231.5,288.7h0.6M230.6,282.5h0.6M234.3,274.8h0.6M229.9,274.4h0.6M213.3,287.2h0.6M232.9,265.4h0.6M224.0,265.1h0.6M226.2,262.7h0.6M228.7,272.9h0.6M234.4,276.5h0.6M230.3,263.9h0.6M229.7,287.2h0.6M219.2,281.6h0.6M231.8,284.5h0.6M229.8,264.5h0.6M229.3,293.3h0.6M238.0,282.1h0.6M232.1,284.3h0.6M229.5,277.8h0.6M240.2,253.6h0.6M228.3,290.6h0.6M239.2,275.5h0.6M232.5,294.9h0.6M228.3,265.8h0.6M226.8,277.6h0.6M236.7,282.7h0.6M235.8,260.3h0.6M234.3,287.9h0.6M230.2,289.4h0.6M237.8,291.8h0.6M233.4,283.9h0.6M231.2,286.5h0.6M233.0,292.2h0.6M228.5,265.5h0.6M228.2,289.6h0.6M232.9,304.5h0.6M231.9,254.7h0.6M230.4,265.2h0.6M227.2,270.4h0.6M234.0,285.2h0.6M230.2,284.3h0.6M231.1,302.2h0.6M226.4,287.9h0.6M215.2,306.7h0.6M242.6,291.8h0.6M233.1,285.7h0.6M225.1,263.2h0.6M232.8,278.4h0.6M240.0,284.9h0.6M222.9,266.6h0.6M236.4,290.3h0.6M229.2,290.7h0.6M218.9,301.0h0.6M231.9,277.6h0.6M214.4,269.2h0.6M220.4,288.6h0.6M226.5,284.4h0.6M238.4,280.0h0.6M236.1,276.4h0.6M228.3,282.5h0.6M229.5,287.3h0.6M239.1,293.5h0.6M243.5,276.9h0.6M224.9,293.8h0.6M239.0,242.8h0.6M227.9,275.0h0.6M216.2,263.2h0.6M226.7,244.4h0.6M232.5,264.5h0.6M228.5,286.2h0.6M226.9,280.0h0.6M233.9,246.0h0.6M213.0,299.6h0.6M233.2,275.3h0.6M235.6,307.9h0.6M217.4,296.0h0.6M236.9,297.7h0.6M217.4,278.5h0.6M230.9,304.1h0.6M241.2,280.5h0.6M237.3,292.0h0.6M228.1,261.5h0.6M230.6,306.9h0.6M230.8,295.8h0.6M224.2,306.8h0.6M240.9,302.2h0.6M229.3,295.2h0.6M241.4,268.2h0.6M226.9,281.0h0.6M233.1,248.6h0.6M237.3,299.5h0.6M228.4,310.1h0.6M235.5,298.8h0.6M228.2,251.0h0.6M223.3,279.7h0.6M231.0,275.3h0.6M227.1,273.5h0.6M233.2,288.6h0.6M218.0,279.4h0.6M241.2,298.1h0.6M213.4,280.2h0.6M219.0,294.1h0.6M234.2,258.2h0.6M227.8,257.4h0.6M225.6,297.7h0.6M237.5,271.3h0.6M238.3,291.8h0.6M224.9,271.2h0.6M229.1,282.0h0.6M222.5,290.8h0.6M225.7,291.3h0.6M228.2,265.8h0.6M235.2,286.3h0.6M221.6,259.8h0.6M233.8,293.0h0.6M219.3,280.6h0.6M230.3,293.5h0.6M233.4,273.9h0.6M233.7,310.4h0.6M222.0,278.8h0.6M225.2,274.5h0.6M237.8,300.4h0.6M218.3,253.7h0.6M220.4,297.4h0.6M236.0,255.3h0.6M220.5,285.2h0.6M239.1,280.2h0.6M231.5,293.6h0.6M222.3,303.1h0.6M234.8,251.5h0.6M219.3,302.4h0.6M232.9,289.8h0.6M222.1,283.5h0.6M220.3,262.9h0.6M227.5,269.5h0.6M230.8,293.0h0.6M235.9,267.4h0.6M211.5,266.4h0.6M231.5,287.6h0.6M234.3,287.1h0.6M208.0,270.3h0.6M235.9,284.9h0.6M237.3,282.9h0.6M232.3,265.4h0.6M227.3,234.6h0.6M228.5,294.5h0.6M215.6,281.0h0.6M230.2,292.7h0.6M239.2,305.2h0.6M224.6,297.1h0.6M215.5,295.6h0.6M223.0,276.2h0.6M221.1,288.6h0.6M230.6,265.1h0.6M233.4,291.1h0.6M226.8,286.6h0.6M226.5,285.6h0.6M211.1,272.1h0.6M241.5,279.4h0.6M226.4,268.4h0.6M213.3,300.3h0.6M219.9,264.5h0.6M223.3,274.8h0.6M214.7,276.8h0.6M219.5,270.0h0.6M239.4,267.2h0.6M221.0,293.4h0.6M222.6,268.0h0.6M228.9,295.9h0.6M229.7,264.0h0.6M231.8,263.8h0.6M217.5,301.6h0.6M225.1,286.3h0.6M233.5,287.2h0.6M229.9,304.5h0.6M232.2,285.1h0.6M223.1,290.3h0.6M231.6,304.0h0.6M225.8,282.8h0.6M217.6,288.1h0.6M209.8,270.9h0.6M233.1,261.9h0.6M212.4,288.2h0.6M223.8,259.5h0.6M219.6,299.5h0.6M227.6,272.8h0.6M239.1,281.2h0.6M225.0,277.1h0.6M237.9,292.4h0.6M221.4,290.2h0.6M234.4,278.5h0.6M224.2,284.4h0.6M234.5,276.4h0.6M224.6,281.2h0.6M231.6,295.3h0.6M230.2,265.0h0.6M225.8,308.2h0.6M224.4,287.2h0.6M228.3,277.0h0.6M213.4,287.4h0.6M237.3,281.0h0.6M223.8,280.7h0.6M239.8,251.2h0.6M220.0,288.3h0.6M236.1,276.1h0.6M227.5,292.8h0.6M234.6,289.9h0.6M230.8,278.2h0.6M236.0,272.7h0.6M213.5,286.7h0.6M224.6,280.5h0.6M222.6,279.6h0.6M225.4,282.6h0.6M226.1,286.3h0.6M230.5,296.1h0.6M195.9,269.0h0.6M226.5,274.3h0.6M240.2,294.8h0.6M239.6,235.8h0.6M220.2,303.4h0.6M212.7,280.1h0.6M223.3,285.0h0.6M235.4,301.9h0.6M225.6,289.9h0.6M235.1,304.2h0.6M220.0,278.0h0.6M220.5,271.5h0.6M241.1,269.9h0.6M232.2,263.6h0.6M206.7,284.6h0.6M214.1,267.8h0.6M232.7,302.0h0.6M229.2,258.7h0.6M218.1,291.9h0.6M227.8,283.0h0.6M232.7,270.8h0.6M205.4,268.9h0.6M219.2,269.0h0.6M212.1,295.6h0.6M225.4,267.1h0.6M220.7,310.4h0.6M235.7,285.6h0.6M228.0,296.3h0.6M238.4,280.6h0.6M226.1,292.3h0.6M235.7,292.0h0.6M237.5,270.2h0.6M238.5,286.7h0.6M233.4,307.4h0.6M226.7,286.7h0.6M225.4,297.6h0.6M229.0,309.7h0.6M212.1,277.5h0.6M236.3,306.0h0.6M193.6,288.1h0.6M224.1,286.3h0.6M207.1,285.8h0.6M213.2,274.5h0.6M224.6,275.5h0.6M230.4,263.1h0.6M206.9,250.5h0.6M222.3,289.8h0.6M226.8,279.7h0.6M226.4,284.3h0.6M217.8,306.8h0.6M209.2,290.7h0.6M232.6,264.7h0.6M220.1,270.0h0.6M217.8,274.4h0.6M231.2,279.2h0.6M215.9,278.8h0.6M206.2,305.3h0.6M234.9,300.4h0.6M219.2,283.5h0.6M224.4,284.6h0.6M240.1,288.5h0.6M229.7,286.6h0.6M200.0,295.2h0.6M216.5,282.5h0.6M205.2,265.1h0.6M243.9,264.1h0.6M209.8,272.9h0.6M222.3,279.9h0.6M225.5,263.2h0.6M227.1,276.9h0.6M213.4,290.9h0.6M223.5,288.9h0.6M220.0,271.5h0.6M205.5,266.0h0.6M238.4,271.4h0.6M220.2,271.2h0.6M209.8,275.9h0.6M224.7,279.9h0.6M228.1,275.1h0.6M237.3,275.6h0.6M218.0,279.4h0.6M216.2,264.8h0.6M241.3,299.5h0.6M230.7,296.6h0.6M194.0,289.2h0.6M241.6,274.0h0.6M224.8,275.4h0.6M213.8,278.5h0.6M208.6,283.6h0.6M206.1,303.7h0.6M213.4,289.8h0.6M214.1,282.1h0.6M223.5,287.9h0.6M212.9,306.0h0.6M201.9,289.9h0.6M233.3,295.2h0.6M225.5,271.6h0.6M241.0,289.0h0.6M228.6,297.6h0.6M209.2,268.4h0.6M229.4,280.6h0.6M218.0,280.3h0.6M209.1,265.9h0.6M217.6,265.0h0.6M224.4,269.2h0.6M198.4,287.8h0.6M219.9,275.2h0.6M213.9,293.7h0.6M218.6,278.5h0.6M205.4,286.7h0.6M239.5,295.1h0.6M227.6,286.7h0.6M223.9,262.7h0.6M222.8,273.2h0.6M201.6,269.0h0.6M222.5,274.1h0.6M220.8,304.2h0.6M227.6,291.1h0.6M222.5,279.9h0.6M215.3,274.3h0.6M219.6,269.0h0.6M240.5,291.6h0.6M219.8,295.2h0.6M210.5,291.5h0.6M224.9,293.3h0.6M231.5,265.0h0.6M227.7,299.1h0.6M227.8,301.6h0.6M239.0,285.5h0.6M223.9,292.8h0.6M231.9,309.2h0.6M204.6,287.0h0.6M240.5,300.9h0.6M207.4,304.4h0.6M222.2,294.8h0.6M244.7,276.9h0.6M226.7,267.4h0.6M208.1,254.8h0.6M224.2,297.4h0.6M224.0,295.2h0.6M202.3,252.2h0.6M232.5,258.7h0.6M192.7,295.5h0.6M234.5,280.2h0.6M242.8,285.9h0.6M223.7,303.3h0.6M227.3,283.0h0.6M245.9,287.1h0.6M229.7,302.4h0.6M235.7,281.2h0.6M228.3,287.6h0.6M206.6,291.1h0.6M218.7,258.0h0.6M222.2,293.9h0.6M208.8,302.5h0.6M215.1,302.3h0.6M222.6,290.9h0.6M223.2,283.9h0.6M218.6,297.2h0.6M215.7,287.4h0.6M197.7,301.3h0.6M202.9,290.1h0.6M232.9,307.6h0.6M223.1,269.0h0.6M228.8,295.0h0.6M228.8,297.2h0.6M234.2,284.5h0.6M232.8,289.8h0.6M202.9,292.6h0.6M230.2,285.5h0.6M237.4,276.7h0.6M247.1,286.9h0.6M230.3,256.5h0.6M184.5,225.3h0.6M193.6,226.7h0.6M156.3,220.0h0.6M200.9,298.2h0.6M242.5,277.0h0.6M152.2,261.2h0.6M189.5,262.6h0.6M207.3,265.6h0.6M237.0,220.8h0.6M163.4,240.2h0.6M232.5,230.8h0.6M235.6,255.2h0.6M219.2,272.0h0.6M159.1,301.6h0.6M204.0,295.9h0.6M167.3,217.7h0.6M200.6,291.5h0.6M192.7,301.5h0.6M228.4,310.1h0.6M204.2,305.4h0.6M222.0,282.5h0.6M179.8,256.9h0.6M228.0,270.6h0.6M232.8,216.3h0.6M238.2,278.2h0.6M156.3,285.6h0.6M226.6,277.5h0.6M188.5,249.0h0.6M221.5,240.5h0.6M206.0,234.1h0.6M196.6,290.5h0.6M166.1,224.8h0.6M223.7,280.4h0.6M228.9,303.0h0.6M232.5,305.3h0.6M187.6,240.6h0.6M171.9,295.5h0.6M193.2,282.1h0.6M246.8,298.0h0.6M178.2,226.8h0.6M171.0,301.6h0.6M216.0,266.9h0.6M163.0,231.2h0.6M179.6,287.6h0.6M194.1,281.2h0.6M174.9,214.8h0.6M212.1,253.8h0.6M191.6,247.7h0.6M171.6,296.4h0.6M198.4,280.5h0.6M167.3,238.0h0.6M165.7,253.1h0.6M195.5,248.8h0.6M182.2,253.0h0.6M214.5,294.9h0.6M199.8,238.9h0.6M191.5,279.7h0.6M196.7,272.5h0.6M243.9,309.8h0.6M164.7,262.8h0.6M183.7,308.6h0.6M162.5,243.2h0.6M184.4,280.6h0.6M201.0,290.0h0.6M229.2,305.8h0.6M200.3,256.1h0.6M153.7,254.4h0.6M235.3,259.6h0.6M224.1,278.4h0.6M204.1,260.8h0.6M236.9,305.1h0.6M211.8,308.3h0.6M158.4,254.5h0.6M244.9,261.6h0.6M246.4,277.7h0.6M166.3,268.5h0.6M215.7,217.1h0.6M227.7,290.0h0.6M222.1,301.0h0.6M171.0,227.6h0.6M194.0,285.3h0.6M193.2,270.2h0.6M235.8,292.8h0.6M225.5,240.7h0.6M226.8,293.0h0.6M224.0,289.5h0.6M208.9,223.4h0.6M208.9,303.0h0.6M245.1,273.2h0.6M190.9,267.8h0.6M215.9,260.3h0.6M236.4,281.7h0.6M245.1,289.9h0.6M241.1,257.1h0.6M206.5,252.3h0.6M197.2,238.4h0.6M213.5,267.7h0.6M220.8,288.0h0.6M180.6,265.6h0.6M166.1,298.0h0.6M219.7,247.6h0.6M228.9,239.2h0.6M245.8,266.9h0.6M162.6,216.0h0.6M213.6,220.6h0.6M160.0,229.7h0.6M185.1,274.4h0.6M246.2,291.4h0.6M180.5,248.6h0.6M152.5,284.9h0.6M228.2,265.5h0.6M234.4,230.0h0.6M226.5,234.5h0.6M224.5,257.2h0.6M190.5,293.0h0.6M243.7,307.7h0.6M197.0,264.3h0.6M226.9,250.0h0.6M204.2,274.9h0.6M229.7,239.4h0.6M188.4,267.6h0.6M234.0,269.3h0.6M193.9,274.3h0.6M205.7,246.9h0.6M188.0,308.6h0.6M219.0,259.1h0.6M229.5,227.1h0.6M221.3,274.6h0.6M192.9,255.2h0.6M217.8,238.3h0.6M221.3,276.5h0.6M189.7,282.8h0.6M242.5,287.2h0.6M238.2,240.8h0.6M198.1,240.5h0.6M192.8,275.6h0.6M213.0,234.2h0.6M188.7,235.8h0.6M208.3,255.8h0.6M229.4,299.2h0.6M187.9,276.7h0.6M232.3,287.1h0.6M213.6,286.5h0.6M222.0,269.0h0.6M204.2,300.0h0.6M201.2,222.4h0.6M221.1,302.4h0.6M196.3,269.9h0.6M217.2,238.1h0.6M228.4,294.7h0.6M223.4,227.8h0.6M230.7,281.6h0.6M202.5,236.7h0.6M202.1,225.6h0.6M225.5,282.0h0.6M236.7,300.7h0.6M201.0,258.4h0.6M189.3,267.0h0.6M200.4,252.5h0.6M246.1,225.9h0.6M204.5,225.0h0.6M195.3,306.2h0.6M220.7,307.0h0.6M210.7,234.5h0.6M230.8,248.6h0.6M196.9,278.6h0.6M241.4,308.1h0.6M194.7,275.5h0.6M211.2,284.4h0.6M218.1,227.8h0.6M209.6,223.8h0.6M204.9,263.4h0.6M197.1,258.0h0.6M190.0,250.8h0.6M241.3,227.0h0.6M213.0,247.6h0.6M224.0,232.0h0.6M207.0,276.6h0.6M191.1,290.4h0.6M206.1,276.4h0.6M213.7,260.2h0.6M235.5,303.5h0.6M191.6,266.3h0.6M187.9,247.8h0.6M199.2,247.3h0.6M213.4,284.3h0.6M214.2,270.5h0.6M219.1,247.8h0.6M210.6,250.8h0.6M238.4,275.7h0.6M233.2,267.4h0.6M208.2,294.7h0.6M232.1,295.1h0.6M239.1,252.3h0.6M202.8,283.4h0.6M201.6,237.5h0.6M245.1,257.8h0.6M219.6,252.2h0.6M223.2,240.0h0.6M212.3,265.3h0.6M194.1,294.9h0.6M191.6,237.3h0.6M195.4,291.2h0.6M208.9,295.3h0.6M204.0,287.8h0.6M232.4,250.7h0.6M225.5,278.7h0.6M211.0,233.3h0.6M195.4,267.9h0.6M222.9,250.1h0.6M191.1,274.4h0.6M214.8,273.7h0.6M232.4,272.3h0.6M190.5,291.9h0.6M197.8,228.5h0.6M236.1,273.9h0.6M213.3,241.8h0.6M236.0,270.5h0.6M206.3,262.4h0.6M224.7,266.5h0.6M218.7,280.9h0.6M244.9,263.5h0.6M209.6,258.0h0.6M197.9,269.3h0.6M246.6,275.6h0.6M215.0,276.9h0.6M227.3,249.6h0.6M228.4,249.2h0.6M202.6,235.0h0.6M219.7,296.2h0.6M208.8,226.9h0.6M242.8,255.5h0.6M242.6,298.6h0.6M236.6,226.3h0.6M211.9,237.6h0.6M221.4,274.5h0.6M206.3,242.5h0.6M216.5,290.2h0.6M237.3,266.8h0.6M211.9,252.5h0.6M233.7,271.3h0.6M218.5,280.2h0.6M214.8,304.8h0.6M203.6,222.7h0.6M208.4,269.5h0.6M224.9,227.7h0.6M195.7,280.1h0.6M205.9,259.2h0.6M218.0,274.4h0.6M227.7,298.9h0.6M229.2,286.2h0.6M188.6,235.6h0.6M209.8,227.5h0.6M225.9,248.6h0.6M213.5,270.1h0.6M234.8,257.0h0.6M246.1,297.8h0.6M200.7,241.4h0.6M193.3,290.7h0.6M189.7,255.7h0.6M210.1,232.6h0.6M197.3,275.9h0.6M236.0,283.8h0.6M213.2,268.0h0.6M231.6,230.9h0.6M234.0,254.1h0.6M237.6,277.2h0.6M195.2,227.9h0.6M197.1,262.5h0.6M198.0,250.9h0.6M229.1,261.1h0.6M229.4,276.2h0.6M201.7,267.3h0.6M221.3,238.3h0.6M191.6,266.9h0.6M236.8,299.5h0.6M228.4,237.9h0.6M195.3,296.1h0.6M208.7,270.8h0.6M234.9,249.3h0.6M234.3,264.8h0.6M236.4,247.0h0.6M216.0,302.0h0.6M211.6,265.6h0.6M197.8,244.6h0.6M204.9,257.9h0.6M224.6,248.1h0.6M226.2,288.7h0.6M189.4,229.3h0.6M208.9,309.2h0.6M236.3,308.9h0.6M208.1,241.4h0.6M209.8,259.6h0.6M222.3,231.4h0.6M196.0,269.3h0.6M208.3,233.3h0.6M197.5,239.0h0.6M227.4,252.0h0.6M207.7,285.3h0.6M230.8,286.1h0.6M226.5,264.1h0.6M225.0,225.0h0.6M227.8,261.1h0.6M210.1,294.7h0.6M195.9,307.6h0.6M206.3,225.9h0.6M244.4,279.7h0.6M225.2,264.3h0.6M224.3,308.5h0.6M203.9,228.4h0.6M230.4,294.4h0.6M190.4,289.2h0.6M187.7,225.6h0.6M231.0,249.1h0.6M229.1,278.7h0.6M224.4,281.0h0.6M245.4,224.1h0.6M245.3,284.2h0.6M218.2,233.9h0.6M201.0,280.5h0.6M240.9,248.2h0.6M229.0,258.0h0.6M208.4,236.0h0.6M213.6,288.2h0.6M213.3,284.0h0.6M202.8,299.8h0.6M208.3,247.8h0.6M220.0,276.7h0.6M215.7,246.1h0.6M237.1,290.1h0.6M242.3,266.8h0.6M237.4,269.0h0.6M241.6,261.3h0.6M230.8,249.0h0.6M238.5,293.8h0.6M195.4,253.2h0.6M234.6,278.6h0.6M218.3,286.4h0.6M222.7,271.7h0.6M213.6,235.7h0.6M205.1,232.8h0.6M207.8,256.2h0.6M242.8,258.5h0.6M207.6,270.7h0.6M191.9,269.7h0.6" stroke="#9a9a9a" stroke-width="0.6" fill="none" opacity="0.75"/>
<ellipse cx="216.4" cy="242.6" rx="4.6" ry="1.9" transform="rotate(-42 216.4 242.6)" fill="#000" opacity="0.4"/>
<ellipse cx="230.0" cy="283.5" rx="7.0" ry="3.4" transform="rotate(90 230.0 283.5)" fill="#000" opacity="0.15"/>
<path d="M204.0,257.9 L203.2,257.9 L202.8,257.9 L202.0,257.6 L201.6,257.4 L201.1,257.1 L200.7,256.7 L200.4,256.2 L200.1,255.5 L200.0,255.1 L199.8,254.3 L199.6,253.5 L199.5,253.1 L199.4,252.3 L199.2,251.5 L199.3,250.7 L199.4,249.9 L199.6,249.2 L199.8,248.7 L200.0,248.3 L200.4,247.7 L200.8,247.1 L201.1,246.7 L201.4,246.3 L201.7,245.9 L202.1,245.5 L202.5,245.1 L203.2,244.7 L203.6,244.5 L204.1,244.3 L204.8,244.1 L205.3,243.9 L206.0,243.6 L206.4,243.4 L207.0,243.1 L207.5,242.7 L208.0,242.3 L208.4,241.9 L208.8,241.5 L209.2,241.1 L209.6,240.7 L210.0,240.3 L210.4,239.9 L210.8,239.5 L211.2,239.1 L211.6,238.8 L212.0,238.4 L212.4,238.1 L212.8,237.8 L213.3,237.5 L213.9,237.1 L214.4,236.8 L214.8,236.5 L215.2,236.3 L216.0,235.9 L216.4,235.7 L217.0,235.5 L217.6,235.3 L218.3,235.1 L218.8,234.9 L219.6,234.8 L220.0,234.6 L220.8,234.3 L221.2,234.1 L221.6,233.9 L222.1,233.5 L222.7,233.1 L223.2,232.7 L223.6,232.5 L224.0,232.2 L224.5,231.9 L225.2,231.5 L225.6,231.3 L226.0,231.1 L226.5,230.7 L226.9,230.3 L227.3,229.9 L227.6,229.5 L228.0,229.0 L228.4,228.6 L228.8,228.2 L229.2,227.8 L229.6,227.5 L230.2,227.1 L230.8,226.8 L231.2,226.7 L232.0,226.5 L232.6,226.7 L233.1,227.1 L233.2,227.5 L233.2,228.2 L233.1,228.7 L232.8,229.4 L232.5,229.9 L232.2,230.3 L231.9,230.7 L231.5,231.1 L231.1,231.5 L230.7,231.9 L230.2,232.3 L229.7,232.7 L229.3,233.1 L228.9,233.5 L228.6,233.9 L228.4,234.3 L228.0,234.9 L227.6,235.5 L227.4,235.9 L227.1,236.3 L226.8,236.7 L226.4,237.2 L226.0,237.7 L225.7,238.3 L225.5,238.7 L225.2,239.5 L225.2,239.9 L225.0,240.7 L224.8,241.3 L224.6,241.9 L224.4,242.5 L224.1,243.1 L223.9,243.5 L223.6,244.1 L223.2,244.7 L223.0,245.1 L222.7,245.5 L222.4,245.9 L222.0,246.3 L221.6,246.8 L221.2,247.2 L220.8,247.6 L220.4,248.0 L220.0,248.3 L219.6,248.7 L219.1,249.1 L218.5,249.5 L218.0,249.9 L217.6,250.1 L217.2,250.4 L216.6,250.7 L216.0,251.0 L215.6,251.3 L215.1,251.5 L214.4,251.8 L214.0,252.0 L213.4,252.3 L212.8,252.5 L212.4,252.7 L211.6,253.0 L211.2,253.2 L210.5,253.5 L210.0,253.7 L209.6,253.9 L208.9,254.3 L208.4,254.7 L208.0,255.0 L207.6,255.4 L207.2,255.9 L206.8,256.3 L206.5,256.7 L206.0,257.1 L205.6,257.4 L205.2,257.6 L204.4,257.8 L204.0,257.9M175.2,246.7 L174.4,246.8 L173.6,246.9 L172.8,247.0 L172.0,247.0 L171.2,247.0 L170.4,247.0 L169.6,247.0 L168.8,246.9 L168.0,246.8 L167.4,246.7 L166.8,246.6 L166.0,246.5 L165.4,246.3 L164.8,246.2 L164.0,245.9 L163.6,245.8 L162.8,245.5 L162.4,245.3 L161.9,245.1 L161.2,244.8 L160.8,244.6 L160.4,244.3 L159.7,243.9 L159.2,243.6 L158.8,243.3 L158.4,243.0 L158.0,242.6 L157.6,242.2 L157.2,241.8 L156.8,241.3 L156.4,240.7 L156.2,240.3 L156.0,239.9 L155.7,239.1 L155.6,238.7 L155.4,237.9 L155.4,237.1 L155.5,236.3 L155.6,235.9 L155.9,235.1 L156.1,234.7 L156.4,234.2 L156.8,233.7 L157.2,233.3 L157.6,232.9 L158.0,232.6 L158.4,232.3 L159.0,231.9 L159.6,231.6 L160.0,231.4 L160.7,231.1 L161.2,230.9 L161.9,230.7 L162.4,230.5 L163.2,230.3 L163.6,230.2 L164.4,230.0 L165.2,229.9 L165.6,229.8 L166.4,229.7 L167.2,229.6 L168.0,229.5 L168.8,229.5 L169.6,229.5 L170.4,229.6 L171.2,229.7 L172.0,229.8 L172.4,229.9 L173.2,230.1 L174.0,230.3 L174.4,230.4 L175.2,230.6 L175.6,230.7 L176.4,230.9 L176.8,231.1 L177.6,231.4 L178.0,231.5 L178.8,231.8 L179.2,232.0 L179.8,232.3 L180.4,232.6 L180.8,232.8 L181.3,233.1 L182.0,233.5 L182.4,233.7 L182.8,234.0 L183.4,234.3 L184.0,234.7 L184.4,235.0 L184.8,235.3 L185.2,235.6 L185.7,235.9 L186.2,236.3 L186.7,236.7 L187.2,237.1 L187.6,237.4 L188.0,237.7 L188.4,237.9 L189.0,238.3 L189.6,238.7 L190.0,238.9 L190.6,239.1 L191.2,239.3 L191.7,239.5 L192.4,239.7 L193.2,239.9 L193.6,239.9 L194.4,240.1 L195.2,240.2 L195.6,240.3 L196.4,240.5 L197.2,240.7 L197.6,240.8 L198.4,241.1 L198.8,241.3 L199.2,241.5 L199.7,241.9 L200.1,242.3 L200.3,243.1 L200.0,243.5 L199.4,243.9 L198.8,244.1 L198.0,244.3 L197.6,244.3 L196.8,244.4 L196.0,244.5 L195.2,244.5 L194.4,244.4 L193.6,244.4 L193.1,244.3 L192.4,244.2 L191.6,244.1 L190.8,244.0 L190.1,243.9 L189.6,243.9 L188.8,243.9 L188.2,243.9 L187.6,244.0 L186.8,244.1 L186.0,244.3 L185.6,244.4 L184.8,244.6 L184.4,244.7 L183.6,245.0 L183.1,245.1 L182.4,245.3 L181.6,245.5 L181.2,245.6 L180.4,245.8 L179.8,245.9 L179.2,246.0 L178.4,246.2 L177.9,246.3 L177.2,246.4 L176.4,246.6 L175.6,246.7 L175.2,246.7M230.4,303.2 L229.6,303.3 L228.8,303.2 L228.3,303.1 L227.6,302.9 L227.1,302.7 L226.4,302.4 L226.0,302.2 L225.3,301.9 L224.8,301.7 L224.3,301.5 L223.6,301.2 L223.2,301.0 L222.4,300.7 L222.0,300.5 L221.4,300.3 L220.8,300.0 L220.4,299.9 L219.7,299.5 L219.2,299.3 L218.8,299.1 L218.2,298.7 L217.6,298.3 L217.2,298.0 L216.8,297.7 L216.4,297.4 L216.0,297.0 L215.6,296.6 L215.2,296.2 L214.8,295.8 L214.4,295.3 L214.0,294.9 L213.6,294.4 L213.3,293.9 L213.0,293.5 L212.7,293.1 L212.4,292.7 L212.0,292.1 L211.7,291.5 L211.4,291.1 L211.2,290.6 L210.9,289.9 L210.7,289.5 L210.4,288.7 L210.3,288.3 L210.1,287.5 L210.0,287.1 L209.8,286.3 L209.7,285.5 L209.7,284.7 L209.6,283.9 L209.6,283.1 L209.7,282.3 L209.8,281.5 L210.0,280.7 L210.1,280.3 L210.4,279.5 L210.5,279.1 L210.8,278.5 L211.1,277.9 L211.3,277.5 L211.6,277.0 L212.0,276.3 L212.3,275.9 L212.5,275.5 L212.8,275.1 L213.2,274.5 L213.6,273.9 L213.9,273.5 L214.1,273.1 L214.4,272.7 L214.8,272.3 L215.2,271.8 L215.6,271.4 L216.0,271.0 L216.4,270.7 L216.9,270.3 L217.5,269.9 L218.0,269.6 L218.4,269.4 L218.8,269.1 L219.6,268.7 L220.0,268.5 L220.4,268.3 L221.1,267.9 L221.6,267.6 L222.0,267.4 L222.6,267.1 L223.2,266.8 L223.6,266.6 L224.1,266.3 L224.7,265.9 L225.2,265.6 L225.6,265.3 L226.0,265.0 L226.5,264.7 L227.1,264.3 L227.6,264.0 L228.0,263.8 L228.8,263.5 L229.2,263.4 L230.0,263.4 L230.7,263.5 L231.2,263.7 L231.7,263.9 L232.3,264.3 L232.8,264.7 L233.2,265.1 L233.5,265.5 L233.9,265.9 L234.1,266.3 L234.4,266.7 L234.8,267.4 L235.1,267.9 L235.3,268.3 L235.6,269.0 L235.8,269.5 L236.0,269.9 L236.3,270.7 L236.4,271.1 L236.7,271.9 L236.8,272.3 L237.0,273.1 L237.2,273.7 L237.4,274.3 L237.5,275.1 L237.6,275.5 L237.8,276.3 L238.0,277.1 L238.1,277.5 L238.2,278.3 L238.3,279.1 L238.4,279.5 L238.5,280.3 L238.6,281.1 L238.7,281.9 L238.8,282.7 L238.8,283.5 L238.8,283.9 L238.8,284.3 L238.8,285.1 L238.7,285.9 L238.6,286.7 L238.5,287.5 L238.4,288.0 L238.3,288.7 L238.1,289.5 L238.0,290.3 L237.9,290.7 L237.8,291.5 L237.6,292.3 L237.6,292.7 L237.4,293.5 L237.2,294.3 L237.1,294.7 L236.9,295.5 L236.8,295.9 L236.5,296.7 L236.4,297.1 L236.0,297.9 L235.8,298.3 L235.6,298.7 L235.2,299.4 L234.9,299.9 L234.6,300.3 L234.3,300.7 L233.9,301.1 L233.5,301.5 L233.0,301.9 L232.5,302.3 L232.0,302.6 L231.6,302.8 L230.8,303.1 L230.4,303.2" stroke="#2e2e2e" stroke-width="0.55" fill="none"/>
<path d="M204.4,256.9 L203.6,257.0 L202.8,256.9 L202.4,256.7 L201.8,256.3 L201.5,255.9 L201.2,255.1 L201.1,254.7 L200.9,253.9 L200.8,253.4 L200.6,252.7 L200.4,252.1 L200.3,251.5 L200.3,250.7 L200.4,249.9 L200.5,249.5 L200.8,248.9 L201.2,248.3 L201.5,247.9 L201.8,247.5 L202.2,247.1 L202.7,246.7 L203.2,246.3 L203.6,246.0 L204.0,245.8 L204.7,245.5 L205.2,245.3 L205.6,245.1 L206.4,244.7 L206.8,244.5 L207.2,244.2 L207.6,243.9 L208.0,243.5 L208.4,243.0 L208.8,242.6 L209.2,242.1 L209.6,241.6 L210.0,241.1 L210.3,240.7 L210.7,240.3 L211.1,239.9 L211.5,239.5 L211.9,239.1 L212.4,238.7 L212.8,238.4 L213.2,238.1 L213.6,237.8 L214.0,237.5 L214.7,237.1 L215.2,236.8 L215.6,236.6 L216.2,236.3 L216.8,236.0 L217.2,235.9 L218.0,235.6 L218.5,235.5 L219.2,235.3 L220.0,235.1 L220.4,235.0 L221.0,234.7 L221.6,234.3 L222.0,234.0 L222.4,233.7 L222.8,233.4 L223.2,233.1 L223.8,232.7 L224.4,232.4 L224.8,232.1 L225.3,231.9 L226.0,231.5 L226.4,231.3 L226.8,231.0 L227.2,230.6 L227.6,230.1 L228.0,229.5 L228.3,229.1 L228.7,228.7 L229.1,228.3 L229.6,227.9 L230.0,227.6 L230.4,227.4 L231.2,227.1 L231.6,227.0 L232.1,227.1 L232.6,227.5 L232.7,228.3 L232.5,229.1 L232.3,229.5 L232.0,230.0 L231.6,230.6 L231.2,231.0 L230.8,231.4 L230.4,231.7 L230.0,232.0 L229.6,232.3 L229.1,232.7 L228.7,233.1 L228.4,233.5 L228.0,234.2 L227.7,234.7 L227.5,235.1 L227.2,235.5 L226.8,236.1 L226.4,236.6 L226.0,237.1 L225.7,237.5 L225.4,237.9 L225.1,238.3 L224.8,239.1 L224.7,239.5 L224.5,240.3 L224.4,240.8 L224.2,241.5 L224.0,242.1 L223.7,242.7 L223.6,243.1 L223.2,243.8 L222.9,244.3 L222.6,244.7 L222.3,245.1 L222.0,245.5 L221.6,246.0 L221.2,246.5 L220.8,246.9 L220.4,247.3 L220.0,247.6 L219.6,248.0 L219.2,248.3 L218.7,248.7 L218.1,249.1 L217.6,249.4 L217.2,249.7 L216.8,249.9 L216.1,250.3 L215.6,250.6 L215.2,250.7 L214.4,251.1 L214.0,251.3 L213.5,251.5 L212.8,251.8 L212.4,251.9 L211.6,252.2 L211.2,252.4 L210.4,252.7 L210.0,252.9 L209.5,253.1 L208.8,253.4 L208.4,253.6 L207.9,253.9 L207.3,254.3 L206.9,254.7 L206.5,255.1 L206.2,255.5 L205.8,255.9 L205.4,256.3 L204.8,256.7 L204.4,256.9M175.2,245.9 L174.4,246.0 L173.6,246.1 L172.8,246.1 L172.0,246.2 L171.2,246.2 L170.4,246.1 L169.6,246.1 L168.8,246.0 L168.0,245.9 L167.6,245.8 L166.8,245.7 L166.0,245.5 L165.6,245.4 L164.8,245.2 L164.4,245.1 L163.6,244.8 L163.2,244.7 L162.4,244.3 L162.0,244.1 L161.6,243.9 L160.9,243.5 L160.4,243.2 L160.0,242.9 L159.6,242.6 L159.2,242.3 L158.8,241.9 L158.4,241.5 L158.0,241.1 L157.6,240.5 L157.2,239.9 L157.1,239.5 L156.8,238.8 L156.6,238.3 L156.5,237.5 L156.5,236.7 L156.6,235.9 L156.8,235.5 L157.2,234.7 L157.4,234.3 L157.8,233.9 L158.2,233.5 L158.6,233.1 L159.2,232.7 L159.6,232.4 L160.0,232.2 L160.7,231.9 L161.2,231.7 L161.7,231.5 L162.4,231.2 L162.9,231.1 L163.6,230.9 L164.4,230.7 L164.8,230.7 L165.6,230.5 L166.4,230.4 L167.2,230.3 L167.6,230.3 L168.4,230.2 L169.2,230.2 L170.0,230.3 L170.4,230.3 L171.2,230.4 L172.0,230.5 L172.8,230.7 L173.2,230.8 L174.0,231.0 L174.4,231.1 L175.2,231.3 L175.7,231.5 L176.4,231.7 L176.8,231.9 L177.6,232.2 L178.0,232.4 L178.7,232.7 L179.2,232.9 L179.6,233.1 L180.3,233.5 L180.8,233.8 L181.2,234.0 L181.7,234.3 L182.4,234.7 L182.8,235.0 L183.2,235.2 L183.6,235.5 L184.2,235.9 L184.7,236.3 L185.2,236.7 L185.6,237.0 L186.0,237.4 L186.4,237.7 L186.8,238.1 L187.2,238.4 L187.6,238.8 L188.0,239.1 L188.5,239.5 L189.1,239.9 L189.6,240.3 L190.0,240.6 L190.4,240.8 L191.0,241.1 L191.6,241.5 L192.0,241.7 L192.7,241.9 L192.0,242.1 L191.2,242.1 L190.4,242.2 L190.0,242.3 L189.2,242.4 L188.4,242.6 L188.0,242.7 L187.2,242.9 L186.7,243.1 L186.0,243.3 L185.5,243.5 L184.8,243.7 L184.3,243.9 L183.6,244.1 L183.1,244.3 L182.4,244.5 L181.7,244.7 L181.2,244.8 L180.4,245.0 L180.0,245.1 L179.2,245.3 L178.4,245.4 L178.0,245.5 L177.2,245.7 L176.4,245.8 L175.6,245.9 L175.2,245.9M230.8,301.9 L230.0,302.1 L229.2,302.1 L228.4,301.9 L228.0,301.8 L227.3,301.5 L226.8,301.3 L226.4,301.1 L225.6,300.7 L225.2,300.5 L224.8,300.3 L224.0,299.9 L223.6,299.7 L223.1,299.5 L222.4,299.2 L222.0,299.0 L221.4,298.7 L220.8,298.4 L220.4,298.2 L219.8,297.9 L219.2,297.5 L218.8,297.3 L218.4,297.0 L218.0,296.7 L217.5,296.3 L217.1,295.9 L216.7,295.5 L216.3,295.1 L215.9,294.7 L215.6,294.3 L215.2,293.8 L214.8,293.3 L214.4,292.7 L214.1,292.3 L213.8,291.9 L213.6,291.5 L213.2,290.8 L212.9,290.3 L212.7,289.9 L212.4,289.2 L212.2,288.7 L212.0,288.1 L211.8,287.5 L211.6,286.8 L211.5,286.3 L211.3,285.5 L211.2,284.7 L211.2,284.3 L211.2,283.5 L211.2,283.0 L211.3,282.3 L211.4,281.5 L211.6,280.8 L211.7,280.3 L212.0,279.7 L212.3,279.1 L212.5,278.7 L212.8,278.1 L213.2,277.5 L213.5,277.1 L213.8,276.7 L214.0,276.3 L214.4,275.8 L214.8,275.3 L215.2,274.7 L215.5,274.3 L215.9,273.9 L216.2,273.5 L216.6,273.1 L216.9,272.7 L217.4,272.3 L217.8,271.9 L218.3,271.5 L218.8,271.1 L219.2,270.8 L219.6,270.6 L220.0,270.3 L220.7,269.9 L221.2,269.6 L221.6,269.4 L222.1,269.1 L222.8,268.7 L223.2,268.5 L223.6,268.2 L224.1,267.9 L224.8,267.5 L225.2,267.2 L225.6,266.9 L226.0,266.6 L226.4,266.3 L226.9,265.9 L227.5,265.5 L228.0,265.2 L228.4,265.0 L229.2,264.8 L230.0,264.7 L230.8,264.8 L231.4,265.1 L232.0,265.4 L232.4,265.8 L232.8,266.1 L233.2,266.6 L233.6,267.1 L233.8,267.5 L234.1,267.9 L234.4,268.5 L234.7,269.1 L234.9,269.5 L235.2,270.2 L235.4,270.7 L235.6,271.3 L235.8,271.9 L236.0,272.5 L236.2,273.1 L236.4,273.9 L236.5,274.3 L236.7,275.1 L236.8,275.6 L237.0,276.3 L237.1,277.1 L237.2,277.5 L237.4,278.3 L237.5,279.1 L237.6,279.9 L237.7,280.3 L237.8,281.1 L237.9,281.9 L237.9,282.7 L237.9,283.5 L237.9,284.3 L237.9,285.1 L237.8,285.9 L237.8,286.7 L237.6,287.5 L237.6,287.9 L237.4,288.7 L237.3,289.5 L237.2,290.0 L237.1,290.7 L237.0,291.5 L236.8,292.3 L236.7,292.7 L236.6,293.5 L236.4,294.2 L236.3,294.7 L236.0,295.5 L235.9,295.9 L235.6,296.7 L235.5,297.1 L235.2,297.7 L234.9,298.3 L234.6,298.7 L234.4,299.1 L234.0,299.6 L233.6,300.1 L233.2,300.5 L232.8,300.9 L232.4,301.2 L231.9,301.5 L231.2,301.8 L230.8,301.9" stroke="#2e2e2e" stroke-width="0.55" fill="none"/>
<path d="M204.4,254.4 L203.6,254.4 L203.2,254.1 L202.8,253.7 L202.4,253.1 L202.2,252.7 L201.9,252.3 L201.6,251.5 L201.6,251.1 L201.6,250.3 L201.7,249.9 L202.0,249.1 L202.3,248.7 L202.6,248.3 L203.0,247.9 L203.5,247.5 L204.0,247.2 L204.4,246.9 L204.9,246.7 L205.6,246.4 L206.0,246.2 L206.6,245.9 L207.2,245.5 L207.6,245.2 L208.0,244.8 L208.4,244.3 L208.7,243.9 L209.0,243.5 L209.3,243.1 L209.6,242.6 L210.0,242.0 L210.4,241.5 L210.7,241.1 L211.0,240.7 L211.4,240.3 L211.8,239.9 L212.2,239.5 L212.6,239.1 L213.1,238.7 L213.6,238.3 L214.0,238.0 L214.4,237.8 L214.8,237.5 L215.6,237.1 L216.0,236.9 L216.4,236.7 L217.2,236.4 L217.6,236.2 L218.4,236.0 L218.8,235.9 L219.6,235.7 L220.4,235.5 L220.8,235.3 L221.2,235.1 L221.8,234.7 L222.3,234.3 L222.8,233.9 L223.2,233.6 L223.6,233.3 L224.0,233.0 L224.6,232.7 L225.2,232.4 L225.6,232.2 L226.4,231.9 L226.8,231.7 L227.2,231.4 L227.6,230.9 L228.0,230.3 L228.2,229.9 L228.5,229.5 L228.9,229.1 L229.2,228.7 L229.7,228.3 L230.4,227.9 L230.8,227.7 L231.6,227.7 L232.0,227.9 L232.1,228.7 L232.0,229.2 L231.6,229.9 L231.3,230.3 L231.0,230.7 L230.5,231.1 L230.0,231.5 L229.6,231.8 L229.2,232.0 L228.8,232.3 L228.3,232.7 L228.0,233.1 L227.6,233.9 L227.5,234.3 L227.2,234.8 L226.8,235.4 L226.5,235.9 L226.2,236.3 L225.8,236.7 L225.5,237.1 L225.1,237.5 L224.8,237.9 L224.4,238.6 L224.2,239.1 L224.0,239.9 L224.0,240.3 L223.8,241.1 L223.6,241.6 L223.4,242.3 L223.2,242.7 L222.8,243.4 L222.5,243.9 L222.3,244.3 L222.0,244.7 L221.6,245.2 L221.2,245.7 L220.8,246.1 L220.4,246.5 L220.0,246.9 L219.6,247.3 L219.2,247.6 L218.8,247.9 L218.3,248.3 L217.7,248.7 L217.2,249.0 L216.8,249.2 L216.3,249.5 L215.6,249.8 L215.2,250.0 L214.6,250.3 L214.0,250.5 L213.5,250.7 L212.8,251.0 L212.3,251.1 L211.6,251.3 L211.1,251.5 L210.4,251.7 L209.9,251.9 L209.2,252.2 L208.8,252.4 L208.1,252.7 L207.6,252.9 L207.2,253.1 L206.4,253.5 L206.0,253.7 L205.5,253.9 L204.8,254.3 L204.4,254.4M174.4,245.1 L173.6,245.2 L172.8,245.2 L172.0,245.2 L171.2,245.2 L170.4,245.2 L169.6,245.1 L169.2,245.1 L168.4,245.0 L167.6,244.8 L166.9,244.7 L166.4,244.6 L165.6,244.4 L165.2,244.3 L164.4,244.0 L164.0,243.9 L163.2,243.5 L162.8,243.4 L162.3,243.1 L161.6,242.7 L161.2,242.4 L160.8,242.1 L160.4,241.8 L160.0,241.5 L159.6,241.1 L159.2,240.7 L158.8,240.2 L158.4,239.6 L158.1,239.1 L158.0,238.7 L157.7,237.9 L157.6,237.1 L157.6,236.7 L157.6,236.3 L157.9,235.5 L158.0,235.1 L158.4,234.6 L158.8,234.1 L159.2,233.7 L159.6,233.4 L160.0,233.1 L160.7,232.7 L161.2,232.4 L161.6,232.3 L162.4,232.0 L162.8,231.8 L163.6,231.6 L164.0,231.5 L164.8,231.3 L165.6,231.2 L166.0,231.1 L166.8,231.0 L167.6,230.9 L168.4,230.9 L169.2,230.9 L170.0,230.9 L170.8,231.0 L171.3,231.1 L172.0,231.2 L172.8,231.4 L173.2,231.5 L174.0,231.7 L174.5,231.9 L175.2,232.1 L175.7,232.3 L176.4,232.6 L176.8,232.8 L177.6,233.1 L178.0,233.3 L178.4,233.5 L179.1,233.9 L179.6,234.2 L180.0,234.4 L180.5,234.7 L181.2,235.1 L181.6,235.4 L182.0,235.6 L182.4,235.9 L183.0,236.3 L183.5,236.7 L184.0,237.1 L184.4,237.5 L184.8,237.8 L185.2,238.3 L185.6,238.7 L185.9,239.1 L186.2,239.5 L186.4,239.9 L186.6,240.7 L186.4,241.3 L186.0,241.7 L185.6,242.0 L185.2,242.3 L184.5,242.7 L184.0,242.9 L183.6,243.1 L182.8,243.4 L182.4,243.6 L181.6,243.8 L181.2,244.0 L180.4,244.2 L179.9,244.3 L179.2,244.4 L178.4,244.6 L177.8,244.7 L177.2,244.8 L176.4,244.9 L175.6,245.0 L174.8,245.1 L174.4,245.1M230.8,300.8 L230.0,300.9 L229.2,300.9 L228.6,300.7 L228.0,300.5 L227.5,300.3 L226.8,299.9 L226.4,299.7 L226.0,299.5 L225.3,299.1 L224.8,298.8 L224.4,298.6 L223.9,298.3 L223.2,297.9 L222.8,297.7 L222.4,297.5 L221.7,297.1 L221.2,296.8 L220.8,296.6 L220.3,296.3 L219.8,295.9 L219.2,295.5 L218.8,295.1 L218.4,294.8 L218.0,294.4 L217.6,293.9 L217.2,293.5 L216.9,293.1 L216.6,292.7 L216.3,292.3 L216.0,291.8 L215.6,291.2 L215.3,290.7 L215.1,290.3 L214.8,289.8 L214.4,289.1 L214.2,288.7 L214.0,288.2 L213.7,287.5 L213.6,287.1 L213.3,286.3 L213.2,285.8 L213.0,285.1 L212.9,284.3 L212.9,283.5 L213.0,282.7 L213.1,281.9 L213.2,281.5 L213.5,280.7 L213.6,280.3 L214.0,279.6 L214.3,279.1 L214.5,278.7 L214.8,278.3 L215.2,277.8 L215.6,277.3 L216.0,276.8 L216.4,276.4 L216.8,275.9 L217.1,275.5 L217.5,275.1 L217.9,274.7 L218.2,274.3 L218.6,273.9 L219.0,273.5 L219.4,273.1 L219.9,272.7 L220.4,272.3 L220.8,272.0 L221.2,271.7 L221.6,271.4 L222.1,271.1 L222.7,270.7 L223.2,270.4 L223.6,270.1 L224.0,269.9 L224.5,269.5 L225.0,269.1 L225.5,268.7 L226.0,268.3 L226.4,268.0 L226.8,267.6 L227.2,267.3 L227.6,267.0 L228.1,266.7 L228.8,266.3 L229.2,266.2 L230.0,266.1 L230.8,266.2 L231.2,266.4 L231.7,266.7 L232.2,267.1 L232.6,267.5 L232.9,267.9 L233.2,268.3 L233.6,268.9 L233.9,269.5 L234.1,269.9 L234.4,270.5 L234.6,271.1 L234.8,271.6 L235.1,272.3 L235.2,272.7 L235.4,273.5 L235.6,274.1 L235.8,274.7 L236.0,275.5 L236.0,275.9 L236.2,276.7 L236.4,277.5 L236.4,277.9 L236.6,278.7 L236.7,279.5 L236.8,280.1 L236.9,280.7 L237.0,281.5 L237.0,282.3 L237.1,283.1 L237.1,283.9 L237.1,284.7 L237.0,285.5 L237.0,286.3 L236.9,287.1 L236.8,287.5 L236.7,288.3 L236.5,289.1 L236.4,289.9 L236.3,290.3 L236.2,291.1 L236.1,291.9 L236.0,292.3 L235.8,293.1 L235.6,293.9 L235.5,294.3 L235.3,295.1 L235.2,295.5 L234.9,296.3 L234.7,296.7 L234.4,297.4 L234.1,297.9 L233.9,298.3 L233.6,298.7 L233.2,299.2 L232.8,299.6 L232.4,299.9 L231.9,300.3 L231.2,300.6 L230.8,300.8" stroke="#2e2e2e" stroke-width="0.55" fill="none"/>
<path d="M229.2,231.2 L228.8,231.1 L228.7,231.1 L228.6,230.7 L228.7,230.3 L228.8,230.2 L228.9,229.9 L229.2,229.5 L229.2,229.5 L229.6,229.1 L229.6,229.1 L230.0,228.8 L230.1,228.7 L230.4,228.6 L230.8,228.5 L231.2,228.6 L231.3,228.7 L231.3,229.1 L231.2,229.5 L231.2,229.5 L230.9,229.9 L230.8,230.1 L230.6,230.3 L230.4,230.5 L230.1,230.7 L230.0,230.8 L229.6,231.0 L229.4,231.1 L229.2,231.2M176.8,243.9 L176.0,244.0 L175.2,244.1 L174.4,244.2 L173.6,244.2 L172.8,244.2 L172.0,244.2 L171.2,244.2 L170.4,244.1 L169.6,244.1 L168.8,244.0 L168.4,243.9 L167.6,243.7 L166.8,243.6 L166.4,243.5 L165.6,243.2 L165.2,243.1 L164.4,242.8 L164.0,242.7 L163.3,242.3 L162.8,242.1 L162.4,241.8 L161.9,241.5 L161.4,241.1 L160.9,240.7 L160.4,240.3 L160.1,239.9 L159.7,239.5 L159.4,239.1 L159.2,238.7 L158.9,237.9 L158.7,237.5 L158.7,236.7 L158.8,235.9 L158.9,235.5 L159.2,235.0 L159.6,234.5 L160.0,234.1 L160.4,233.7 L160.8,233.5 L161.4,233.1 L162.0,232.8 L162.4,232.6 L163.2,232.4 L163.6,232.2 L164.4,232.0 L164.9,231.9 L165.6,231.8 L166.4,231.6 L167.2,231.6 L168.0,231.5 L168.4,231.5 L168.8,231.5 L169.6,231.5 L170.4,231.6 L171.2,231.7 L172.0,231.9 L172.4,232.0 L173.2,232.2 L173.6,232.3 L174.4,232.6 L174.8,232.8 L175.6,233.1 L176.0,233.3 L176.4,233.5 L177.2,233.9 L177.6,234.1 L178.0,234.4 L178.5,234.7 L179.2,235.1 L179.6,235.4 L180.0,235.6 L180.4,235.9 L181.0,236.3 L181.6,236.7 L182.0,237.0 L182.4,237.3 L182.8,237.7 L183.2,238.1 L183.6,238.6 L183.9,239.1 L184.1,239.5 L184.3,240.3 L184.0,241.1 L183.7,241.5 L183.2,241.9 L182.8,242.2 L182.4,242.4 L181.7,242.7 L181.2,242.9 L180.6,243.1 L180.0,243.3 L179.2,243.5 L178.8,243.6 L178.0,243.7 L177.2,243.9 L176.8,243.9M206.4,251.9 L205.6,252.1 L204.8,252.1 L204.3,251.9 L203.7,251.5 L203.5,251.1 L203.3,250.3 L203.6,249.5 L203.8,249.1 L204.2,248.7 L204.7,248.3 L205.2,248.0 L205.6,247.9 L206.4,247.5 L206.8,247.3 L207.2,247.1 L207.7,246.7 L208.1,246.3 L208.4,245.9 L208.8,245.3 L209.1,244.7 L209.3,244.3 L209.6,243.8 L210.0,243.1 L210.2,242.7 L210.5,242.3 L210.8,241.8 L211.2,241.3 L211.6,240.8 L212.0,240.3 L212.4,239.9 L212.8,239.5 L213.2,239.2 L213.6,238.8 L214.0,238.5 L214.4,238.3 L215.0,237.9 L215.6,237.5 L216.0,237.3 L216.5,237.1 L217.2,236.8 L217.6,236.7 L218.4,236.4 L219.1,236.3 L219.6,236.2 L220.4,236.0 L220.8,235.9 L221.5,235.5 L222.0,235.1 L222.4,234.8 L222.8,234.4 L223.2,234.1 L223.6,233.8 L224.1,233.5 L224.8,233.1 L225.2,232.9 L226.0,232.7 L226.8,232.8 L227.0,233.5 L226.9,234.3 L226.7,234.7 L226.4,235.2 L226.0,235.8 L225.6,236.3 L225.3,236.7 L224.9,237.1 L224.5,237.5 L224.2,237.9 L223.9,238.3 L223.6,239.1 L223.5,239.5 L223.4,240.3 L223.2,241.1 L223.1,241.5 L222.8,242.3 L222.6,242.7 L222.4,243.1 L222.0,243.8 L221.7,244.3 L221.4,244.7 L221.1,245.1 L220.7,245.5 L220.3,245.9 L219.9,246.3 L219.5,246.7 L219.0,247.1 L218.5,247.5 L218.0,247.8 L217.6,248.1 L217.2,248.4 L216.6,248.7 L216.0,249.0 L215.6,249.2 L214.8,249.5 L214.4,249.7 L213.7,249.9 L213.2,250.1 L212.4,250.2 L212.0,250.3 L211.2,250.5 L210.4,250.6 L210.0,250.7 L209.2,250.9 L208.7,251.1 L208.0,251.4 L207.6,251.5 L206.8,251.8 L206.4,251.9M230.8,299.6 L230.0,299.7 L229.2,299.6 L228.7,299.5 L228.0,299.2 L227.6,299.0 L227.0,298.7 L226.4,298.3 L226.0,298.0 L225.6,297.7 L225.2,297.4 L224.8,297.1 L224.2,296.7 L223.6,296.3 L223.2,296.0 L222.8,295.8 L222.4,295.5 L221.8,295.1 L221.3,294.7 L220.8,294.3 L220.4,293.9 L220.0,293.6 L219.6,293.1 L219.2,292.7 L218.9,292.3 L218.6,291.9 L218.3,291.5 L218.0,291.0 L217.6,290.4 L217.3,289.9 L217.1,289.5 L216.8,289.1 L216.4,288.3 L216.2,287.9 L216.0,287.5 L215.6,286.7 L215.4,286.3 L215.2,285.6 L215.1,285.1 L214.9,284.3 L214.9,283.5 L214.9,282.7 L215.1,281.9 L215.2,281.5 L215.6,280.7 L215.8,280.3 L216.1,279.9 L216.4,279.4 L216.8,278.9 L217.2,278.4 L217.6,278.0 L218.0,277.6 L218.4,277.1 L218.8,276.7 L219.1,276.3 L219.5,275.9 L219.9,275.5 L220.2,275.1 L220.6,274.7 L221.0,274.3 L221.5,273.9 L221.9,273.5 L222.4,273.1 L222.8,272.8 L223.2,272.5 L223.6,272.2 L224.0,271.9 L224.5,271.5 L225.0,271.1 L225.4,270.7 L225.8,270.3 L226.3,269.9 L226.7,269.5 L227.1,269.1 L227.6,268.7 L228.0,268.4 L228.4,268.1 L228.8,267.9 L229.6,267.6 L230.4,267.7 L231.1,267.9 L231.6,268.2 L232.0,268.6 L232.4,269.0 L232.8,269.5 L233.0,269.9 L233.3,270.3 L233.6,270.9 L233.9,271.5 L234.0,271.9 L234.3,272.7 L234.5,273.1 L234.7,273.9 L234.8,274.3 L235.1,275.1 L235.2,275.7 L235.4,276.3 L235.5,277.1 L235.6,277.5 L235.8,278.3 L235.9,279.1 L236.0,279.9 L236.1,280.3 L236.2,281.1 L236.2,281.9 L236.3,282.7 L236.3,283.5 L236.3,284.3 L236.3,285.1 L236.2,285.9 L236.2,286.7 L236.0,287.5 L236.0,287.9 L235.9,288.7 L235.7,289.5 L235.6,290.1 L235.5,290.7 L235.4,291.5 L235.2,292.2 L235.1,292.7 L234.9,293.5 L234.8,294.0 L234.6,294.7 L234.4,295.3 L234.2,295.9 L234.0,296.3 L233.6,297.1 L233.3,297.5 L233.0,297.9 L232.7,298.3 L232.3,298.7 L231.8,299.1 L231.2,299.4 L230.8,299.6" stroke="#2e2e2e" stroke-width="0.55" fill="none"/>
<path d="M176.0,242.7 L175.2,242.8 L174.4,242.9 L173.6,242.9 L172.8,242.9 L172.0,242.9 L171.2,242.9 L170.4,242.8 L169.6,242.7 L169.2,242.6 L168.4,242.5 L167.6,242.3 L167.2,242.2 L166.4,242.0 L166.0,241.9 L165.2,241.7 L164.8,241.5 L164.0,241.1 L163.6,241.0 L163.1,240.7 L162.5,240.3 L162.0,240.0 L161.6,239.6 L161.2,239.3 L160.8,238.8 L160.4,238.3 L160.2,237.9 L160.0,237.4 L159.9,236.7 L160.0,235.9 L160.1,235.5 L160.4,235.1 L160.8,234.6 L161.2,234.2 L161.6,233.9 L162.3,233.5 L162.8,233.3 L163.2,233.1 L164.0,232.8 L164.5,232.7 L165.2,232.5 L166.0,232.4 L166.5,232.3 L167.2,232.2 L168.0,232.2 L168.8,232.2 L169.6,232.2 L170.4,232.3 L170.8,232.4 L171.6,232.5 L172.3,232.7 L172.8,232.9 L173.5,233.1 L174.0,233.3 L174.4,233.5 L175.1,233.9 L175.6,234.2 L176.0,234.4 L176.4,234.7 L176.9,235.1 L177.4,235.5 L177.9,235.9 L178.4,236.3 L178.8,236.6 L179.2,236.9 L179.6,237.2 L180.0,237.5 L180.5,237.9 L180.9,238.3 L181.2,238.7 L181.6,239.5 L181.7,239.9 L181.6,240.3 L181.2,241.0 L180.8,241.3 L180.4,241.6 L179.7,241.9 L179.2,242.1 L178.4,242.3 L178.0,242.4 L177.2,242.6 L176.4,242.7 L176.0,242.7M213.6,249.1 L212.8,249.3 L212.0,249.3 L211.2,249.3 L210.5,249.1 L210.0,248.9 L209.6,248.5 L209.3,247.9 L209.3,247.1 L209.5,246.3 L209.6,245.8 L209.8,245.1 L210.0,244.6 L210.3,243.9 L210.5,243.5 L210.8,242.9 L211.1,242.3 L211.4,241.9 L211.7,241.5 L212.0,241.1 L212.4,240.6 L212.8,240.2 L213.2,239.8 L213.6,239.4 L214.0,239.1 L214.5,238.7 L215.1,238.3 L215.6,238.0 L216.0,237.8 L216.7,237.5 L217.2,237.3 L217.8,237.1 L218.4,236.9 L219.2,236.8 L220.0,236.7 L220.4,236.6 L221.2,236.4 L221.6,236.3 L222.1,235.9 L222.6,235.5 L223.0,235.1 L223.4,234.7 L224.0,234.3 L224.4,234.0 L224.8,233.9 L225.6,233.8 L225.9,234.3 L225.7,235.1 L225.5,235.5 L225.1,235.9 L224.8,236.3 L224.4,236.7 L224.0,237.1 L223.6,237.5 L223.2,238.1 L223.0,238.7 L222.9,239.5 L222.8,240.3 L222.7,240.7 L222.5,241.5 L222.4,241.9 L222.1,242.7 L221.9,243.1 L221.6,243.5 L221.2,244.1 L220.8,244.6 L220.4,245.1 L220.0,245.5 L219.6,245.9 L219.2,246.3 L218.8,246.6 L218.4,246.9 L218.0,247.2 L217.5,247.5 L216.8,247.9 L216.4,248.1 L216.0,248.3 L215.2,248.7 L214.8,248.8 L214.0,249.1 L213.6,249.1M231.2,298.0 L230.4,298.2 L229.6,298.3 L228.8,298.1 L228.4,297.9 L227.7,297.5 L227.2,297.1 L226.8,296.8 L226.4,296.4 L226.0,296.0 L225.6,295.6 L225.2,295.2 L224.8,294.8 L224.4,294.4 L224.0,293.9 L223.6,293.5 L223.2,293.1 L222.8,292.7 L222.4,292.3 L222.0,291.9 L221.7,291.5 L221.3,291.1 L221.0,290.7 L220.7,290.3 L220.4,289.8 L220.0,289.3 L219.6,288.7 L219.3,288.3 L219.1,287.9 L218.8,287.4 L218.4,286.7 L218.2,286.3 L218.0,285.9 L217.7,285.1 L217.6,284.5 L217.5,283.9 L217.5,283.1 L217.6,282.7 L217.8,281.9 L218.0,281.5 L218.4,280.8 L218.7,280.3 L219.0,279.9 L219.3,279.5 L219.7,279.1 L220.0,278.7 L220.4,278.2 L220.8,277.8 L221.2,277.3 L221.6,276.8 L222.0,276.4 L222.4,276.0 L222.8,275.6 L223.2,275.2 L223.6,274.8 L224.0,274.4 L224.4,274.0 L224.8,273.6 L225.2,273.2 L225.6,272.8 L226.0,272.3 L226.4,271.9 L226.8,271.5 L227.2,271.1 L227.6,270.7 L228.0,270.3 L228.4,270.0 L228.8,269.8 L229.5,269.5 L230.0,269.4 L230.4,269.5 L231.2,269.8 L231.6,270.2 L232.0,270.6 L232.4,271.1 L232.7,271.5 L232.9,271.9 L233.2,272.5 L233.5,273.1 L233.6,273.5 L233.9,274.3 L234.0,274.7 L234.3,275.5 L234.4,276.0 L234.6,276.7 L234.8,277.5 L234.8,277.9 L235.0,278.7 L235.1,279.5 L235.2,280.0 L235.3,280.7 L235.4,281.5 L235.5,282.3 L235.5,283.1 L235.5,283.9 L235.5,284.7 L235.5,285.5 L235.4,286.3 L235.3,287.1 L235.2,287.9 L235.1,288.3 L235.0,289.1 L234.8,289.9 L234.8,290.3 L234.6,291.1 L234.4,291.9 L234.3,292.3 L234.1,293.1 L234.0,293.6 L233.8,294.3 L233.6,294.8 L233.3,295.5 L233.1,295.9 L232.8,296.4 L232.4,297.0 L232.0,297.4 L231.6,297.7 L231.2,298.0" stroke="#2e2e2e" stroke-width="0.55" fill="none"/>
<path d="M173.6,241.1 L172.8,241.2 L172.0,241.2 L171.2,241.2 L170.4,241.2 L169.6,241.1 L169.2,241.1 L168.4,241.0 L167.6,240.8 L167.1,240.7 L166.4,240.6 L165.6,240.3 L165.2,240.2 L164.4,239.9 L164.0,239.7 L163.6,239.5 L162.9,239.1 L162.4,238.7 L162.0,238.3 L161.6,237.9 L161.4,237.5 L161.2,236.8 L161.2,236.3 L161.3,235.9 L161.6,235.3 L162.0,234.8 L162.4,234.5 L162.8,234.2 L163.4,233.9 L164.0,233.6 L164.4,233.5 L165.2,233.3 L165.9,233.1 L166.4,233.0 L167.2,232.9 L168.0,232.9 L168.8,232.9 L169.6,232.9 L170.4,233.0 L170.8,233.1 L171.6,233.3 L172.2,233.5 L172.8,233.8 L173.2,233.9 L173.9,234.3 L174.4,234.7 L174.8,235.0 L175.2,235.4 L175.6,235.8 L176.0,236.3 L176.3,236.7 L176.5,237.1 L176.8,237.6 L177.2,238.3 L177.4,238.7 L177.5,239.5 L177.2,239.9 L176.8,240.3 L176.0,240.6 L175.6,240.8 L174.8,240.9 L174.0,241.1 L173.6,241.1M214.0,248.3 L213.2,248.4 L212.4,248.4 L212.0,248.3 L211.2,247.9 L210.8,247.5 L210.6,247.1 L210.5,246.3 L210.5,245.5 L210.7,244.7 L210.8,244.3 L211.1,243.5 L211.3,243.1 L211.6,242.5 L212.0,241.9 L212.3,241.5 L212.6,241.1 L212.9,240.7 L213.3,240.3 L213.7,239.9 L214.2,239.5 L214.7,239.1 L215.2,238.8 L215.6,238.5 L216.0,238.3 L216.8,237.9 L217.2,237.8 L218.0,237.5 L218.4,237.5 L219.2,237.3 L220.0,237.3 L220.8,237.4 L221.5,237.5 L222.0,237.9 L222.1,238.3 L222.2,239.1 L222.2,239.9 L222.1,240.7 L222.0,241.3 L221.8,241.9 L221.6,242.4 L221.3,243.1 L221.0,243.5 L220.8,243.9 L220.4,244.4 L220.0,244.8 L219.6,245.2 L219.2,245.6 L218.8,246.0 L218.4,246.3 L217.8,246.7 L217.2,247.1 L216.8,247.3 L216.4,247.5 L215.6,247.9 L215.2,248.0 L214.4,248.2 L214.0,248.3M230.8,296.5 L230.0,296.7 L229.2,296.6 L228.6,296.3 L228.0,295.9 L227.6,295.5 L227.2,295.1 L226.9,294.7 L226.6,294.3 L226.3,293.9 L226.0,293.4 L225.6,292.7 L225.3,292.3 L225.1,291.9 L224.8,291.3 L224.4,290.7 L224.2,290.3 L223.9,289.9 L223.6,289.4 L223.2,288.8 L222.8,288.3 L222.5,287.9 L222.2,287.5 L222.0,287.1 L221.6,286.5 L221.3,285.9 L221.1,285.5 L220.8,284.7 L220.8,284.3 L220.7,283.5 L220.8,283.0 L221.0,282.3 L221.2,281.8 L221.6,281.1 L221.8,280.7 L222.0,280.3 L222.4,279.8 L222.8,279.2 L223.1,278.7 L223.4,278.3 L223.6,277.9 L224.0,277.4 L224.4,276.8 L224.8,276.3 L225.0,275.9 L225.3,275.5 L225.6,275.1 L226.0,274.6 L226.4,274.1 L226.8,273.7 L227.2,273.2 L227.6,272.8 L228.0,272.4 L228.4,272.1 L228.8,271.8 L229.6,271.5 L230.4,271.6 L231.1,271.9 L231.5,272.3 L231.9,272.7 L232.2,273.1 L232.4,273.5 L232.8,274.3 L233.0,274.7 L233.2,275.2 L233.4,275.9 L233.6,276.4 L233.8,277.1 L234.0,277.9 L234.1,278.3 L234.2,279.1 L234.4,279.9 L234.4,280.3 L234.6,281.1 L234.7,281.9 L234.7,282.7 L234.8,283.5 L234.8,284.3 L234.7,285.1 L234.7,285.9 L234.6,286.7 L234.5,287.5 L234.4,287.9 L234.3,288.7 L234.1,289.5 L234.0,289.9 L233.8,290.7 L233.6,291.5 L233.5,291.9 L233.3,292.7 L233.2,293.1 L232.9,293.9 L232.7,294.3 L232.4,294.9 L232.0,295.5 L231.6,295.9 L231.2,296.3 L230.8,296.5" stroke="#2e2e2e" stroke-width="0.55" fill="none"/>
<path d="M170.4,239.5 L169.6,239.5 L168.8,239.5 L168.2,239.5 L167.6,239.4 L166.8,239.3 L166.0,239.1 L165.6,239.0 L164.8,238.7 L164.4,238.5 L164.0,238.3 L163.5,237.9 L163.1,237.5 L162.8,237.0 L162.7,236.3 L162.8,235.9 L163.2,235.3 L163.6,234.9 L164.0,234.7 L164.7,234.3 L165.2,234.1 L166.0,233.9 L166.4,233.8 L167.2,233.7 L168.0,233.7 L168.8,233.7 L169.6,233.7 L170.4,233.9 L170.8,234.0 L171.6,234.3 L172.0,234.5 L172.4,234.7 L172.9,235.1 L173.3,235.5 L173.6,235.9 L174.0,236.7 L173.9,237.5 L173.6,238.2 L173.2,238.6 L172.8,238.8 L172.2,239.1 L171.6,239.3 L170.8,239.5 L170.4,239.5M214.4,247.6 L213.6,247.6 L212.8,247.5 L212.4,247.4 L212.0,247.1 L211.6,246.6 L211.3,245.9 L211.3,245.1 L211.5,244.3 L211.6,243.9 L211.9,243.1 L212.1,242.7 L212.4,242.2 L212.8,241.6 L213.2,241.1 L213.6,240.7 L214.0,240.3 L214.4,239.9 L214.8,239.6 L215.2,239.3 L215.6,239.0 L216.2,238.7 L216.8,238.4 L217.2,238.3 L218.0,238.1 L218.8,238.0 L219.6,238.0 L220.4,238.2 L220.8,238.4 L221.2,238.8 L221.5,239.5 L221.5,240.3 L221.5,241.1 L221.2,241.9 L221.1,242.3 L220.8,242.9 L220.4,243.5 L220.1,243.9 L219.8,244.3 L219.5,244.7 L219.1,245.1 L218.6,245.5 L218.1,245.9 L217.6,246.2 L217.2,246.5 L216.8,246.7 L216.0,247.1 L215.6,247.3 L214.8,247.5 L214.4,247.6M230.8,294.3 L230.0,294.6 L229.2,294.5 L228.8,294.2 L228.4,293.9 L228.0,293.4 L227.6,292.9 L227.3,292.3 L227.0,291.9 L226.8,291.4 L226.5,290.7 L226.3,290.3 L226.0,289.6 L225.8,289.1 L225.6,288.6 L225.3,287.9 L225.2,287.5 L224.9,286.7 L224.8,286.1 L224.6,285.5 L224.5,284.7 L224.5,283.9 L224.5,283.1 L224.5,282.3 L224.7,281.5 L224.8,281.0 L225.0,280.3 L225.2,279.5 L225.3,279.1 L225.6,278.4 L225.8,277.9 L226.0,277.5 L226.4,276.7 L226.7,276.3 L226.9,275.9 L227.2,275.5 L227.6,275.1 L228.0,274.7 L228.4,274.3 L229.2,273.9 L229.6,273.8 L230.4,273.9 L230.8,274.1 L231.2,274.4 L231.6,274.8 L232.0,275.4 L232.2,275.9 L232.4,276.3 L232.7,277.1 L232.9,277.5 L233.1,278.3 L233.2,278.7 L233.4,279.5 L233.6,280.3 L233.6,280.7 L233.8,281.5 L233.9,282.3 L233.9,283.1 L234.0,283.9 L234.0,284.7 L233.9,285.5 L233.8,286.3 L233.7,287.1 L233.6,287.7 L233.5,288.3 L233.3,289.1 L233.2,289.5 L232.9,290.3 L232.8,290.8 L232.6,291.5 L232.4,291.9 L232.1,292.7 L231.8,293.1 L231.6,293.5 L231.2,294.0 L230.8,294.3" stroke="#2e2e2e" stroke-width="0.55" fill="none"/>
<path d="M168.8,238.3 L168.0,238.3 L167.6,238.3 L166.8,238.1 L166.0,237.9 L165.6,237.7 L165.2,237.5 L164.7,237.1 L164.5,236.3 L164.8,235.6 L165.2,235.3 L165.6,235.1 L166.4,234.8 L166.8,234.7 L167.6,234.6 L168.4,234.5 L169.2,234.6 L169.6,234.7 L170.4,235.0 L170.8,235.2 L171.3,235.5 L171.6,235.9 L171.8,236.7 L171.6,237.2 L171.2,237.6 L170.7,237.9 L170.0,238.1 L169.2,238.3 L168.8,238.3M215.6,246.7 L214.8,246.9 L214.0,247.0 L213.2,246.8 L212.8,246.7 L212.4,246.3 L212.0,245.5 L212.0,245.1 L212.0,244.7 L212.1,243.9 L212.4,243.2 L212.6,242.7 L212.9,242.3 L213.2,241.8 L213.6,241.3 L214.0,240.8 L214.4,240.4 L214.8,240.1 L215.2,239.8 L215.6,239.5 L216.4,239.1 L216.8,238.9 L217.4,238.7 L218.0,238.5 L218.8,238.5 L219.6,238.6 L220.0,238.8 L220.5,239.1 L220.8,239.7 L220.9,240.3 L220.9,241.1 L220.8,241.6 L220.6,242.3 L220.4,242.7 L220.0,243.3 L219.6,243.9 L219.2,244.3 L218.8,244.7 L218.4,245.1 L218.0,245.4 L217.6,245.7 L217.2,246.0 L216.6,246.3 L216.0,246.6 L215.6,246.7M230.4,292.1 L229.6,292.1 L229.1,291.9 L228.7,291.5 L228.3,291.1 L228.0,290.6 L227.6,289.9 L227.4,289.5 L227.2,288.9 L227.0,288.3 L226.8,287.8 L226.6,287.1 L226.5,286.3 L226.4,285.9 L226.3,285.1 L226.2,284.3 L226.2,283.5 L226.3,282.7 L226.3,281.9 L226.4,281.2 L226.5,280.7 L226.6,279.9 L226.8,279.3 L227.0,278.7 L227.2,278.3 L227.6,277.5 L227.9,277.1 L228.2,276.7 L228.7,276.3 L229.2,276.0 L230.0,275.9 L230.8,276.3 L231.2,276.7 L231.4,277.1 L231.7,277.5 L232.0,278.2 L232.2,278.7 L232.4,279.3 L232.6,279.9 L232.8,280.7 L232.9,281.1 L233.0,281.9 L233.1,282.7 L233.2,283.5 L233.2,284.3 L233.2,285.1 L233.1,285.9 L233.0,286.7 L232.8,287.5 L232.7,287.9 L232.5,288.7 L232.3,289.1 L232.0,289.9 L231.8,290.3 L231.6,290.7 L231.2,291.4 L230.8,291.8 L230.4,292.1" stroke="#2e2e2e" stroke-width="0.55" fill="none"/>
<path d="M168.8,237.1 L168.4,237.2 L168.0,237.2 L167.6,237.1 L167.5,237.1 L167.2,237.0 L166.8,236.8 L166.6,236.7 L166.5,236.3 L166.7,235.9 L166.8,235.9 L167.2,235.7 L167.6,235.6 L168.0,235.5 L168.4,235.6 L168.8,235.6 L169.2,235.8 L169.4,235.9 L169.6,236.1 L169.7,236.3 L169.6,236.7 L169.6,236.7 L169.2,237.0 L168.8,237.1 L168.8,237.1M215.6,246.3 L214.8,246.5 L214.0,246.5 L213.3,246.3 L212.8,245.9 L212.6,245.5 L212.5,244.7 L212.5,243.9 L212.8,243.2 L213.0,242.7 L213.2,242.3 L213.6,241.8 L214.0,241.3 L214.4,240.8 L214.8,240.5 L215.2,240.1 L215.6,239.9 L216.2,239.5 L216.8,239.2 L217.2,239.1 L218.0,238.9 L218.8,238.9 L219.6,239.1 L220.0,239.4 L220.4,239.9 L220.5,240.3 L220.5,241.1 L220.4,241.7 L220.2,242.3 L220.0,242.7 L219.6,243.4 L219.2,243.9 L218.8,244.3 L218.4,244.7 L218.0,245.0 L217.6,245.3 L217.2,245.6 L216.6,245.9 L216.0,246.2 L215.6,246.3M230.4,290.1 L229.6,290.2 L229.1,289.9 L228.7,289.5 L228.4,289.0 L228.0,288.3 L227.9,287.9 L227.6,287.1 L227.5,286.7 L227.4,285.9 L227.3,285.1 L227.2,284.3 L227.2,283.5 L227.3,282.7 L227.3,281.9 L227.4,281.1 L227.6,280.4 L227.7,279.9 L228.0,279.2 L228.3,278.7 L228.6,278.3 L229.0,277.9 L229.6,277.6 L230.4,277.9 L230.8,278.2 L231.2,278.7 L231.4,279.1 L231.6,279.5 L231.9,280.3 L232.0,280.7 L232.2,281.5 L232.4,282.3 L232.4,282.7 L232.5,283.5 L232.5,284.3 L232.5,285.1 L232.4,285.9 L232.4,286.3 L232.2,287.1 L232.0,287.7 L231.8,288.3 L231.6,288.7 L231.2,289.4 L230.8,289.8 L230.4,290.1" stroke="#2e2e2e" stroke-width="0.55" fill="none"/>
<path d="M215.6,245.9 L214.8,246.1 L214.0,246.0 L213.6,245.8 L213.2,245.4 L212.9,244.7 L213.0,243.9 L213.2,243.1 L213.4,242.7 L213.6,242.3 L214.0,241.7 L214.4,241.3 L214.8,240.9 L215.2,240.5 L215.6,240.2 L216.1,239.9 L216.8,239.6 L217.2,239.4 L218.0,239.3 L218.8,239.3 L219.3,239.5 L219.8,239.9 L220.0,240.3 L220.1,241.1 L220.0,241.8 L219.8,242.3 L219.6,242.8 L219.2,243.4 L218.8,243.9 L218.4,244.3 L218.0,244.6 L217.6,245.0 L217.2,245.2 L216.7,245.5 L216.0,245.8 L215.6,245.9M230.4,288.1 L229.6,288.1 L229.2,287.8 L228.8,287.1 L228.6,286.7 L228.4,285.9 L228.3,285.5 L228.3,284.7 L228.2,283.9 L228.3,283.1 L228.4,282.3 L228.5,281.9 L228.7,281.1 L228.9,280.7 L229.2,280.2 L230.0,279.9 L230.6,280.3 L230.9,280.7 L231.2,281.4 L231.4,281.9 L231.6,282.7 L231.7,283.1 L231.8,283.9 L231.8,284.7 L231.7,285.5 L231.6,286.0 L231.4,286.7 L231.2,287.2 L230.8,287.8 L230.4,288.1" stroke="#2e2e2e" stroke-width="0.55" fill="none"/>
<path d="M215.6,245.6 L214.8,245.6 L214.1,245.5 L213.6,245.1 L213.4,244.7 L213.4,243.9 L213.6,243.1 L213.7,242.7 L214.0,242.3 L214.4,241.7 L214.8,241.3 L215.2,240.9 L215.6,240.6 L216.0,240.3 L216.8,239.9 L217.2,239.8 L218.0,239.7 L218.8,239.8 L219.2,240.0 L219.6,240.6 L219.7,241.1 L219.6,241.9 L219.5,242.3 L219.2,242.8 L218.8,243.4 L218.4,243.9 L218.0,244.3 L217.6,244.6 L217.2,244.9 L216.8,245.1 L216.0,245.4 L215.6,245.6" stroke="#2e2e2e" stroke-width="0.55" fill="none"/>
<path d="M216.0,245.1 L215.2,245.3 L214.4,245.1 L214.0,244.8 L213.8,244.3 L213.8,243.5 L214.0,242.9 L214.3,242.3 L214.6,241.9 L214.9,241.5 L215.4,241.1 L215.9,240.7 L216.4,240.4 L216.8,240.2 L217.6,240.0 L218.4,240.1 L218.8,240.3 L219.2,240.8 L219.3,241.5 L219.2,242.0 L218.9,242.7 L218.7,243.1 L218.4,243.5 L218.0,243.9 L217.5,244.3 L216.9,244.7 L216.4,245.0 L216.0,245.1" stroke="#2e2e2e" stroke-width="0.55" fill="none"/>
<path d="M215.6,244.8 L214.9,244.7 L214.4,244.3 L214.3,243.9 L214.4,243.1 L214.5,242.7 L214.8,242.2 L215.2,241.7 L215.6,241.3 L216.0,241.0 L216.6,240.7 L217.2,240.5 L218.0,240.5 L218.5,240.7 L218.8,241.3 L218.8,241.9 L218.7,242.3 L218.4,242.9 L218.0,243.4 L217.6,243.8 L217.2,244.1 L216.8,244.4 L216.0,244.7 L215.6,244.8" stroke="#2e2e2e" stroke-width="0.55" fill="none"/>
<path d="M215.6,244.3 L215.2,244.2 L214.8,243.7 L214.8,243.1 L214.9,242.7 L215.2,242.3 L215.6,241.8 L216.0,241.5 L216.6,241.1 L217.2,240.9 L218.0,241.1 L218.3,241.5 L218.3,242.3 L218.0,242.8 L217.6,243.3 L217.2,243.7 L216.8,243.9 L216.0,244.3 L215.6,244.3" stroke="#2e2e2e" stroke-width="0.55" fill="none"/>
<path d="M216.4,243.6 L216.0,243.6 L215.6,243.5 L215.6,243.5 L215.5,243.1 L215.6,242.7 L215.6,242.6 L215.8,242.3 L216.0,242.1 L216.2,241.9 L216.4,241.8 L216.8,241.6 L217.2,241.6 L217.6,241.8 L217.6,241.9 L217.6,242.3 L217.6,242.4 L217.4,242.7 L217.2,243.0 L217.1,243.1 L216.8,243.3 L216.5,243.5 L216.4,243.6" stroke="#2e2e2e" stroke-width="0.55" fill="none"/>
</g>
<line x1="199.30" y1="214.30" x2="199.30" y2="310.60" stroke="#555" stroke-width="0.7" />
<line x1="152.00" y1="261.00" x2="247.20" y2="261.00" stroke="#555" stroke-width="0.7" />
<line x1="152.00" y1="214.30" x2="247.20" y2="214.30" stroke="#222" stroke-width="0.9" />
<line x1="247.20" y1="214.30" x2="247.20" y2="310.60" stroke="#222" stroke-width="0.9" />
<line x1="152.00" y1="213.90" x2="152.00" y2="311.40" stroke="#000" stroke-width="1.5" />
<line x1="151.30" y1="310.60" x2="247.60" y2="310.60" stroke="#000" stroke-width="1.7" />
<line x1="164.00" y1="310.60" x2="164.00" y2="313.40" stroke="#000" stroke-width="1.0" />
<line x1="171.50" y1="310.60" x2="171.50" y2="313.40" stroke="#000" stroke-width="1.0" />
<line x1="196.50" y1="310.60" x2="196.50" y2="313.40" stroke="#000" stroke-width="1.0" />
<line x1="219.50" y1="310.60" x2="219.50" y2="313.40" stroke="#000" stroke-width="1.0" />
<line x1="241.50" y1="310.60" x2="241.50" y2="313.40" stroke="#000" stroke-width="1.0" />
<line x1="155.00" y1="310.60" x2="155.00" y2="312.50" stroke="#000" stroke-width="0.8" />
<line x1="158.00" y1="310.60" x2="158.00" y2="312.50" stroke="#000" stroke-width="0.8" />
<line x1="161.00" y1="310.60" x2="161.00" y2="312.50" stroke="#000" stroke-width="0.8" />
<line x1="166.50" y1="310.60" x2="166.50" y2="312.50" stroke="#000" stroke-width="0.8" />
<line x1="169.00" y1="310.60" x2="169.00" y2="312.50" stroke="#000" stroke-width="0.8" />
<line x1="179.03" y1="310.60" x2="179.03" y2="312.50" stroke="#000" stroke-width="0.8" />
<line x1="183.43" y1="310.60" x2="183.43" y2="312.50" stroke="#000" stroke-width="0.8" />
<line x1="186.55" y1="310.60" x2="186.55" y2="312.50" stroke="#000" stroke-width="0.8" />
<line x1="188.97" y1="310.60" x2="188.97" y2="312.50" stroke="#000" stroke-width="0.8" />
<line x1="190.95" y1="310.60" x2="190.95" y2="312.50" stroke="#000" stroke-width="0.8" />
<line x1="192.63" y1="310.60" x2="192.63" y2="312.50" stroke="#000" stroke-width="0.8" />
<line x1="194.08" y1="310.60" x2="194.08" y2="312.50" stroke="#000" stroke-width="0.8" />
<line x1="195.36" y1="310.60" x2="195.36" y2="312.50" stroke="#000" stroke-width="0.8" />
<line x1="203.42" y1="310.60" x2="203.42" y2="312.50" stroke="#000" stroke-width="0.8" />
<line x1="207.47" y1="310.60" x2="207.47" y2="312.50" stroke="#000" stroke-width="0.8" />
<line x1="210.35" y1="310.60" x2="210.35" y2="312.50" stroke="#000" stroke-width="0.8" />
<line x1="212.58" y1="310.60" x2="212.58" y2="312.50" stroke="#000" stroke-width="0.8" />
<line x1="214.40" y1="310.60" x2="214.40" y2="312.50" stroke="#000" stroke-width="0.8" />
<line x1="215.94" y1="310.60" x2="215.94" y2="312.50" stroke="#000" stroke-width="0.8" />
<line x1="217.27" y1="310.60" x2="217.27" y2="312.50" stroke="#000" stroke-width="0.8" />
<line x1="218.45" y1="310.60" x2="218.45" y2="312.50" stroke="#000" stroke-width="0.8" />
<line x1="226.12" y1="310.60" x2="226.12" y2="312.50" stroke="#000" stroke-width="0.8" />
<line x1="230.00" y1="310.60" x2="230.00" y2="312.50" stroke="#000" stroke-width="0.8" />
<line x1="232.75" y1="310.60" x2="232.75" y2="312.50" stroke="#000" stroke-width="0.8" />
<line x1="234.88" y1="310.60" x2="234.88" y2="312.50" stroke="#000" stroke-width="0.8" />
<line x1="236.62" y1="310.60" x2="236.62" y2="312.50" stroke="#000" stroke-width="0.8" />
<line x1="238.09" y1="310.60" x2="238.09" y2="312.50" stroke="#000" stroke-width="0.8" />
<line x1="239.37" y1="310.60" x2="239.37" y2="312.50" stroke="#000" stroke-width="0.8" />
<line x1="240.49" y1="310.60" x2="240.49" y2="312.50" stroke="#000" stroke-width="0.8" />
<line x1="149.20" y1="224.80" x2="152.00" y2="224.80" stroke="#000" stroke-width="1.0" />
<line x1="149.20" y1="245.30" x2="152.00" y2="245.30" stroke="#000" stroke-width="1.0" />
<line x1="149.20" y1="268.30" x2="152.00" y2="268.30" stroke="#000" stroke-width="1.0" />
<line x1="149.20" y1="289.50" x2="152.00" y2="289.50" stroke="#000" stroke-width="1.0" />
<line x1="149.20" y1="300.30" x2="152.00" y2="300.30" stroke="#000" stroke-width="1.0" />
<line x1="150.20" y1="283.12" x2="152.00" y2="283.12" stroke="#000" stroke-width="0.8" />
<line x1="150.20" y1="279.39" x2="152.00" y2="279.39" stroke="#000" stroke-width="0.8" />
<line x1="150.20" y1="276.74" x2="152.00" y2="276.74" stroke="#000" stroke-width="0.8" />
<line x1="150.20" y1="274.68" x2="152.00" y2="274.68" stroke="#000" stroke-width="0.8" />
<line x1="150.20" y1="273.00" x2="152.00" y2="273.00" stroke="#000" stroke-width="0.8" />
<line x1="150.20" y1="271.58" x2="152.00" y2="271.58" stroke="#000" stroke-width="0.8" />
<line x1="150.20" y1="270.35" x2="152.00" y2="270.35" stroke="#000" stroke-width="0.8" />
<line x1="150.20" y1="269.27" x2="152.00" y2="269.27" stroke="#000" stroke-width="0.8" />
<line x1="150.20" y1="261.38" x2="152.00" y2="261.38" stroke="#000" stroke-width="0.8" />
<line x1="150.20" y1="257.33" x2="152.00" y2="257.33" stroke="#000" stroke-width="0.8" />
<line x1="150.20" y1="254.45" x2="152.00" y2="254.45" stroke="#000" stroke-width="0.8" />
<line x1="150.20" y1="252.22" x2="152.00" y2="252.22" stroke="#000" stroke-width="0.8" />
<line x1="150.20" y1="250.40" x2="152.00" y2="250.40" stroke="#000" stroke-width="0.8" />
<line x1="150.20" y1="248.86" x2="152.00" y2="248.86" stroke="#000" stroke-width="0.8" />
<line x1="150.20" y1="247.53" x2="152.00" y2="247.53" stroke="#000" stroke-width="0.8" />
<line x1="150.20" y1="246.35" x2="152.00" y2="246.35" stroke="#000" stroke-width="0.8" />
<line x1="150.20" y1="239.13" x2="152.00" y2="239.13" stroke="#000" stroke-width="0.8" />
<line x1="150.20" y1="235.52" x2="152.00" y2="235.52" stroke="#000" stroke-width="0.8" />
<line x1="150.20" y1="232.96" x2="152.00" y2="232.96" stroke="#000" stroke-width="0.8" />
<line x1="150.20" y1="230.97" x2="152.00" y2="230.97" stroke="#000" stroke-width="0.8" />
<line x1="150.20" y1="229.35" x2="152.00" y2="229.35" stroke="#000" stroke-width="0.8" />
<line x1="150.20" y1="227.98" x2="152.00" y2="227.98" stroke="#000" stroke-width="0.8" />
<line x1="150.20" y1="226.79" x2="152.00" y2="226.79" stroke="#000" stroke-width="0.8" />
<line x1="150.20" y1="225.74" x2="152.00" y2="225.74" stroke="#000" stroke-width="0.8" />
<line x1="150.20" y1="303.30" x2="152.00" y2="303.30" stroke="#000" stroke-width="0.8" />
<line x1="150.20" y1="306.30" x2="152.00" y2="306.30" stroke="#000" stroke-width="0.8" />
<line x1="150.20" y1="309.30" x2="152.00" y2="309.30" stroke="#000" stroke-width="0.8" />
<line x1="150.20" y1="294.30" x2="152.00" y2="294.30" stroke="#000" stroke-width="0.8" />
<line x1="150.20" y1="297.30" x2="152.00" y2="297.30" stroke="#000" stroke-width="0.8" />
<text x="162.60" y="319.00" font-size="4.6" font-weight="bold" text-anchor="middle" fill="#111"  stroke="#111" stroke-width="0.25">0</text>
<text x="171.80" y="319.00" font-size="4.6" font-weight="bold" text-anchor="middle" fill="#111"  stroke="#111" stroke-width="0.25">10<tspan dy="-1.6" font-size="3.2">2</tspan></text>
<text x="196.30" y="319.00" font-size="4.6" font-weight="bold" text-anchor="middle" fill="#111"  stroke="#111" stroke-width="0.25">10<tspan dy="-1.6" font-size="3.2">3</tspan></text>
<text x="219.20" y="319.00" font-size="4.6" font-weight="bold" text-anchor="middle" fill="#111"  stroke="#111" stroke-width="0.25">10<tspan dy="-1.6" font-size="3.2">4</tspan></text>
<text x="240.60" y="319.00" font-size="4.6" font-weight="bold" text-anchor="middle" fill="#111"  stroke="#111" stroke-width="0.25">10<tspan dy="-1.6" font-size="3.2">5</tspan></text>
<text x="148.60" y="226.40" font-size="4.6" font-weight="bold" text-anchor="end" fill="#111"  stroke="#111" stroke-width="0.25">10<tspan dy="-1.6" font-size="3.2">5</tspan></text>
<text x="148.60" y="246.90" font-size="4.6" font-weight="bold" text-anchor="end" fill="#111"  stroke="#111" stroke-width="0.25">10<tspan dy="-1.6" font-size="3.2">4</tspan></text>
<text x="148.60" y="269.90" font-size="4.6" font-weight="bold" text-anchor="end" fill="#111"  stroke="#111" stroke-width="0.25">10<tspan dy="-1.6" font-size="3.2">3</tspan></text>
<text x="148.60" y="291.10" font-size="4.6" font-weight="bold" text-anchor="end" fill="#111"  stroke="#111" stroke-width="0.25">10<tspan dy="-1.6" font-size="3.2">2</tspan></text>
<text x="148.60" y="301.90" font-size="4.6" font-weight="bold" text-anchor="end" fill="#111"  stroke="#111" stroke-width="0.25">0</text>
<text x="155.00" y="224.90" font-size="9.5" font-weight="normal" text-anchor="start" fill="#666"  stroke="#666" stroke-width="0.38">10.2 (T)</text>
<text x="246.00" y="224.90" font-size="9.5" font-weight="normal" text-anchor="end" fill="#666"  stroke="#666" stroke-width="0.38">34.6 (B)</text>
<text x="155.00" y="307.50" font-size="9.5" font-weight="normal" text-anchor="start" fill="#666"  stroke="#666" stroke-width="0.38">0.474</text>
<text x="246.00" y="307.50" font-size="9.5" font-weight="normal" text-anchor="end" fill="#666"  stroke="#666" stroke-width="0.38">54.6 (M)</text>
<text x="59.60" y="204.80" font-size="16.2" font-weight="normal" text-anchor="start" fill="#000"  stroke="#000" stroke-width="0.25">Hif-1&#945;<tspan dx="0.4" dy="-5.6" font-size="10.3" font-weight="normal">fl/fl</tspan></text>
<text x="177.00" y="204.80" font-size="16.2" font-weight="normal" text-anchor="start" fill="#000"  stroke="#000" stroke-width="0.25">Hif-1&#945;<tspan dx="0.4" dy="-5.6" font-size="10.3" font-weight="normal">&#916;/&#916;</tspan></text>
<line x1="18.40" y1="325.30" x2="18.40" y2="269.00" stroke="#222" stroke-width="0.8" />
<path d="M18.4,264.6 L16.2,270.2 L20.6,270.2 Z" fill="#222"/>
<line x1="18.00" y1="325.30" x2="82.50" y2="325.30" stroke="#222" stroke-width="0.8" />
<path d="M87,325.3 L81.4,323.1 L81.4,327.5 Z" fill="#222"/>
<text x="27.00" y="342.20" font-size="10.9" font-weight="bold" text-anchor="start" fill="#000" >Gr1 Mac1 B220</text>
<text x="9.60" y="290.70" font-size="10.7" font-weight="bold" text-anchor="middle" fill="#000" transform="rotate(-90 9.60 290.70)" >B220 CD3</text>
</svg>
</body></html>
